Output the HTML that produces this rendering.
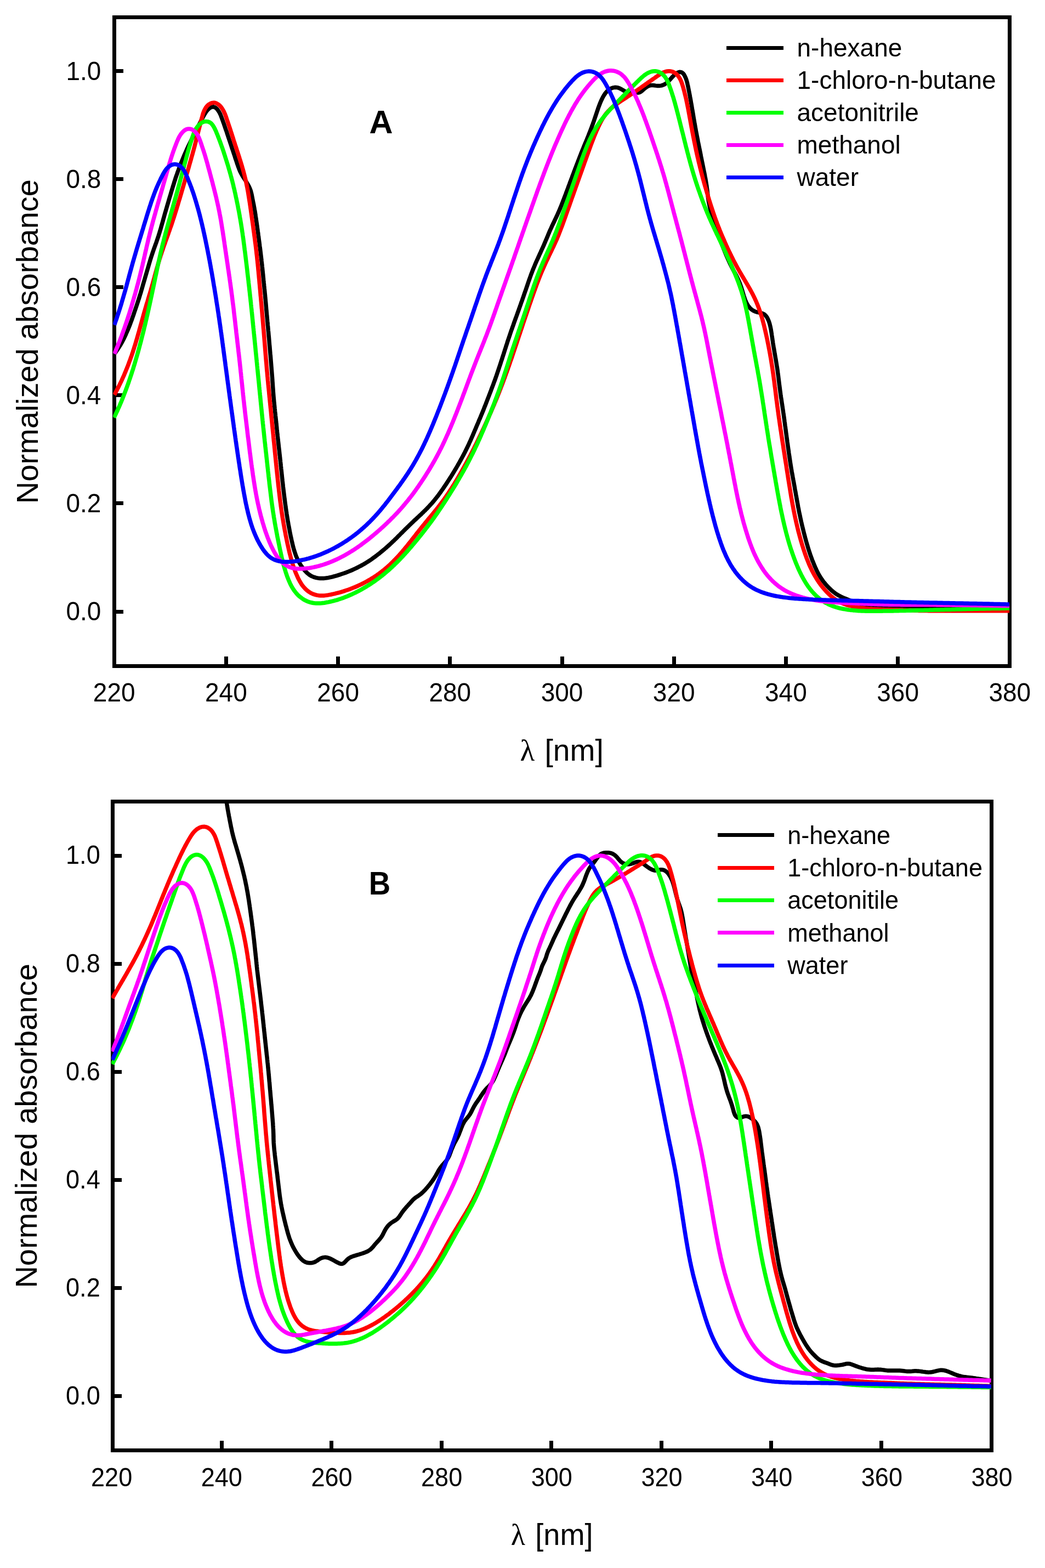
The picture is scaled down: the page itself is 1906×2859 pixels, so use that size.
<!DOCTYPE html>
<html lang="en"><head><meta charset="utf-8"><title>Normalized absorbance spectra</title>
<style>
html,body{margin:0;padding:0;background:#fff;}
body{width:1906px;height:2859px;overflow:hidden;}
svg{display:block;font-family:"Liberation Sans",Arial,Helvetica,sans-serif;fill:#000;}
</style></head><body>
<svg width="1906" height="2859" viewBox="0 0 1906 2859" role="img" aria-label="Normalized absorbance spectra in five solvents, panels A and B">
<rect width="1906" height="2859" fill="#fff"/>
<g>
<g stroke="#000" stroke-width="7.0" fill="none" shape-rendering="crispEdges">
<rect x="208.2" y="31.4" width="1633.6" height="1182.6"/>
<line x1="208.2" y1="1115.0" x2="225.2" y2="1115.0"/>
<line x1="208.2" y1="917.9" x2="225.2" y2="917.9"/>
<line x1="208.2" y1="720.8" x2="225.2" y2="720.8"/>
<line x1="208.2" y1="523.7" x2="225.2" y2="523.7"/>
<line x1="208.2" y1="326.6" x2="225.2" y2="326.6"/>
<line x1="208.2" y1="129.5" x2="225.2" y2="129.5"/>
<line x1="412.4" y1="1214.0" x2="412.4" y2="1197.0"/>
<line x1="616.6" y1="1214.0" x2="616.6" y2="1197.0"/>
<line x1="820.8" y1="1214.0" x2="820.8" y2="1197.0"/>
<line x1="1025.0" y1="1214.0" x2="1025.0" y2="1197.0"/>
<line x1="1229.2" y1="1214.0" x2="1229.2" y2="1197.0"/>
<line x1="1433.4" y1="1214.0" x2="1433.4" y2="1197.0"/>
<line x1="1637.6" y1="1214.0" x2="1637.6" y2="1197.0"/>
</g>
<text transform="translate(184.4 1131.0) scale(1.000 1.045)" text-anchor="end" font-size="46.0">0.0</text>
<text transform="translate(184.4 933.9) scale(1.000 1.045)" text-anchor="end" font-size="46.0">0.2</text>
<text transform="translate(184.4 736.8) scale(1.000 1.045)" text-anchor="end" font-size="46.0">0.4</text>
<text transform="translate(184.4 539.7) scale(1.000 1.045)" text-anchor="end" font-size="46.0">0.6</text>
<text transform="translate(184.4 342.6) scale(1.000 1.045)" text-anchor="end" font-size="46.0">0.8</text>
<text transform="translate(184.4 145.5) scale(1.000 1.045)" text-anchor="end" font-size="46.0">1.0</text>
<text transform="translate(208.2 1279.3) scale(1.000 1.045)" text-anchor="middle" font-size="46.0">220</text>
<text transform="translate(412.4 1279.3) scale(1.000 1.045)" text-anchor="middle" font-size="46.0">240</text>
<text transform="translate(616.6 1279.3) scale(1.000 1.045)" text-anchor="middle" font-size="46.0">260</text>
<text transform="translate(820.8 1279.3) scale(1.000 1.045)" text-anchor="middle" font-size="46.0">280</text>
<text transform="translate(1025.0 1279.3) scale(1.000 1.045)" text-anchor="middle" font-size="46.0">300</text>
<text transform="translate(1229.2 1279.3) scale(1.000 1.045)" text-anchor="middle" font-size="46.0">320</text>
<text transform="translate(1433.4 1279.3) scale(1.000 1.045)" text-anchor="middle" font-size="46.0">340</text>
<text transform="translate(1637.6 1279.3) scale(1.000 1.045)" text-anchor="middle" font-size="46.0">360</text>
<text transform="translate(1841.8 1279.3) scale(1.000 1.045)" text-anchor="middle" font-size="46.0">380</text>
<clipPath id="clipA"><rect x="206.2" y="31.4" width="1635.6" height="1182.6"/></clipPath>
<g clip-path="url(#clipA)" fill="none" stroke-width="7.5" stroke-linejoin="round" stroke-linecap="butt">
<path d="M208.6 645.2 L210.1 643.2 L211.6 641.2 L213.0 639.2 L214.4 637.1 L215.8 635.0 L217.2 632.9 L218.5 630.8 L219.8 628.7 L221.0 626.5 L222.3 624.3 L223.5 622.1 L224.6 619.9 L225.8 617.7 L226.9 615.4 L227.9 613.2 L229.0 610.9 L230.0 608.6 L231.0 606.3 L232.0 604.1 L233.0 601.7 L234.0 599.4 L234.9 597.1 L235.9 594.8 L236.8 592.5 L237.7 590.1 L238.5 587.8 L239.4 585.5 L240.3 583.1 L241.1 580.7 L241.9 578.4 L242.8 576.0 L243.6 573.7 L244.4 571.3 L245.2 568.9 L246.0 566.6 L246.8 564.2 L247.6 561.8 L248.4 559.5 L249.2 557.1 L250.0 554.7 L250.8 552.3 L251.6 550.0 L252.3 547.6 L253.1 545.2 L253.9 542.8 L254.6 540.4 L255.3 538.0 L256.1 535.6 L256.8 533.3 L257.5 530.9 L258.2 528.5 L258.9 526.1 L259.6 523.7 L260.3 521.3 L261.0 518.8 L261.7 516.4 L262.4 514.0 L263.1 511.6 L263.8 509.2 L264.5 506.8 L265.2 504.4 L265.9 502.0 L266.6 499.6 L267.3 497.2 L268.0 494.8 L268.7 492.4 L269.4 490.0 L270.1 487.6 L270.8 485.2 L271.5 482.8 L272.2 480.4 L272.9 478.0 L273.6 475.6 L274.3 473.2 L275.1 470.8 L275.8 468.5 L276.6 466.1 L277.4 463.7 L278.2 461.3 L279.0 459.0 L279.8 456.6 L280.6 454.2 L281.5 451.9 L282.3 449.5 L283.2 447.2 L284.0 444.8 L284.9 442.5 L285.7 440.1 L286.5 437.8 L287.3 435.4 L288.1 433.0 L288.9 430.6 L289.6 428.3 L290.4 425.9 L291.1 423.5 L291.8 421.1 L292.6 418.7 L293.3 416.3 L294.0 413.9 L294.6 411.5 L295.3 409.1 L296.0 406.7 L296.7 404.3 L297.4 401.9 L298.0 399.4 L298.7 397.0 L299.4 394.6 L300.0 392.2 L300.7 389.8 L301.4 387.4 L302.1 385.0 L302.8 382.6 L303.5 380.2 L304.2 377.8 L304.9 375.4 L305.6 373.0 L306.3 370.6 L307.0 368.2 L307.7 365.8 L308.4 363.4 L309.1 361.0 L309.8 358.6 L310.6 356.2 L311.3 353.8 L312.0 351.4 L312.7 349.0 L313.4 346.6 L314.2 344.2 L314.9 341.8 L315.6 339.4 L316.4 337.1 L317.1 334.7 L317.8 332.3 L318.6 329.9 L319.4 327.5 L320.1 325.1 L320.9 322.8 L321.7 320.4 L322.6 318.0 L323.4 315.7 L324.2 313.3 L325.1 311.0 L326.0 308.6 L326.8 306.3 L327.7 303.9 L328.6 301.6 L329.5 299.3 L330.4 296.9 L331.4 294.6 L332.3 292.3 L333.2 290.0 L334.2 287.7 L335.1 285.4 L336.1 283.1 L337.1 280.8 L338.1 278.5 L339.1 276.2 L340.1 273.9 L341.1 271.6 L342.2 269.3 L343.2 267.1 L344.3 264.8 L345.4 262.6 L346.5 260.3 L347.6 258.1 L348.7 255.8 L349.8 253.6 L350.9 251.3 L352.0 249.1 L353.2 246.9 L354.3 244.6 L355.4 242.4 L356.5 240.2 L357.7 237.9 L358.8 235.7 L359.9 233.5 L361.0 231.2 L362.2 229.0 L363.3 226.8 L364.5 224.6 L365.6 222.3 L366.8 220.1 L367.9 217.9 L369.1 215.7 L370.3 213.5 L371.5 211.3 L372.7 209.1 L374.0 207.0 L375.3 204.8 L376.8 202.8 L378.3 200.9 L380.1 199.1 L382.0 197.5 L384.1 196.1 L386.4 195.1 L388.8 194.7 L391.2 195.3 L393.4 196.6 L395.3 198.3 L396.9 200.1 L398.4 202.2 L399.7 204.3 L400.9 206.5 L402.0 208.7 L402.9 211.0 L403.8 213.4 L404.7 215.7 L405.5 218.1 L406.4 220.4 L407.2 222.8 L408.1 225.1 L408.9 227.5 L409.7 229.9 L410.5 232.2 L411.3 234.6 L412.1 237.0 L413.0 239.3 L413.8 241.7 L414.5 244.1 L415.3 246.4 L416.1 248.8 L416.9 251.2 L417.7 253.6 L418.5 255.9 L419.3 258.3 L420.1 260.7 L420.9 263.1 L421.7 265.4 L422.4 267.8 L423.2 270.2 L424.0 272.5 L424.8 274.9 L425.6 277.3 L426.4 279.7 L427.2 282.0 L428.0 284.4 L428.7 286.8 L429.5 289.2 L430.3 291.5 L431.1 293.9 L431.9 296.3 L432.7 298.7 L433.5 301.0 L434.3 303.4 L435.2 305.7 L436.1 308.1 L437.0 310.4 L438.0 312.7 L439.1 314.9 L440.3 317.1 L441.5 319.3 L442.8 321.5 L444.1 323.6 L445.5 325.7 L446.9 327.8 L448.2 329.9 L449.5 332.0 L450.8 334.1 L452.1 336.3 L453.3 338.5 L454.4 340.7 L455.5 343.0 L456.4 345.3 L457.3 347.7 L457.9 350.1 L458.5 352.5 L459.1 354.9 L459.6 357.4 L460.0 359.8 L460.5 362.3 L461.0 364.8 L461.5 367.2 L462.0 369.7 L462.5 372.1 L463.0 374.6 L463.4 377.0 L463.9 379.5 L464.3 381.9 L464.8 384.4 L465.2 386.9 L465.6 389.3 L466.0 391.8 L466.3 394.3 L466.7 396.8 L467.1 399.2 L467.4 401.7 L467.8 404.2 L468.1 406.7 L468.5 409.1 L468.9 411.6 L469.2 414.1 L469.5 416.6 L469.9 419.0 L470.2 421.5 L470.6 424.0 L470.9 426.5 L471.2 429.0 L471.6 431.4 L471.9 433.9 L472.2 436.4 L472.5 438.9 L472.9 441.4 L473.2 443.8 L473.5 446.3 L473.8 448.8 L474.2 451.3 L474.5 453.8 L474.8 456.2 L475.1 458.7 L475.4 461.2 L475.7 463.7 L476.0 466.2 L476.3 468.7 L476.6 471.1 L476.9 473.6 L477.1 476.1 L477.4 478.6 L477.7 481.1 L478.0 483.6 L478.2 486.1 L478.5 488.5 L478.7 491.0 L479.0 493.5 L479.2 496.0 L479.5 498.5 L479.8 501.0 L480.0 503.5 L480.2 506.0 L480.5 508.4 L480.7 510.9 L481.0 513.4 L481.2 515.9 L481.5 518.4 L481.7 520.9 L482.0 523.4 L482.2 525.9 L482.5 528.4 L482.7 530.8 L483.0 533.3 L483.2 535.8 L483.5 538.3 L483.7 540.8 L483.9 543.3 L484.2 545.8 L484.4 548.3 L484.6 550.8 L484.9 553.3 L485.1 555.7 L485.3 558.2 L485.5 560.7 L485.7 563.2 L485.9 565.7 L486.2 568.2 L486.4 570.7 L486.6 573.2 L486.8 575.7 L487.1 578.2 L487.3 580.7 L487.5 583.1 L487.7 585.6 L488.0 588.1 L488.2 590.6 L488.4 593.1 L488.7 595.6 L488.9 598.1 L489.1 600.6 L489.3 603.1 L489.6 605.6 L489.8 608.1 L490.0 610.5 L490.2 613.0 L490.5 615.5 L490.7 618.0 L490.9 620.5 L491.1 623.0 L491.3 625.5 L491.5 628.0 L491.7 630.5 L492.0 633.0 L492.2 635.5 L492.4 638.0 L492.6 640.4 L492.8 642.9 L493.0 645.4 L493.3 647.9 L493.5 650.4 L493.7 652.9 L493.9 655.4 L494.1 657.9 L494.3 660.4 L494.5 662.9 L494.7 665.4 L494.9 667.9 L495.1 670.3 L495.3 672.8 L495.5 675.3 L495.7 677.8 L495.9 680.3 L496.1 682.8 L496.3 685.3 L496.5 687.8 L496.7 690.3 L496.8 692.8 L497.0 695.3 L497.2 697.8 L497.4 700.3 L497.5 702.8 L497.7 705.3 L497.9 707.8 L498.1 710.3 L498.2 712.8 L498.4 715.2 L498.6 717.7 L498.8 720.2 L499.0 722.7 L499.2 725.2 L499.4 727.7 L499.7 730.2 L499.9 732.7 L500.1 735.2 L500.4 737.7 L500.6 740.2 L500.9 742.6 L501.1 745.1 L501.4 747.6 L501.6 750.1 L501.9 752.6 L502.2 755.1 L502.4 757.6 L502.7 760.1 L503.0 762.5 L503.2 765.0 L503.5 767.5 L503.8 770.0 L504.0 772.5 L504.3 775.0 L504.5 777.5 L504.8 780.0 L505.0 782.4 L505.3 784.9 L505.5 787.4 L505.8 789.9 L506.1 792.4 L506.3 794.9 L506.6 797.4 L506.9 799.9 L507.1 802.3 L507.4 804.8 L507.7 807.3 L508.0 809.8 L508.2 812.3 L508.5 814.8 L508.8 817.3 L509.1 819.7 L509.4 822.2 L509.6 824.7 L509.9 827.2 L510.2 829.7 L510.5 832.2 L510.7 834.7 L511.0 837.1 L511.3 839.6 L511.5 842.1 L511.8 844.6 L512.1 847.1 L512.3 849.6 L512.6 852.1 L512.8 854.6 L513.1 857.0 L513.4 859.5 L513.6 862.0 L513.9 864.5 L514.2 867.0 L514.4 869.5 L514.7 872.0 L515.0 874.5 L515.2 876.9 L515.5 879.4 L515.8 881.9 L516.1 884.4 L516.3 886.9 L516.6 889.4 L516.9 891.8 L517.2 894.3 L517.5 896.8 L517.8 899.3 L518.1 901.8 L518.4 904.3 L518.7 906.7 L519.0 909.2 L519.4 911.7 L519.7 914.2 L520.0 916.7 L520.3 919.1 L520.7 921.6 L521.0 924.1 L521.4 926.6 L521.7 929.1 L522.1 931.5 L522.5 934.0 L522.8 936.5 L523.2 938.9 L523.6 941.4 L524.0 943.9 L524.4 946.4 L524.8 948.8 L525.2 951.3 L525.7 953.7 L526.1 956.2 L526.6 958.7 L527.0 961.1 L527.5 963.6 L528.0 966.0 L528.4 968.5 L528.9 971.0 L529.4 973.4 L529.9 975.9 L530.4 978.3 L530.9 980.7 L531.5 983.2 L532.0 985.6 L532.6 988.1 L533.1 990.5 L533.7 992.9 L534.3 995.4 L534.9 997.8 L535.6 1000.2 L536.3 1002.6 L537.0 1005.0 L537.8 1007.4 L538.6 1009.8 L539.4 1012.1 L540.3 1014.4 L541.3 1016.7 L542.3 1019.0 L543.4 1021.3 L544.5 1023.5 L545.7 1025.7 L547.0 1027.9 L548.3 1030.0 L549.7 1032.1 L551.1 1034.1 L552.6 1036.1 L554.1 1038.1 L555.7 1040.0 L557.4 1041.9 L559.1 1043.7 L561.0 1045.4 L562.9 1047.0 L564.9 1048.5 L567.0 1049.8 L569.2 1050.9 L571.6 1051.9 L573.9 1052.7 L576.3 1053.4 L578.8 1053.9 L581.3 1054.2 L583.8 1054.4 L586.3 1054.5 L588.8 1054.5 L591.3 1054.4 L593.7 1054.1 L596.2 1053.8 L598.7 1053.4 L601.1 1052.9 L603.6 1052.3 L606.0 1051.8 L608.4 1051.1 L610.8 1050.5 L613.3 1049.8 L615.7 1049.1 L618.0 1048.4 L620.4 1047.6 L622.8 1046.8 L625.2 1046.0 L627.5 1045.2 L629.9 1044.4 L632.2 1043.5 L634.6 1042.6 L636.9 1041.6 L639.2 1040.7 L641.5 1039.7 L643.8 1038.7 L646.1 1037.6 L648.3 1036.6 L650.6 1035.5 L652.8 1034.4 L655.0 1033.2 L657.3 1032.1 L659.5 1030.9 L661.6 1029.7 L663.8 1028.5 L666.0 1027.2 L668.1 1025.9 L670.3 1024.6 L672.4 1023.2 L674.5 1021.9 L676.5 1020.5 L678.6 1019.1 L680.6 1017.6 L682.6 1016.1 L684.7 1014.6 L686.7 1013.1 L688.6 1011.6 L690.6 1010.1 L692.6 1008.5 L694.5 1006.9 L696.4 1005.3 L698.4 1003.7 L700.3 1002.1 L702.2 1000.5 L704.1 998.9 L705.9 997.2 L707.8 995.6 L709.7 993.9 L711.5 992.2 L713.4 990.5 L715.2 988.8 L717.0 987.1 L718.8 985.4 L720.6 983.6 L722.4 981.9 L724.2 980.1 L725.9 978.3 L727.7 976.6 L729.5 974.8 L731.2 973.0 L733.0 971.3 L734.8 969.5 L736.5 967.7 L738.3 966.0 L740.1 964.2 L741.9 962.5 L743.7 960.7 L745.5 959.0 L747.3 957.2 L749.1 955.5 L750.9 953.8 L752.7 952.1 L754.5 950.3 L756.3 948.6 L758.2 946.9 L760.0 945.2 L761.8 943.5 L763.7 941.8 L765.5 940.1 L767.3 938.4 L769.1 936.7 L770.9 934.9 L772.7 933.2 L774.5 931.4 L776.3 929.7 L778.1 927.9 L779.8 926.1 L781.5 924.3 L783.2 922.5 L784.9 920.6 L786.6 918.8 L788.3 916.9 L789.9 915.0 L791.5 913.1 L793.1 911.2 L794.7 909.2 L796.2 907.3 L797.7 905.3 L799.3 903.3 L800.7 901.3 L802.2 899.3 L803.7 897.2 L805.1 895.2 L806.6 893.1 L808.0 891.1 L809.4 889.0 L810.8 887.0 L812.2 884.9 L813.6 882.8 L815.0 880.7 L816.3 878.6 L817.7 876.5 L819.1 874.4 L820.4 872.3 L821.8 870.2 L823.1 868.1 L824.4 866.0 L825.7 863.8 L827.0 861.7 L828.3 859.6 L829.6 857.4 L830.9 855.3 L832.2 853.1 L833.4 851.0 L834.7 848.8 L835.9 846.6 L837.2 844.5 L838.4 842.3 L839.6 840.1 L840.8 837.9 L842.0 835.7 L843.2 833.5 L844.4 831.3 L845.6 829.1 L846.7 826.9 L847.9 824.7 L849.0 822.4 L850.1 820.2 L851.2 817.9 L852.3 815.7 L853.4 813.4 L854.5 811.2 L855.5 808.9 L856.5 806.6 L857.6 804.3 L858.6 802.1 L859.6 799.8 L860.6 797.5 L861.6 795.2 L862.6 792.9 L863.6 790.6 L864.6 788.3 L865.5 786.0 L866.5 783.7 L867.5 781.4 L868.5 779.1 L869.4 776.8 L870.4 774.5 L871.4 772.2 L872.4 769.9 L873.3 767.6 L874.3 765.3 L875.3 763.0 L876.3 760.7 L877.2 758.4 L878.2 756.1 L879.2 753.7 L880.1 751.4 L881.1 749.1 L882.0 746.8 L882.9 744.5 L883.8 742.1 L884.8 739.8 L885.7 737.5 L886.6 735.2 L887.5 732.8 L888.4 730.5 L889.3 728.2 L890.2 725.8 L891.1 723.5 L892.0 721.2 L892.9 718.8 L893.8 716.5 L894.7 714.1 L895.6 711.8 L896.4 709.5 L897.3 707.1 L898.2 704.8 L899.1 702.5 L900.0 700.1 L900.8 697.8 L901.7 695.4 L902.6 693.1 L903.4 690.7 L904.2 688.4 L905.1 686.0 L905.9 683.6 L906.7 681.3 L907.5 678.9 L908.3 676.5 L909.1 674.2 L909.9 671.8 L910.7 669.4 L911.5 667.1 L912.3 664.7 L913.1 662.3 L913.8 659.9 L914.6 657.5 L915.4 655.2 L916.2 652.8 L916.9 650.4 L917.7 648.0 L918.5 645.6 L919.2 643.3 L920.0 640.9 L920.7 638.5 L921.5 636.1 L922.3 633.7 L923.0 631.4 L923.8 629.0 L924.6 626.6 L925.3 624.2 L926.1 621.8 L926.9 619.5 L927.7 617.1 L928.5 614.7 L929.3 612.4 L930.1 610.0 L930.9 607.6 L931.7 605.3 L932.5 602.9 L933.4 600.5 L934.2 598.2 L935.0 595.8 L935.9 593.5 L936.7 591.1 L937.5 588.7 L938.4 586.4 L939.2 584.0 L940.1 581.7 L940.9 579.3 L941.8 577.0 L942.6 574.6 L943.5 572.3 L944.3 569.9 L945.2 567.6 L946.0 565.2 L946.8 562.9 L947.7 560.5 L948.5 558.1 L949.4 555.8 L950.2 553.4 L951.0 551.1 L951.9 548.7 L952.7 546.4 L953.5 544.0 L954.4 541.6 L955.2 539.3 L956.0 536.9 L956.8 534.5 L957.6 532.2 L958.5 529.8 L959.3 527.5 L960.1 525.1 L960.9 522.7 L961.7 520.4 L962.5 518.0 L963.3 515.6 L964.1 513.3 L965.0 510.9 L965.8 508.5 L966.6 506.2 L967.5 503.8 L968.3 501.5 L969.2 499.1 L970.1 496.8 L971.0 494.5 L971.9 492.1 L972.9 489.8 L973.8 487.5 L974.8 485.2 L975.7 482.9 L976.7 480.6 L977.7 478.3 L978.7 476.0 L979.8 473.7 L980.8 471.5 L981.8 469.2 L982.9 466.9 L983.9 464.6 L984.9 462.4 L986.0 460.1 L987.0 457.8 L988.0 455.5 L989.1 453.2 L990.1 451.0 L991.1 448.7 L992.1 446.4 L993.1 444.1 L994.1 441.8 L995.0 439.5 L996.0 437.2 L997.0 434.9 L998.0 432.6 L998.9 430.3 L999.9 427.9 L1000.9 425.6 L1001.8 423.3 L1002.8 421.0 L1003.8 418.8 L1004.9 416.5 L1005.9 414.2 L1006.9 411.9 L1008.0 409.7 L1009.1 407.4 L1010.2 405.2 L1011.3 402.9 L1012.3 400.6 L1013.4 398.4 L1014.5 396.1 L1015.5 393.9 L1016.6 391.6 L1017.6 389.3 L1018.6 387.0 L1019.6 384.7 L1020.6 382.4 L1021.6 380.1 L1022.5 377.8 L1023.5 375.5 L1024.4 373.2 L1025.3 370.8 L1026.2 368.5 L1027.1 366.2 L1028.0 363.9 L1028.9 361.5 L1029.8 359.2 L1030.7 356.8 L1031.6 354.5 L1032.5 352.2 L1033.3 349.8 L1034.2 347.5 L1035.1 345.1 L1036.0 342.8 L1036.8 340.4 L1037.7 338.1 L1038.6 335.8 L1039.4 333.4 L1040.3 331.1 L1041.2 328.7 L1042.1 326.4 L1043.0 324.0 L1043.8 321.7 L1044.7 319.4 L1045.6 317.0 L1046.5 314.7 L1047.3 312.3 L1048.2 310.0 L1049.1 307.6 L1050.0 305.3 L1050.9 303.0 L1051.8 300.6 L1052.7 298.3 L1053.6 296.0 L1054.5 293.6 L1055.4 291.3 L1056.3 289.0 L1057.2 286.6 L1058.1 284.3 L1059.0 282.0 L1059.9 279.7 L1060.9 277.3 L1061.8 275.0 L1062.7 272.7 L1063.7 270.4 L1064.6 268.1 L1065.6 265.8 L1066.5 263.4 L1067.5 261.1 L1068.5 258.8 L1069.4 256.5 L1070.4 254.2 L1071.3 251.9 L1072.3 249.6 L1073.2 247.3 L1074.1 244.9 L1075.0 242.6 L1076.0 240.3 L1076.9 237.9 L1077.7 235.6 L1078.6 233.3 L1079.5 230.9 L1080.3 228.6 L1081.2 226.2 L1082.0 223.9 L1082.9 221.5 L1083.7 219.1 L1084.5 216.8 L1085.3 214.4 L1086.1 212.0 L1086.9 209.6 L1087.7 207.3 L1088.5 204.9 L1089.3 202.5 L1090.1 200.2 L1090.9 197.8 L1091.7 195.5 L1092.6 193.1 L1093.5 190.8 L1094.4 188.4 L1095.4 186.1 L1096.4 183.8 L1097.4 181.6 L1098.5 179.3 L1099.6 177.1 L1100.9 174.9 L1102.2 172.8 L1103.6 170.7 L1105.1 168.7 L1106.8 166.9 L1108.6 165.1 L1110.5 163.6 L1112.6 162.2 L1114.9 161.1 L1117.2 160.2 L1119.6 159.6 L1122.1 159.3 L1124.6 159.4 L1127.0 159.9 L1129.4 160.7 L1131.7 161.8 L1133.9 163.0 L1136.0 164.2 L1138.2 165.5 L1140.4 166.7 L1142.6 167.8 L1145.0 168.7 L1147.4 169.2 L1149.9 169.2 L1152.4 169.0 L1154.9 168.8 L1157.4 168.8 L1159.9 169.0 L1162.4 169.1 L1164.9 168.9 L1167.2 168.1 L1169.4 166.9 L1171.3 165.3 L1173.2 163.7 L1175.1 162.0 L1177.0 160.4 L1179.0 158.9 L1181.2 157.6 L1183.4 156.6 L1185.8 155.8 L1188.3 155.5 L1190.8 155.5 L1193.3 155.7 L1195.7 156.1 L1198.2 156.4 L1200.7 156.5 L1203.2 156.4 L1205.7 156.1 L1208.1 155.5 L1210.5 154.6 L1212.7 153.4 L1214.8 152.0 L1216.7 150.5 L1218.6 148.8 L1220.3 147.0 L1222.0 145.2 L1223.7 143.3 L1225.3 141.4 L1227.0 139.6 L1228.8 137.8 L1230.6 136.1 L1232.5 134.5 L1234.6 133.1 L1236.8 132.0 L1239.2 131.3 L1241.7 131.4 L1244.0 132.3 L1245.9 133.9 L1247.5 135.9 L1248.7 138.0 L1249.8 140.3 L1250.8 142.6 L1251.7 144.9 L1252.4 147.3 L1253.1 149.7 L1253.7 152.2 L1254.2 154.6 L1254.8 157.0 L1255.3 159.5 L1255.8 161.9 L1256.3 164.4 L1256.7 166.8 L1257.2 169.3 L1257.7 171.8 L1258.2 174.2 L1258.6 176.7 L1259.1 179.1 L1259.5 181.6 L1260.0 184.1 L1260.4 186.5 L1260.8 189.0 L1261.3 191.4 L1261.7 193.9 L1262.1 196.4 L1262.5 198.8 L1262.9 201.3 L1263.4 203.8 L1263.8 206.2 L1264.2 208.7 L1264.6 211.2 L1265.0 213.6 L1265.4 216.1 L1265.8 218.6 L1266.3 221.0 L1266.7 223.5 L1267.1 226.0 L1267.6 228.4 L1268.0 230.9 L1268.4 233.3 L1268.9 235.8 L1269.3 238.3 L1269.8 240.7 L1270.3 243.2 L1270.7 245.6 L1271.2 248.1 L1271.7 250.6 L1272.2 253.0 L1272.7 255.5 L1273.1 257.9 L1273.6 260.4 L1274.1 262.8 L1274.6 265.3 L1275.1 267.7 L1275.6 270.2 L1276.1 272.6 L1276.6 275.1 L1277.1 277.5 L1277.6 280.0 L1278.1 282.4 L1278.5 284.9 L1279.0 287.3 L1279.5 289.8 L1280.0 292.2 L1280.5 294.7 L1281.0 297.1 L1281.5 299.6 L1282.0 302.0 L1282.5 304.5 L1283.0 307.0 L1283.5 309.4 L1284.0 311.9 L1284.5 314.3 L1285.0 316.8 L1285.5 319.2 L1285.9 321.7 L1286.4 324.1 L1286.8 326.6 L1287.3 329.1 L1287.7 331.5 L1288.1 334.0 L1288.5 336.5 L1288.9 338.9 L1289.2 341.4 L1289.5 343.9 L1289.9 346.4 L1290.2 348.8 L1290.4 351.3 L1290.7 353.8 L1291.0 356.3 L1291.3 358.8 L1291.6 361.3 L1292.0 363.7 L1292.3 366.2 L1292.7 368.7 L1293.2 371.1 L1293.7 373.6 L1294.2 376.0 L1294.7 378.5 L1295.3 380.9 L1295.9 383.3 L1296.6 385.8 L1297.2 388.2 L1297.9 390.6 L1298.6 393.0 L1299.4 395.4 L1300.1 397.8 L1300.9 400.1 L1301.7 402.5 L1302.5 404.9 L1303.2 407.3 L1304.0 409.6 L1304.9 412.0 L1305.7 414.4 L1306.5 416.7 L1307.3 419.1 L1308.1 421.5 L1308.9 423.8 L1309.7 426.2 L1310.5 428.6 L1311.3 430.9 L1312.2 433.3 L1313.0 435.6 L1313.8 438.0 L1314.7 440.3 L1315.6 442.7 L1316.5 445.0 L1317.4 447.4 L1318.3 449.7 L1319.2 452.0 L1320.1 454.3 L1321.1 456.6 L1322.0 459.0 L1323.0 461.3 L1323.9 463.6 L1324.9 465.9 L1325.9 468.2 L1326.9 470.5 L1327.9 472.8 L1328.9 475.1 L1329.9 477.3 L1331.0 479.6 L1332.1 481.9 L1333.2 484.1 L1334.3 486.3 L1335.5 488.6 L1336.6 490.8 L1337.8 493.0 L1339.0 495.2 L1340.2 497.4 L1341.4 499.6 L1342.6 501.8 L1343.7 504.0 L1344.8 506.2 L1345.9 508.5 L1346.9 510.8 L1347.9 513.1 L1348.9 515.4 L1349.8 517.7 L1350.6 520.1 L1351.5 522.4 L1352.3 524.8 L1353.0 527.2 L1353.8 529.6 L1354.5 532.0 L1355.2 534.3 L1355.9 536.7 L1356.6 539.1 L1357.4 541.5 L1358.2 543.9 L1359.0 546.3 L1359.9 548.6 L1360.9 550.9 L1362.0 553.1 L1363.3 555.3 L1364.6 557.4 L1366.1 559.4 L1367.7 561.4 L1369.4 563.1 L1371.3 564.7 L1373.4 566.1 L1375.6 567.3 L1377.9 568.2 L1380.3 569.0 L1382.8 569.5 L1385.2 570.0 L1387.7 570.6 L1390.1 571.3 L1392.4 572.2 L1394.5 573.5 L1396.4 575.2 L1397.9 577.1 L1399.3 579.3 L1400.4 581.5 L1401.5 583.8 L1402.4 586.1 L1403.2 588.5 L1403.9 590.9 L1404.5 593.3 L1405.1 595.7 L1405.6 598.2 L1406.1 600.6 L1406.5 603.1 L1406.9 605.5 L1407.3 608.0 L1407.6 610.5 L1408.0 613.0 L1408.4 615.4 L1408.7 617.9 L1409.1 620.4 L1409.5 622.9 L1409.8 625.3 L1410.2 627.8 L1410.6 630.3 L1411.0 632.7 L1411.5 635.2 L1411.9 637.7 L1412.3 640.1 L1412.7 642.6 L1413.1 645.1 L1413.6 647.5 L1414.0 650.0 L1414.4 652.5 L1414.9 654.9 L1415.3 657.4 L1415.7 659.9 L1416.1 662.3 L1416.5 664.8 L1416.9 667.3 L1417.3 669.7 L1417.7 672.2 L1418.0 674.7 L1418.4 677.2 L1418.7 679.6 L1419.0 682.1 L1419.4 684.6 L1419.7 687.1 L1420.0 689.6 L1420.3 692.0 L1420.6 694.5 L1420.9 697.0 L1421.2 699.5 L1421.5 702.0 L1421.8 704.4 L1422.2 706.9 L1422.5 709.4 L1422.8 711.9 L1423.1 714.4 L1423.5 716.8 L1423.8 719.3 L1424.2 721.8 L1424.5 724.3 L1424.9 726.7 L1425.3 729.2 L1425.6 731.7 L1426.0 734.2 L1426.4 736.6 L1426.8 739.1 L1427.1 741.6 L1427.5 744.1 L1427.9 746.5 L1428.3 749.0 L1428.6 751.5 L1429.0 754.0 L1429.3 756.4 L1429.7 758.9 L1430.0 761.4 L1430.4 763.9 L1430.7 766.3 L1431.0 768.8 L1431.4 771.3 L1431.7 773.8 L1432.0 776.3 L1432.4 778.7 L1432.7 781.2 L1433.0 783.7 L1433.4 786.2 L1433.7 788.6 L1434.0 791.1 L1434.4 793.6 L1434.7 796.1 L1435.0 798.6 L1435.4 801.0 L1435.7 803.5 L1436.0 806.0 L1436.4 808.5 L1436.7 810.9 L1437.1 813.4 L1437.4 815.9 L1437.8 818.4 L1438.1 820.9 L1438.5 823.3 L1438.8 825.8 L1439.2 828.3 L1439.6 830.8 L1439.9 833.2 L1440.3 835.7 L1440.7 838.2 L1441.0 840.7 L1441.4 843.1 L1441.8 845.6 L1442.2 848.1 L1442.6 850.5 L1443.0 853.0 L1443.4 855.5 L1443.8 857.9 L1444.2 860.4 L1444.7 862.9 L1445.1 865.3 L1445.6 867.8 L1446.0 870.2 L1446.5 872.7 L1446.9 875.2 L1447.4 877.6 L1447.8 880.1 L1448.3 882.5 L1448.7 885.0 L1449.2 887.5 L1449.6 889.9 L1450.0 892.4 L1450.5 894.9 L1450.9 897.3 L1451.4 899.8 L1451.8 902.2 L1452.3 904.7 L1452.7 907.2 L1453.1 909.6 L1453.6 912.1 L1454.0 914.5 L1454.5 917.0 L1454.9 919.5 L1455.4 921.9 L1455.8 924.4 L1456.3 926.8 L1456.8 929.3 L1457.2 931.8 L1457.7 934.2 L1458.2 936.7 L1458.8 939.1 L1459.3 941.6 L1459.8 944.0 L1460.3 946.4 L1460.9 948.9 L1461.4 951.3 L1462.0 953.8 L1462.5 956.2 L1463.1 958.6 L1463.7 961.1 L1464.3 963.5 L1464.9 965.9 L1465.5 968.4 L1466.1 970.8 L1466.7 973.2 L1467.3 975.6 L1468.0 978.0 L1468.6 980.5 L1469.3 982.9 L1469.9 985.3 L1470.6 987.7 L1471.3 990.1 L1472.0 992.5 L1472.7 994.9 L1473.4 997.3 L1474.1 999.7 L1474.9 1002.1 L1475.6 1004.5 L1476.4 1006.8 L1477.2 1009.2 L1478.0 1011.6 L1478.8 1013.9 L1479.7 1016.3 L1480.6 1018.6 L1481.4 1021.0 L1482.3 1023.3 L1483.3 1025.6 L1484.2 1027.9 L1485.2 1030.3 L1486.1 1032.6 L1487.1 1034.8 L1488.2 1037.1 L1489.2 1039.4 L1490.3 1041.6 L1491.5 1043.9 L1492.6 1046.1 L1493.9 1048.3 L1495.1 1050.4 L1496.4 1052.6 L1497.8 1054.7 L1499.2 1056.7 L1500.6 1058.8 L1502.1 1060.8 L1503.7 1062.7 L1505.3 1064.7 L1506.9 1066.5 L1508.6 1068.4 L1510.3 1070.2 L1512.1 1072.0 L1513.9 1073.7 L1515.7 1075.5 L1517.5 1077.1 L1519.4 1078.8 L1521.4 1080.3 L1523.4 1081.8 L1525.5 1083.2 L1527.6 1084.5 L1529.8 1085.8 L1532.0 1086.9 L1534.2 1088.0 L1536.5 1089.1 L1538.8 1090.1 L1541.1 1091.1 L1543.4 1092.0 L1545.7 1093.0 L1548.0 1094.0 L1550.3 1095.0 L1552.6 1096.0 L1554.9 1097.0 L1557.2 1098.0 L1559.5 1098.9 L1561.9 1099.7 L1564.2 1100.5 L1566.6 1101.3 L1569.0 1102.0 L1571.4 1102.6 L1573.9 1103.1 L1576.3 1103.6 L1578.8 1104.0 L1581.3 1104.4 L1583.8 1104.7 L1586.3 1104.9 L1588.8 1105.1 L1591.2 1105.3 L1593.7 1105.4 L1596.2 1105.4 L1598.7 1105.5 L1601.2 1105.5 L1603.7 1105.5 L1606.2 1105.4 L1608.8 1105.4 L1611.3 1105.4 L1613.8 1105.3 L1616.3 1105.3 L1618.8 1105.2 L1621.3 1105.2 L1623.8 1105.2 L1626.3 1105.1 L1628.8 1105.1 L1631.3 1105.1 L1633.8 1105.1 L1636.3 1105.1 L1638.8 1105.1 L1641.3 1105.1 L1643.8 1105.1 L1646.3 1105.1 L1648.8 1105.2 L1651.3 1105.2 L1653.8 1105.2 L1656.3 1105.2 L1658.8 1105.3 L1661.3 1105.3 L1663.8 1105.4 L1666.3 1105.4 L1668.8 1105.5 L1671.3 1105.5 L1673.8 1105.5 L1676.3 1105.6 L1678.8 1105.6 L1681.3 1105.7 L1683.8 1105.7 L1686.3 1105.8 L1688.8 1105.8 L1691.3 1105.8 L1693.8 1105.9 L1696.3 1105.9 L1698.8 1105.9 L1701.3 1105.9 L1703.8 1106.0 L1706.3 1106.0 L1708.8 1106.0 L1711.3 1106.0 L1713.8 1106.0 L1716.3 1106.1 L1718.8 1106.1 L1721.3 1106.1 L1723.8 1106.1 L1726.3 1106.1 L1728.8 1106.1 L1731.3 1106.1 L1733.8 1106.1 L1736.3 1106.1 L1738.8 1106.1 L1741.3 1106.1 L1743.8 1106.2 L1746.3 1106.2 L1748.8 1106.2 L1751.3 1106.2 L1753.8 1106.2 L1756.3 1106.2 L1758.8 1106.2 L1761.3 1106.2 L1763.8 1106.2 L1766.3 1106.2 L1768.8 1106.2 L1771.3 1106.3 L1773.8 1106.3 L1776.3 1106.3 L1778.8 1106.3 L1781.3 1106.3 L1783.8 1106.3 L1786.3 1106.3 L1788.8 1106.4 L1791.3 1106.4 L1793.8 1106.4 L1796.3 1106.4 L1798.8 1106.4 L1801.3 1106.5 L1803.8 1106.5 L1806.3 1106.5 L1808.8 1106.5 L1811.3 1106.5 L1813.8 1106.6 L1816.3 1106.6 L1818.8 1106.6 L1821.3 1106.6 L1823.8 1106.7 L1826.3 1106.7 L1828.8 1106.7 L1831.3 1106.7 L1833.8 1106.8 L1836.3 1106.8 L1838.8 1106.8 L1841.3 1106.8" stroke="#000000"/>
<path d="M208.6 719.9 L209.8 717.7 L211.0 715.4 L212.1 713.2 L213.3 711.0 L214.4 708.8 L215.6 706.6 L216.7 704.3 L217.8 702.1 L218.9 699.8 L220.0 697.6 L221.1 695.3 L222.2 693.1 L223.2 690.8 L224.2 688.5 L225.3 686.2 L226.3 684.0 L227.2 681.7 L228.2 679.3 L229.2 677.0 L230.1 674.7 L231.0 672.4 L232.0 670.1 L232.9 667.7 L233.8 665.4 L234.7 663.1 L235.5 660.7 L236.4 658.4 L237.3 656.0 L238.1 653.7 L238.9 651.3 L239.8 649.0 L240.6 646.6 L241.4 644.2 L242.2 641.9 L242.9 639.5 L243.7 637.1 L244.5 634.7 L245.2 632.3 L246.0 629.9 L246.7 627.6 L247.4 625.2 L248.1 622.8 L248.8 620.4 L249.6 618.0 L250.3 615.6 L250.9 613.2 L251.6 610.8 L252.3 608.4 L253.0 606.0 L253.7 603.5 L254.3 601.1 L255.0 598.7 L255.7 596.3 L256.3 593.9 L257.0 591.5 L257.7 589.1 L258.3 586.7 L259.0 584.3 L259.6 581.9 L260.3 579.4 L261.0 577.0 L261.7 574.6 L262.3 572.2 L263.0 569.8 L263.7 567.4 L264.4 565.0 L265.1 562.6 L265.8 560.2 L266.5 557.8 L267.2 555.4 L267.9 553.0 L268.7 550.6 L269.4 548.2 L270.1 545.8 L270.8 543.4 L271.5 541.0 L272.2 538.6 L273.0 536.2 L273.7 533.8 L274.4 531.4 L275.1 529.0 L275.7 526.6 L276.4 524.2 L277.1 521.8 L277.8 519.4 L278.5 517.0 L279.1 514.6 L279.8 512.2 L280.4 509.8 L281.1 507.4 L281.8 505.0 L282.4 502.5 L283.1 500.1 L283.7 497.7 L284.4 495.3 L285.1 492.9 L285.7 490.5 L286.4 488.1 L287.1 485.7 L287.8 483.3 L288.5 480.9 L289.2 478.5 L290.0 476.1 L290.7 473.7 L291.4 471.3 L292.2 468.9 L292.9 466.5 L293.7 464.2 L294.5 461.8 L295.3 459.4 L296.1 457.0 L296.9 454.7 L297.7 452.3 L298.5 449.9 L299.3 447.6 L300.2 445.2 L301.0 442.9 L301.8 440.5 L302.7 438.2 L303.5 435.8 L304.4 433.5 L305.2 431.1 L306.1 428.7 L306.9 426.4 L307.7 424.0 L308.6 421.7 L309.4 419.3 L310.2 417.0 L311.0 414.6 L311.9 412.2 L312.7 409.9 L313.5 407.5 L314.3 405.1 L315.0 402.8 L315.8 400.4 L316.6 398.0 L317.4 395.6 L318.1 393.2 L318.9 390.9 L319.6 388.5 L320.4 386.1 L321.1 383.7 L321.9 381.3 L322.6 378.9 L323.3 376.5 L324.1 374.1 L324.8 371.7 L325.5 369.3 L326.2 366.9 L326.9 364.6 L327.7 362.2 L328.4 359.8 L329.1 357.4 L329.8 355.0 L330.5 352.6 L331.2 350.2 L331.9 347.8 L332.6 345.4 L333.3 343.0 L334.0 340.6 L334.7 338.2 L335.4 335.8 L336.1 333.4 L336.8 331.0 L337.5 328.5 L338.2 326.1 L338.8 323.7 L339.5 321.3 L340.2 318.9 L340.9 316.5 L341.6 314.1 L342.3 311.7 L343.0 309.3 L343.7 306.9 L344.4 304.5 L345.0 302.1 L345.7 299.7 L346.4 297.3 L347.1 294.9 L347.8 292.5 L348.5 290.1 L349.1 287.7 L349.8 285.3 L350.5 282.9 L351.2 280.5 L351.8 278.0 L352.5 275.6 L353.2 273.2 L353.8 270.8 L354.5 268.4 L355.1 266.0 L355.7 263.6 L356.4 261.1 L357.0 258.7 L357.6 256.3 L358.2 253.9 L358.8 251.4 L359.5 249.0 L360.1 246.6 L360.7 244.2 L361.3 241.7 L361.9 239.3 L362.5 236.9 L363.1 234.5 L363.7 232.0 L364.3 229.6 L365.0 227.2 L365.6 224.8 L366.2 222.4 L366.9 219.9 L367.5 217.5 L368.1 215.1 L368.8 212.7 L369.4 210.3 L370.1 207.9 L370.9 205.5 L371.8 203.2 L372.8 200.9 L374.0 198.7 L375.3 196.5 L376.7 194.5 L378.4 192.6 L380.3 190.9 L382.3 189.5 L384.5 188.4 L386.9 187.6 L389.4 187.2 L391.8 187.3 L394.2 188.0 L396.5 189.2 L398.5 190.6 L400.4 192.2 L402.2 194.0 L403.8 195.9 L405.2 198.0 L406.5 200.1 L407.7 202.3 L408.8 204.5 L409.8 206.8 L410.8 209.1 L411.7 211.5 L412.5 213.8 L413.3 216.2 L414.1 218.6 L414.9 220.9 L415.7 223.3 L416.5 225.7 L417.3 228.0 L418.1 230.4 L418.9 232.8 L419.7 235.2 L420.5 237.5 L421.2 239.9 L422.0 242.3 L422.8 244.7 L423.5 247.1 L424.3 249.4 L425.0 251.8 L425.8 254.2 L426.5 256.6 L427.3 259.0 L428.1 261.4 L428.8 263.7 L429.6 266.1 L430.4 268.5 L431.2 270.9 L431.9 273.2 L432.7 275.6 L433.5 278.0 L434.3 280.4 L435.0 282.8 L435.8 285.1 L436.6 287.5 L437.3 289.9 L438.1 292.3 L438.8 294.7 L439.6 297.1 L440.3 299.5 L441.0 301.9 L441.7 304.2 L442.4 306.7 L443.1 309.1 L443.8 311.5 L444.4 313.9 L445.0 316.3 L445.7 318.7 L446.3 321.1 L446.9 323.6 L447.5 326.0 L448.0 328.4 L448.6 330.9 L449.1 333.3 L449.6 335.8 L450.1 338.2 L450.6 340.7 L451.1 343.1 L451.5 345.6 L452.0 348.1 L452.4 350.5 L452.8 353.0 L453.2 355.4 L453.6 357.9 L454.0 360.4 L454.4 362.9 L454.8 365.3 L455.2 367.8 L455.6 370.3 L455.9 372.7 L456.3 375.2 L456.7 377.7 L457.0 380.2 L457.4 382.6 L457.7 385.1 L458.1 387.6 L458.4 390.1 L458.8 392.5 L459.1 395.0 L459.5 397.5 L459.8 400.0 L460.2 402.4 L460.5 404.9 L460.9 407.4 L461.2 409.9 L461.6 412.4 L461.9 414.8 L462.2 417.3 L462.6 419.8 L462.9 422.3 L463.3 424.7 L463.6 427.2 L463.9 429.7 L464.3 432.2 L464.6 434.7 L464.9 437.1 L465.2 439.6 L465.5 442.1 L465.9 444.6 L466.2 447.1 L466.5 449.5 L466.8 452.0 L467.1 454.5 L467.4 457.0 L467.7 459.5 L467.9 462.0 L468.2 464.4 L468.5 466.9 L468.8 469.4 L469.0 471.9 L469.3 474.4 L469.6 476.9 L469.8 479.4 L470.1 481.8 L470.3 484.3 L470.6 486.8 L470.8 489.3 L471.0 491.8 L471.3 494.3 L471.5 496.8 L471.7 499.3 L472.0 501.8 L472.2 504.2 L472.4 506.7 L472.7 509.2 L472.9 511.7 L473.1 514.2 L473.3 516.7 L473.6 519.2 L473.8 521.7 L474.0 524.2 L474.2 526.7 L474.5 529.2 L474.7 531.6 L474.9 534.1 L475.1 536.6 L475.3 539.1 L475.6 541.6 L475.8 544.1 L476.0 546.6 L476.2 549.1 L476.5 551.6 L476.7 554.1 L476.9 556.5 L477.1 559.0 L477.3 561.5 L477.6 564.0 L477.8 566.5 L478.0 569.0 L478.2 571.5 L478.4 574.0 L478.6 576.5 L478.9 579.0 L479.1 581.5 L479.3 584.0 L479.5 586.4 L479.7 588.9 L479.9 591.4 L480.1 593.9 L480.3 596.4 L480.5 598.9 L480.8 601.4 L481.0 603.9 L481.2 606.4 L481.4 608.9 L481.6 611.4 L481.8 613.9 L482.0 616.3 L482.2 618.8 L482.4 621.3 L482.6 623.8 L482.8 626.3 L483.0 628.8 L483.2 631.3 L483.4 633.8 L483.6 636.3 L483.8 638.8 L484.0 641.3 L484.2 643.8 L484.4 646.3 L484.6 648.7 L484.8 651.2 L485.0 653.7 L485.2 656.2 L485.4 658.7 L485.7 661.2 L485.9 663.7 L486.1 666.2 L486.3 668.7 L486.5 671.2 L486.7 673.7 L486.9 676.2 L487.2 678.6 L487.4 681.1 L487.6 683.6 L487.8 686.1 L488.1 688.6 L488.3 691.1 L488.5 693.6 L488.8 696.1 L489.0 698.6 L489.2 701.1 L489.5 703.5 L489.7 706.0 L490.0 708.5 L490.2 711.0 L490.5 713.5 L490.7 716.0 L490.9 718.5 L491.2 721.0 L491.4 723.5 L491.7 725.9 L491.9 728.4 L492.2 730.9 L492.4 733.4 L492.7 735.9 L492.9 738.4 L493.2 740.9 L493.4 743.4 L493.7 745.8 L493.9 748.3 L494.2 750.8 L494.4 753.3 L494.6 755.8 L494.9 758.3 L495.1 760.8 L495.4 763.3 L495.6 765.8 L495.9 768.2 L496.1 770.7 L496.4 773.2 L496.6 775.7 L496.9 778.2 L497.1 780.7 L497.4 783.2 L497.6 785.7 L497.9 788.1 L498.1 790.6 L498.4 793.1 L498.6 795.6 L498.8 798.1 L499.1 800.6 L499.3 803.1 L499.6 805.6 L499.9 808.1 L500.1 810.5 L500.4 813.0 L500.6 815.5 L500.9 818.0 L501.1 820.5 L501.3 823.0 L501.6 825.5 L501.8 828.0 L502.1 830.4 L502.3 832.9 L502.6 835.4 L502.8 837.9 L503.1 840.4 L503.3 842.9 L503.6 845.4 L503.8 847.9 L504.1 850.4 L504.3 852.8 L504.6 855.3 L504.8 857.8 L505.1 860.3 L505.3 862.8 L505.6 865.3 L505.9 867.8 L506.1 870.3 L506.4 872.7 L506.6 875.2 L506.9 877.7 L507.2 880.2 L507.4 882.7 L507.7 885.2 L508.0 887.7 L508.3 890.1 L508.6 892.6 L508.8 895.1 L509.1 897.6 L509.4 900.1 L509.7 902.6 L510.0 905.0 L510.3 907.5 L510.6 910.0 L510.9 912.5 L511.2 915.0 L511.6 917.4 L511.9 919.9 L512.2 922.4 L512.6 924.9 L512.9 927.4 L513.3 929.8 L513.6 932.3 L514.0 934.8 L514.4 937.3 L514.8 939.7 L515.1 942.2 L515.5 944.7 L515.9 947.1 L516.4 949.6 L516.8 952.1 L517.2 954.5 L517.6 957.0 L518.1 959.5 L518.5 961.9 L519.0 964.4 L519.4 966.8 L519.9 969.3 L520.4 971.7 L520.8 974.2 L521.3 976.7 L521.8 979.1 L522.3 981.6 L522.8 984.0 L523.3 986.5 L523.8 988.9 L524.3 991.3 L524.9 993.8 L525.4 996.2 L526.0 998.7 L526.5 1001.1 L527.1 1003.5 L527.6 1006.0 L528.2 1008.4 L528.8 1010.8 L529.5 1013.3 L530.1 1015.7 L530.7 1018.1 L531.4 1020.5 L532.1 1022.9 L532.8 1025.3 L533.5 1027.7 L534.3 1030.1 L535.1 1032.5 L535.9 1034.8 L536.7 1037.2 L537.6 1039.5 L538.4 1041.9 L539.3 1044.2 L540.3 1046.5 L541.3 1048.8 L542.3 1051.1 L543.3 1053.4 L544.4 1055.6 L545.6 1057.8 L546.8 1060.0 L548.1 1062.2 L549.4 1064.3 L550.8 1066.4 L552.3 1068.4 L553.9 1070.3 L555.5 1072.2 L557.3 1074.0 L559.1 1075.7 L561.0 1077.3 L563.0 1078.8 L565.1 1080.1 L567.3 1081.4 L569.5 1082.5 L571.9 1083.4 L574.2 1084.2 L576.6 1084.9 L579.1 1085.4 L581.6 1085.8 L584.0 1086.0 L586.5 1086.1 L589.0 1086.1 L591.5 1085.9 L594.0 1085.6 L596.5 1085.3 L599.0 1084.9 L601.4 1084.4 L603.9 1084.0 L606.3 1083.4 L608.8 1082.9 L611.2 1082.3 L613.6 1081.7 L616.1 1081.1 L618.5 1080.5 L620.9 1079.8 L623.3 1079.1 L625.7 1078.4 L628.1 1077.6 L630.4 1076.8 L632.8 1076.0 L635.2 1075.2 L637.5 1074.4 L639.9 1073.5 L642.2 1072.6 L644.5 1071.6 L646.8 1070.7 L649.1 1069.7 L651.4 1068.7 L653.7 1067.7 L656.0 1066.6 L658.2 1065.6 L660.5 1064.5 L662.7 1063.4 L664.9 1062.2 L667.1 1061.0 L669.3 1059.9 L671.5 1058.6 L673.7 1057.4 L675.8 1056.1 L678.0 1054.8 L680.1 1053.5 L682.2 1052.1 L684.3 1050.8 L686.4 1049.4 L688.4 1047.9 L690.5 1046.5 L692.5 1045.0 L694.5 1043.5 L696.5 1042.0 L698.4 1040.4 L700.4 1038.9 L702.3 1037.3 L704.2 1035.7 L706.1 1034.0 L708.0 1032.4 L709.8 1030.7 L711.7 1029.0 L713.5 1027.3 L715.3 1025.5 L717.0 1023.8 L718.8 1022.0 L720.6 1020.2 L722.3 1018.4 L724.0 1016.6 L725.7 1014.8 L727.4 1012.9 L729.1 1011.0 L730.7 1009.2 L732.4 1007.3 L734.0 1005.4 L735.6 1003.5 L737.2 1001.6 L738.8 999.6 L740.4 997.7 L742.0 995.8 L743.6 993.8 L745.1 991.9 L746.7 989.9 L748.2 988.0 L749.8 986.0 L751.3 984.0 L752.9 982.1 L754.4 980.1 L756.0 978.1 L757.5 976.2 L759.0 974.2 L760.6 972.2 L762.1 970.3 L763.7 968.3 L765.2 966.3 L766.8 964.4 L768.3 962.4 L769.9 960.5 L771.5 958.5 L773.1 956.6 L774.6 954.7 L776.2 952.7 L777.8 950.8 L779.4 948.9 L781.0 946.9 L782.6 945.0 L784.2 943.1 L785.8 941.2 L787.4 939.3 L789.0 937.3 L790.6 935.4 L792.2 933.5 L793.7 931.5 L795.3 929.6 L796.9 927.6 L798.4 925.7 L800.0 923.7 L801.5 921.7 L803.0 919.7 L804.5 917.7 L806.0 915.7 L807.5 913.7 L809.0 911.7 L810.5 909.7 L811.9 907.6 L813.3 905.6 L814.8 903.5 L816.2 901.5 L817.6 899.4 L819.0 897.3 L820.3 895.2 L821.7 893.1 L823.1 891.0 L824.4 888.9 L825.7 886.8 L827.1 884.7 L828.4 882.6 L829.7 880.4 L831.0 878.3 L832.3 876.1 L833.5 874.0 L834.8 871.8 L836.1 869.7 L837.3 867.5 L838.6 865.4 L839.8 863.2 L841.1 861.0 L842.3 858.9 L843.5 856.7 L844.8 854.5 L846.0 852.3 L847.2 850.1 L848.4 847.9 L849.6 845.7 L850.8 843.5 L852.0 841.3 L853.2 839.1 L854.4 836.9 L855.5 834.7 L856.7 832.5 L857.9 830.3 L859.0 828.1 L860.2 825.9 L861.3 823.6 L862.5 821.4 L863.6 819.2 L864.7 817.0 L865.8 814.7 L866.9 812.5 L868.1 810.2 L869.2 808.0 L870.3 805.7 L871.4 803.5 L872.4 801.2 L873.5 799.0 L874.6 796.7 L875.7 794.5 L876.8 792.2 L877.8 790.0 L878.9 787.7 L879.9 785.4 L881.0 783.2 L882.0 780.9 L883.1 778.6 L884.1 776.4 L885.2 774.1 L886.2 771.8 L887.2 769.5 L888.3 767.2 L889.3 765.0 L890.3 762.7 L891.3 760.4 L892.3 758.1 L893.3 755.8 L894.4 753.5 L895.4 751.2 L896.4 748.9 L897.3 746.7 L898.3 744.4 L899.3 742.1 L900.3 739.8 L901.3 737.5 L902.2 735.1 L903.2 732.8 L904.2 730.5 L905.1 728.2 L906.1 725.9 L907.0 723.6 L907.9 721.3 L908.9 718.9 L909.8 716.6 L910.7 714.3 L911.6 712.0 L912.5 709.6 L913.4 707.3 L914.3 705.0 L915.2 702.6 L916.1 700.3 L917.0 698.0 L917.9 695.6 L918.7 693.3 L919.6 690.9 L920.5 688.6 L921.3 686.2 L922.2 683.9 L923.0 681.5 L923.9 679.2 L924.7 676.8 L925.6 674.5 L926.4 672.1 L927.2 669.8 L928.1 667.4 L928.9 665.0 L929.7 662.7 L930.5 660.3 L931.3 657.9 L932.2 655.6 L933.0 653.2 L933.8 650.9 L934.6 648.5 L935.4 646.1 L936.2 643.8 L937.0 641.4 L937.8 639.0 L938.6 636.6 L939.4 634.3 L940.2 631.9 L941.0 629.5 L941.8 627.2 L942.6 624.8 L943.4 622.4 L944.1 620.0 L944.9 617.7 L945.7 615.3 L946.5 612.9 L947.3 610.6 L948.1 608.2 L948.9 605.8 L949.7 603.4 L950.5 601.1 L951.3 598.7 L952.1 596.3 L952.9 593.9 L953.6 591.6 L954.4 589.2 L955.2 586.8 L956.0 584.5 L956.8 582.1 L957.6 579.7 L958.4 577.4 L959.3 575.0 L960.1 572.6 L960.9 570.3 L961.7 567.9 L962.5 565.5 L963.3 563.2 L964.1 560.8 L964.9 558.4 L965.7 556.1 L966.5 553.7 L967.4 551.3 L968.2 549.0 L969.0 546.6 L969.8 544.3 L970.6 541.9 L971.5 539.5 L972.3 537.2 L973.1 534.8 L974.0 532.5 L974.8 530.1 L975.7 527.8 L976.5 525.4 L977.4 523.1 L978.2 520.7 L979.1 518.4 L980.0 516.0 L980.9 513.7 L981.8 511.4 L982.7 509.0 L983.6 506.7 L984.5 504.4 L985.4 502.0 L986.4 499.7 L987.3 497.4 L988.3 495.1 L989.3 492.8 L990.3 490.5 L991.3 488.2 L992.3 485.9 L993.3 483.7 L994.3 481.4 L995.4 479.1 L996.4 476.8 L997.5 474.6 L998.6 472.3 L999.6 470.1 L1000.7 467.8 L1001.8 465.5 L1002.9 463.3 L1004.0 461.0 L1005.1 458.8 L1006.2 456.5 L1007.2 454.3 L1008.3 452.0 L1009.4 449.8 L1010.4 447.5 L1011.5 445.2 L1012.5 443.0 L1013.5 440.7 L1014.6 438.4 L1015.6 436.1 L1016.5 433.8 L1017.5 431.5 L1018.5 429.2 L1019.4 426.9 L1020.3 424.5 L1021.2 422.2 L1022.1 419.9 L1023.0 417.5 L1023.9 415.2 L1024.8 412.9 L1025.7 410.5 L1026.5 408.2 L1027.4 405.8 L1028.2 403.5 L1029.1 401.1 L1029.9 398.8 L1030.8 396.4 L1031.6 394.0 L1032.4 391.7 L1033.3 389.3 L1034.1 387.0 L1034.9 384.6 L1035.8 382.3 L1036.6 379.9 L1037.4 377.5 L1038.3 375.2 L1039.1 372.8 L1039.9 370.5 L1040.7 368.1 L1041.6 365.8 L1042.4 363.4 L1043.2 361.0 L1044.1 358.7 L1044.9 356.3 L1045.8 354.0 L1046.6 351.6 L1047.4 349.3 L1048.3 346.9 L1049.1 344.5 L1049.9 342.2 L1050.8 339.8 L1051.6 337.5 L1052.5 335.1 L1053.3 332.8 L1054.1 330.4 L1055.0 328.1 L1055.8 325.7 L1056.7 323.3 L1057.5 321.0 L1058.3 318.6 L1059.2 316.3 L1060.0 313.9 L1060.9 311.6 L1061.7 309.2 L1062.5 306.9 L1063.4 304.5 L1064.2 302.1 L1065.1 299.8 L1065.9 297.4 L1066.7 295.1 L1067.6 292.7 L1068.4 290.4 L1069.3 288.0 L1070.1 285.7 L1071.0 283.3 L1071.8 281.0 L1072.7 278.6 L1073.5 276.3 L1074.4 273.9 L1075.2 271.6 L1076.1 269.2 L1076.9 266.9 L1077.8 264.5 L1078.7 262.2 L1079.6 259.8 L1080.5 257.5 L1081.3 255.2 L1082.3 252.8 L1083.2 250.5 L1084.1 248.2 L1085.0 245.9 L1086.0 243.6 L1087.0 241.2 L1087.9 239.0 L1089.0 236.7 L1090.0 234.4 L1091.0 232.1 L1092.1 229.8 L1093.2 227.6 L1094.3 225.4 L1095.4 223.1 L1096.6 220.9 L1097.8 218.7 L1099.1 216.6 L1100.4 214.5 L1101.8 212.4 L1103.2 210.3 L1104.7 208.3 L1106.2 206.3 L1107.9 204.4 L1109.5 202.6 L1111.3 200.8 L1113.1 199.0 L1114.9 197.3 L1116.8 195.7 L1118.7 194.1 L1120.7 192.6 L1122.7 191.1 L1124.7 189.6 L1126.8 188.2 L1128.9 186.8 L1130.9 185.4 L1133.0 184.0 L1135.1 182.6 L1137.2 181.2 L1139.3 179.8 L1141.3 178.5 L1143.4 177.1 L1145.5 175.7 L1147.6 174.3 L1149.7 173.0 L1151.8 171.6 L1153.8 170.2 L1155.9 168.8 L1158.0 167.4 L1160.0 166.0 L1162.1 164.5 L1164.2 163.1 L1166.2 161.7 L1168.3 160.2 L1170.3 158.8 L1172.3 157.3 L1174.4 155.9 L1176.4 154.4 L1178.4 153.0 L1180.5 151.6 L1182.5 150.1 L1184.6 148.7 L1186.6 147.3 L1188.7 145.9 L1190.8 144.4 L1192.8 143.0 L1194.9 141.6 L1196.9 140.1 L1198.9 138.7 L1201.0 137.3 L1203.1 135.9 L1205.2 134.5 L1207.4 133.3 L1209.6 132.2 L1211.9 131.3 L1214.3 130.5 L1216.8 130.0 L1219.3 129.7 L1221.7 129.8 L1224.2 130.1 L1226.6 130.8 L1228.9 131.8 L1231.1 133.1 L1233.1 134.6 L1234.9 136.3 L1236.6 138.2 L1238.1 140.2 L1239.4 142.3 L1240.6 144.4 L1241.7 146.7 L1242.7 149.0 L1243.5 151.3 L1244.3 153.7 L1245.1 156.1 L1245.8 158.5 L1246.5 160.9 L1247.1 163.3 L1247.8 165.7 L1248.4 168.2 L1249.0 170.6 L1249.6 173.0 L1250.2 175.4 L1250.8 177.9 L1251.4 180.3 L1251.9 182.7 L1252.4 185.2 L1252.9 187.6 L1253.4 190.1 L1253.9 192.5 L1254.4 195.0 L1254.9 197.5 L1255.4 199.9 L1255.8 202.4 L1256.3 204.8 L1256.7 207.3 L1257.2 209.7 L1257.6 212.2 L1258.1 214.7 L1258.5 217.1 L1259.0 219.6 L1259.4 222.0 L1259.9 224.5 L1260.3 227.0 L1260.8 229.4 L1261.2 231.9 L1261.7 234.3 L1262.2 236.8 L1262.6 239.3 L1263.1 241.7 L1263.6 244.2 L1264.0 246.6 L1264.5 249.1 L1265.0 251.5 L1265.5 254.0 L1266.0 256.4 L1266.5 258.9 L1267.0 261.3 L1267.5 263.8 L1268.0 266.2 L1268.5 268.7 L1269.0 271.1 L1269.5 273.6 L1270.1 276.0 L1270.6 278.5 L1271.1 280.9 L1271.7 283.3 L1272.2 285.8 L1272.8 288.2 L1273.4 290.6 L1273.9 293.1 L1274.5 295.5 L1275.1 298.0 L1275.7 300.4 L1276.3 302.8 L1276.8 305.2 L1277.5 307.7 L1278.1 310.1 L1278.7 312.5 L1279.3 314.9 L1279.9 317.4 L1280.6 319.8 L1281.2 322.2 L1281.8 324.6 L1282.5 327.0 L1283.2 329.4 L1283.8 331.8 L1284.5 334.3 L1285.2 336.7 L1285.9 339.1 L1286.6 341.5 L1287.3 343.9 L1288.0 346.3 L1288.7 348.7 L1289.4 351.1 L1290.1 353.5 L1290.8 355.9 L1291.5 358.2 L1292.3 360.6 L1293.0 363.0 L1293.7 365.4 L1294.5 367.8 L1295.2 370.2 L1296.0 372.6 L1296.7 375.0 L1297.5 377.3 L1298.3 379.7 L1299.1 382.1 L1299.9 384.5 L1300.6 386.8 L1301.5 389.2 L1302.3 391.6 L1303.1 393.9 L1303.9 396.3 L1304.8 398.6 L1305.6 401.0 L1306.5 403.3 L1307.3 405.7 L1308.2 408.0 L1309.1 410.4 L1310.0 412.7 L1310.9 415.0 L1311.9 417.3 L1312.8 419.7 L1313.7 422.0 L1314.7 424.3 L1315.6 426.6 L1316.6 428.9 L1317.6 431.2 L1318.6 433.5 L1319.6 435.8 L1320.6 438.1 L1321.6 440.4 L1322.6 442.7 L1323.6 445.0 L1324.6 447.2 L1325.7 449.5 L1326.7 451.8 L1327.8 454.1 L1328.8 456.3 L1329.9 458.6 L1331.0 460.8 L1332.1 463.1 L1333.2 465.3 L1334.3 467.6 L1335.4 469.8 L1336.5 472.0 L1337.6 474.3 L1338.8 476.5 L1340.0 478.7 L1341.1 480.9 L1342.3 483.1 L1343.5 485.3 L1344.7 487.5 L1345.9 489.7 L1347.2 491.9 L1348.4 494.0 L1349.6 496.2 L1350.9 498.4 L1352.2 500.5 L1353.4 502.7 L1354.7 504.8 L1356.0 507.0 L1357.3 509.1 L1358.6 511.3 L1359.8 513.4 L1361.1 515.6 L1362.4 517.7 L1363.6 519.9 L1364.9 522.0 L1366.1 524.2 L1367.4 526.4 L1368.6 528.6 L1369.8 530.8 L1371.0 533.0 L1372.2 535.2 L1373.3 537.4 L1374.4 539.6 L1375.5 541.9 L1376.6 544.1 L1377.6 546.4 L1378.7 548.7 L1379.7 551.0 L1380.6 553.3 L1381.6 555.6 L1382.5 557.9 L1383.4 560.3 L1384.3 562.6 L1385.1 565.0 L1385.9 567.3 L1386.7 569.7 L1387.5 572.1 L1388.2 574.5 L1389.0 576.9 L1389.7 579.3 L1390.4 581.7 L1391.0 584.1 L1391.7 586.5 L1392.3 588.9 L1392.9 591.3 L1393.6 593.7 L1394.1 596.2 L1394.7 598.6 L1395.3 601.0 L1395.9 603.5 L1396.4 605.9 L1397.0 608.4 L1397.5 610.8 L1398.0 613.2 L1398.6 615.7 L1399.1 618.1 L1399.6 620.6 L1400.1 623.0 L1400.6 625.5 L1401.1 627.9 L1401.6 630.4 L1402.1 632.8 L1402.5 635.3 L1403.0 637.7 L1403.5 640.2 L1403.9 642.7 L1404.4 645.1 L1404.8 647.6 L1405.2 650.0 L1405.7 652.5 L1406.1 655.0 L1406.5 657.4 L1406.9 659.9 L1407.3 662.4 L1407.7 664.8 L1408.1 667.3 L1408.5 669.8 L1408.9 672.3 L1409.2 674.7 L1409.6 677.2 L1409.9 679.7 L1410.3 682.2 L1410.6 684.6 L1411.0 687.1 L1411.3 689.6 L1411.6 692.1 L1412.0 694.5 L1412.3 697.0 L1412.6 699.5 L1412.9 702.0 L1413.2 704.5 L1413.6 706.9 L1413.9 709.4 L1414.2 711.9 L1414.5 714.4 L1414.8 716.9 L1415.1 719.4 L1415.4 721.8 L1415.7 724.3 L1416.0 726.8 L1416.3 729.3 L1416.7 731.8 L1417.0 734.2 L1417.3 736.7 L1417.6 739.2 L1417.9 741.7 L1418.3 744.2 L1418.6 746.6 L1418.9 749.1 L1419.3 751.6 L1419.6 754.1 L1419.9 756.5 L1420.3 759.0 L1420.6 761.5 L1421.0 764.0 L1421.4 766.5 L1421.7 768.9 L1422.1 771.4 L1422.4 773.9 L1422.8 776.3 L1423.2 778.8 L1423.5 781.3 L1423.9 783.8 L1424.3 786.2 L1424.7 788.7 L1425.0 791.2 L1425.4 793.7 L1425.8 796.1 L1426.2 798.6 L1426.5 801.1 L1426.9 803.5 L1427.3 806.0 L1427.7 808.5 L1428.1 811.0 L1428.5 813.4 L1428.8 815.9 L1429.2 818.4 L1429.6 820.8 L1430.0 823.3 L1430.4 825.8 L1430.8 828.3 L1431.2 830.7 L1431.5 833.2 L1431.9 835.7 L1432.3 838.1 L1432.7 840.6 L1433.1 843.1 L1433.5 845.5 L1433.9 848.0 L1434.3 850.5 L1434.6 853.0 L1435.0 855.4 L1435.4 857.9 L1435.8 860.4 L1436.2 862.8 L1436.6 865.3 L1437.0 867.8 L1437.3 870.3 L1437.7 872.7 L1438.1 875.2 L1438.5 877.7 L1438.9 880.1 L1439.3 882.6 L1439.7 885.1 L1440.1 887.5 L1440.5 890.0 L1440.9 892.5 L1441.3 894.9 L1441.7 897.4 L1442.1 899.9 L1442.5 902.3 L1442.9 904.8 L1443.3 907.3 L1443.8 909.7 L1444.2 912.2 L1444.6 914.7 L1445.1 917.1 L1445.5 919.6 L1446.0 922.0 L1446.5 924.5 L1446.9 927.0 L1447.4 929.4 L1447.9 931.9 L1448.4 934.3 L1448.9 936.8 L1449.4 939.2 L1449.9 941.7 L1450.4 944.1 L1451.0 946.6 L1451.5 949.0 L1452.0 951.4 L1452.6 953.9 L1453.2 956.3 L1453.7 958.7 L1454.3 961.2 L1454.9 963.6 L1455.5 966.0 L1456.1 968.5 L1456.7 970.9 L1457.4 973.3 L1458.0 975.7 L1458.7 978.1 L1459.3 980.5 L1460.0 982.9 L1460.7 985.4 L1461.4 987.8 L1462.1 990.2 L1462.8 992.6 L1463.5 994.9 L1464.3 997.3 L1465.0 999.7 L1465.8 1002.1 L1466.6 1004.5 L1467.4 1006.8 L1468.2 1009.2 L1469.0 1011.6 L1469.9 1013.9 L1470.7 1016.3 L1471.6 1018.6 L1472.5 1020.9 L1473.4 1023.3 L1474.4 1025.6 L1475.3 1027.9 L1476.3 1030.2 L1477.3 1032.5 L1478.4 1034.7 L1479.4 1037.0 L1480.5 1039.3 L1481.6 1041.5 L1482.8 1043.7 L1483.9 1045.9 L1485.2 1048.1 L1486.4 1050.3 L1487.7 1052.4 L1489.0 1054.6 L1490.3 1056.7 L1491.7 1058.8 L1493.0 1060.9 L1494.5 1062.9 L1495.9 1065.0 L1497.4 1067.0 L1499.0 1068.9 L1500.5 1070.9 L1502.1 1072.8 L1503.7 1074.7 L1505.4 1076.6 L1507.1 1078.4 L1508.8 1080.3 L1510.6 1082.0 L1512.4 1083.8 L1514.2 1085.5 L1516.1 1087.1 L1518.0 1088.7 L1519.9 1090.3 L1522.0 1091.8 L1524.0 1093.2 L1526.1 1094.6 L1528.2 1095.9 L1530.4 1097.1 L1532.6 1098.2 L1534.9 1099.3 L1537.2 1100.3 L1539.5 1101.2 L1541.9 1102.1 L1544.2 1102.9 L1546.6 1103.6 L1549.0 1104.2 L1551.5 1104.9 L1553.9 1105.4 L1556.3 1106.0 L1558.8 1106.5 L1561.3 1106.9 L1563.7 1107.3 L1566.2 1107.7 L1568.7 1108.1 L1571.1 1108.4 L1573.6 1108.7 L1576.1 1109.0 L1578.6 1109.3 L1581.1 1109.5 L1583.6 1109.7 L1586.1 1109.9 L1588.6 1110.1 L1591.1 1110.3 L1593.6 1110.4 L1596.1 1110.6 L1598.5 1110.7 L1601.0 1110.8 L1603.5 1111.0 L1606.0 1111.1 L1608.5 1111.2 L1611.0 1111.3 L1613.5 1111.4 L1616.0 1111.4 L1618.5 1111.5 L1621.0 1111.6 L1623.5 1111.7 L1626.0 1111.8 L1628.5 1111.9 L1631.0 1111.9 L1633.5 1112.0 L1636.0 1112.1 L1638.5 1112.2 L1641.0 1112.3 L1643.5 1112.4 L1646.0 1112.5 L1648.5 1112.5 L1651.0 1112.6 L1653.5 1112.7 L1656.0 1112.8 L1658.5 1112.9 L1661.0 1112.9 L1663.5 1113.0 L1666.0 1113.1 L1668.5 1113.2 L1671.0 1113.2 L1673.5 1113.3 L1676.0 1113.4 L1678.5 1113.4 L1681.0 1113.5 L1683.5 1113.5 L1686.0 1113.6 L1688.5 1113.6 L1691.0 1113.6 L1693.5 1113.7 L1696.0 1113.7 L1698.5 1113.7 L1701.0 1113.7 L1703.5 1113.8 L1706.0 1113.8 L1708.5 1113.8 L1711.0 1113.8 L1713.5 1113.8 L1716.0 1113.8 L1718.5 1113.8 L1721.0 1113.8 L1723.5 1113.8 L1726.0 1113.8 L1728.5 1113.8 L1731.0 1113.8 L1733.5 1113.8 L1736.0 1113.8 L1738.5 1113.8 L1741.0 1113.8 L1743.5 1113.8 L1746.0 1113.8 L1748.5 1113.8 L1751.0 1113.8 L1753.5 1113.8 L1756.0 1113.8 L1758.5 1113.8 L1761.0 1113.8 L1763.5 1113.8 L1766.0 1113.8 L1768.5 1113.8 L1771.0 1113.8 L1773.5 1113.8 L1776.0 1113.8 L1778.5 1113.8 L1781.0 1113.8 L1783.5 1113.8 L1786.0 1113.8 L1788.5 1113.8 L1791.0 1113.8 L1793.5 1113.8 L1796.0 1113.8 L1798.5 1113.8 L1801.0 1113.8 L1803.5 1113.8 L1806.0 1113.8 L1808.5 1113.8 L1811.0 1113.8 L1813.5 1113.8 L1816.0 1113.8 L1818.5 1113.8 L1821.0 1113.8 L1823.6 1113.8 L1826.1 1113.8 L1828.6 1113.8 L1831.1 1113.8 L1833.6 1113.8 L1836.1 1113.8 L1838.6 1113.8 L1841.1 1113.8" stroke="#ff0000"/>
<path d="M208.1 761.5 L209.1 759.3 L210.2 757.0 L211.3 754.7 L212.3 752.5 L213.4 750.2 L214.4 747.9 L215.4 745.6 L216.4 743.4 L217.5 741.1 L218.5 738.8 L219.4 736.5 L220.4 734.2 L221.4 731.9 L222.3 729.6 L223.3 727.2 L224.2 724.9 L225.1 722.6 L226.0 720.3 L226.9 717.9 L227.8 715.6 L228.7 713.2 L229.6 710.9 L230.4 708.6 L231.3 706.2 L232.2 703.9 L233.0 701.5 L233.9 699.2 L234.7 696.8 L235.5 694.4 L236.3 692.1 L237.1 689.7 L237.9 687.3 L238.7 685.0 L239.5 682.6 L240.3 680.2 L241.0 677.8 L241.8 675.5 L242.6 673.1 L243.3 670.7 L244.0 668.3 L244.8 665.9 L245.5 663.5 L246.2 661.1 L246.9 658.7 L247.6 656.3 L248.3 653.9 L249.0 651.5 L249.7 649.1 L250.4 646.7 L251.1 644.3 L251.8 641.9 L252.4 639.5 L253.1 637.1 L253.7 634.7 L254.4 632.2 L255.0 629.8 L255.7 627.4 L256.3 625.0 L257.0 622.6 L257.6 620.2 L258.2 617.7 L258.8 615.3 L259.4 612.9 L260.0 610.5 L260.7 608.0 L261.3 605.6 L261.9 603.2 L262.5 600.7 L263.0 598.3 L263.6 595.9 L264.2 593.5 L264.8 591.0 L265.4 588.6 L265.9 586.2 L266.5 583.7 L267.1 581.3 L267.6 578.9 L268.2 576.4 L268.8 574.0 L269.3 571.5 L269.9 569.1 L270.4 566.7 L271.0 564.2 L271.5 561.8 L272.0 559.3 L272.6 556.9 L273.1 554.4 L273.6 552.0 L274.2 549.6 L274.7 547.1 L275.2 544.7 L275.7 542.2 L276.3 539.8 L276.8 537.3 L277.3 534.9 L277.8 532.4 L278.3 530.0 L278.8 527.5 L279.4 525.1 L279.9 522.6 L280.4 520.2 L280.9 517.8 L281.4 515.3 L281.9 512.9 L282.4 510.4 L282.9 508.0 L283.4 505.5 L283.9 503.1 L284.5 500.6 L285.0 498.2 L285.5 495.7 L286.0 493.3 L286.5 490.8 L287.0 488.4 L287.5 485.9 L288.1 483.5 L288.6 481.0 L289.1 478.6 L289.7 476.2 L290.2 473.7 L290.7 471.3 L291.3 468.8 L291.8 466.4 L292.4 464.0 L293.0 461.5 L293.5 459.1 L294.1 456.6 L294.7 454.2 L295.3 451.8 L295.8 449.4 L296.4 446.9 L297.0 444.5 L297.7 442.1 L298.3 439.7 L298.9 437.2 L299.5 434.8 L300.1 432.4 L300.8 430.0 L301.4 427.6 L302.1 425.1 L302.7 422.7 L303.4 420.3 L304.0 417.9 L304.7 415.5 L305.4 413.1 L306.0 410.7 L306.7 408.3 L307.4 405.8 L308.0 403.4 L308.7 401.0 L309.4 398.6 L310.1 396.2 L310.7 393.8 L311.4 391.4 L312.1 389.0 L312.8 386.6 L313.4 384.2 L314.1 381.8 L314.8 379.4 L315.5 377.0 L316.1 374.5 L316.8 372.1 L317.5 369.7 L318.2 367.3 L318.8 364.9 L319.5 362.5 L320.2 360.1 L320.9 357.7 L321.5 355.3 L322.2 352.9 L322.9 350.5 L323.5 348.0 L324.2 345.6 L324.8 343.2 L325.5 340.8 L326.2 338.4 L326.8 336.0 L327.5 333.6 L328.1 331.2 L328.8 328.7 L329.4 326.3 L330.1 323.9 L330.7 321.5 L331.4 319.1 L332.0 316.7 L332.7 314.3 L333.3 311.8 L334.0 309.4 L334.6 307.0 L335.3 304.6 L335.9 302.2 L336.5 299.8 L337.2 297.3 L337.8 294.9 L338.5 292.5 L339.1 290.1 L339.7 287.7 L340.4 285.3 L341.0 282.8 L341.7 280.4 L342.4 278.0 L343.0 275.6 L343.7 273.2 L344.4 270.8 L345.1 268.4 L345.8 266.0 L346.6 263.6 L347.3 261.2 L348.1 258.8 L348.8 256.5 L349.6 254.1 L350.4 251.7 L351.2 249.3 L352.0 247.0 L352.8 244.6 L353.7 242.3 L354.7 240.0 L355.8 237.7 L357.0 235.6 L358.4 233.4 L359.8 231.4 L361.4 229.5 L363.1 227.6 L364.9 225.9 L366.9 224.4 L369.0 223.1 L371.3 222.1 L373.8 221.6 L376.3 221.4 L378.7 221.7 L381.1 222.4 L383.3 223.6 L385.3 225.1 L387.0 227.0 L388.5 229.0 L389.8 231.1 L391.0 233.3 L392.1 235.5 L393.2 237.8 L394.2 240.1 L395.1 242.4 L396.1 244.7 L397.0 247.0 L397.9 249.4 L398.8 251.7 L399.7 254.0 L400.6 256.4 L401.5 258.7 L402.3 261.1 L403.2 263.4 L404.0 265.8 L404.9 268.1 L405.7 270.5 L406.5 272.9 L407.3 275.2 L408.1 277.6 L408.8 280.0 L409.6 282.4 L410.4 284.7 L411.1 287.1 L411.9 289.5 L412.6 291.9 L413.4 294.3 L414.1 296.7 L414.9 299.1 L415.6 301.4 L416.3 303.8 L417.0 306.2 L417.7 308.6 L418.4 311.0 L419.1 313.4 L419.8 315.9 L420.5 318.3 L421.1 320.7 L421.8 323.1 L422.4 325.5 L423.0 327.9 L423.7 330.3 L424.3 332.8 L424.9 335.2 L425.5 337.6 L426.0 340.1 L426.6 342.5 L427.2 344.9 L427.8 347.4 L428.3 349.8 L428.9 352.2 L429.4 354.7 L429.9 357.1 L430.4 359.6 L431.0 362.0 L431.5 364.5 L432.0 366.9 L432.5 369.4 L433.0 371.8 L433.5 374.3 L434.0 376.7 L434.4 379.2 L434.9 381.6 L435.4 384.1 L435.9 386.5 L436.3 389.0 L436.8 391.5 L437.2 393.9 L437.6 396.4 L438.1 398.9 L438.5 401.3 L438.9 403.8 L439.3 406.2 L439.7 408.7 L440.1 411.2 L440.5 413.7 L440.9 416.1 L441.3 418.6 L441.6 421.1 L442.0 423.5 L442.4 426.0 L442.7 428.5 L443.1 431.0 L443.4 433.4 L443.8 435.9 L444.1 438.4 L444.4 440.9 L444.7 443.4 L445.1 445.8 L445.4 448.3 L445.7 450.8 L446.0 453.3 L446.3 455.8 L446.7 458.2 L447.0 460.7 L447.3 463.2 L447.6 465.7 L447.9 468.2 L448.2 470.7 L448.5 473.1 L448.8 475.6 L449.1 478.1 L449.4 480.6 L449.7 483.1 L450.0 485.5 L450.3 488.0 L450.6 490.5 L450.9 493.0 L451.1 495.5 L451.4 498.0 L451.7 500.5 L452.0 502.9 L452.3 505.4 L452.6 507.9 L452.9 510.4 L453.2 512.9 L453.4 515.4 L453.7 517.8 L454.0 520.3 L454.3 522.8 L454.6 525.3 L454.8 527.8 L455.1 530.3 L455.4 532.8 L455.7 535.2 L455.9 537.7 L456.2 540.2 L456.5 542.7 L456.8 545.2 L457.0 547.7 L457.3 550.2 L457.6 552.6 L457.8 555.1 L458.1 557.6 L458.3 560.1 L458.6 562.6 L458.9 565.1 L459.1 567.6 L459.4 570.0 L459.6 572.5 L459.9 575.0 L460.1 577.5 L460.4 580.0 L460.6 582.5 L460.9 585.0 L461.1 587.5 L461.4 590.0 L461.6 592.4 L461.9 594.9 L462.1 597.4 L462.4 599.9 L462.6 602.4 L462.9 604.9 L463.1 607.4 L463.4 609.9 L463.6 612.3 L463.9 614.8 L464.1 617.3 L464.4 619.8 L464.6 622.3 L464.9 624.8 L465.1 627.3 L465.4 629.8 L465.6 632.3 L465.9 634.7 L466.1 637.2 L466.3 639.7 L466.6 642.2 L466.8 644.7 L467.1 647.2 L467.3 649.7 L467.6 652.2 L467.8 654.7 L468.1 657.1 L468.3 659.6 L468.6 662.1 L468.8 664.6 L469.0 667.1 L469.3 669.6 L469.5 672.1 L469.8 674.6 L470.0 677.0 L470.3 679.5 L470.5 682.0 L470.8 684.5 L471.0 687.0 L471.3 689.5 L471.5 692.0 L471.8 694.5 L472.0 697.0 L472.3 699.4 L472.5 701.9 L472.7 704.4 L473.0 706.9 L473.2 709.4 L473.5 711.9 L473.7 714.4 L474.0 716.9 L474.2 719.4 L474.5 721.8 L474.7 724.3 L475.0 726.8 L475.2 729.3 L475.4 731.8 L475.7 734.3 L475.9 736.8 L476.2 739.3 L476.4 741.8 L476.7 744.2 L476.9 746.7 L477.2 749.2 L477.4 751.7 L477.7 754.2 L477.9 756.7 L478.2 759.2 L478.4 761.7 L478.7 764.1 L478.9 766.6 L479.2 769.1 L479.4 771.6 L479.7 774.1 L480.0 776.6 L480.2 779.1 L480.5 781.6 L480.7 784.0 L481.0 786.5 L481.3 789.0 L481.5 791.5 L481.8 794.0 L482.0 796.5 L482.3 799.0 L482.6 801.5 L482.8 803.9 L483.1 806.4 L483.4 808.9 L483.7 811.4 L483.9 813.9 L484.2 816.4 L484.5 818.9 L484.7 821.3 L485.0 823.8 L485.3 826.3 L485.6 828.8 L485.8 831.3 L486.1 833.8 L486.4 836.3 L486.7 838.7 L486.9 841.2 L487.2 843.7 L487.5 846.2 L487.7 848.7 L488.0 851.2 L488.3 853.7 L488.6 856.1 L488.8 858.6 L489.1 861.1 L489.4 863.6 L489.7 866.1 L489.9 868.6 L490.2 871.1 L490.5 873.5 L490.8 876.0 L491.1 878.5 L491.3 881.0 L491.6 883.5 L491.9 886.0 L492.2 888.4 L492.5 890.9 L492.8 893.4 L493.1 895.9 L493.4 898.4 L493.7 900.9 L494.0 903.3 L494.3 905.8 L494.6 908.3 L494.9 910.8 L495.2 913.3 L495.5 915.7 L495.9 918.2 L496.2 920.7 L496.6 923.2 L496.9 925.7 L497.3 928.1 L497.6 930.6 L498.0 933.1 L498.4 935.6 L498.8 938.0 L499.2 940.5 L499.5 943.0 L500.0 945.4 L500.4 947.9 L500.8 950.4 L501.2 952.8 L501.6 955.3 L502.1 957.8 L502.5 960.2 L503.0 962.7 L503.4 965.1 L503.9 967.6 L504.3 970.0 L504.8 972.5 L505.3 975.0 L505.7 977.4 L506.2 979.9 L506.7 982.3 L507.2 984.8 L507.7 987.2 L508.2 989.7 L508.7 992.1 L509.2 994.6 L509.7 997.0 L510.2 999.5 L510.7 1001.9 L511.2 1004.4 L511.8 1006.8 L512.3 1009.3 L512.8 1011.7 L513.4 1014.1 L513.9 1016.6 L514.5 1019.0 L515.1 1021.4 L515.7 1023.9 L516.3 1026.3 L516.9 1028.7 L517.6 1031.1 L518.2 1033.5 L518.9 1035.9 L519.6 1038.3 L520.4 1040.7 L521.1 1043.1 L521.9 1045.5 L522.7 1047.9 L523.5 1050.2 L524.4 1052.6 L525.3 1054.9 L526.2 1057.2 L527.2 1059.5 L528.2 1061.8 L529.2 1064.1 L530.3 1066.3 L531.5 1068.6 L532.7 1070.7 L534.0 1072.9 L535.4 1075.0 L536.8 1077.0 L538.3 1079.0 L539.9 1081.0 L541.5 1082.9 L543.2 1084.7 L545.0 1086.4 L546.9 1088.1 L548.9 1089.6 L550.9 1091.1 L553.0 1092.5 L555.1 1093.8 L557.3 1094.9 L559.6 1096.0 L561.9 1096.9 L564.3 1097.8 L566.7 1098.5 L569.1 1099.0 L571.5 1099.5 L574.0 1099.8 L576.5 1100.0 L579.0 1100.1 L581.5 1100.1 L584.0 1100.0 L586.5 1099.8 L589.0 1099.5 L591.5 1099.2 L593.9 1098.8 L596.4 1098.3 L598.9 1097.9 L601.3 1097.3 L603.8 1096.8 L606.2 1096.2 L608.6 1095.6 L611.0 1094.9 L613.4 1094.3 L615.8 1093.6 L618.2 1092.8 L620.6 1092.0 L623.0 1091.2 L625.3 1090.4 L627.7 1089.5 L630.0 1088.6 L632.3 1087.7 L634.6 1086.8 L636.9 1085.8 L639.2 1084.8 L641.5 1083.8 L643.8 1082.7 L646.0 1081.7 L648.3 1080.6 L650.5 1079.4 L652.8 1078.3 L655.0 1077.1 L657.2 1076.0 L659.4 1074.7 L661.5 1073.5 L663.7 1072.3 L665.9 1071.0 L668.0 1069.7 L670.1 1068.4 L672.3 1067.1 L674.4 1065.7 L676.5 1064.4 L678.5 1063.0 L680.6 1061.6 L682.7 1060.2 L684.7 1058.7 L686.7 1057.3 L688.8 1055.8 L690.8 1054.3 L692.8 1052.8 L694.7 1051.2 L696.7 1049.7 L698.7 1048.1 L700.6 1046.6 L702.5 1045.0 L704.4 1043.3 L706.3 1041.7 L708.2 1040.1 L710.1 1038.4 L711.9 1036.7 L713.8 1035.1 L715.6 1033.4 L717.4 1031.6 L719.3 1029.9 L721.0 1028.2 L722.8 1026.4 L724.6 1024.7 L726.4 1022.9 L728.1 1021.1 L729.9 1019.3 L731.6 1017.5 L733.3 1015.7 L735.0 1013.9 L736.7 1012.0 L738.4 1010.2 L740.1 1008.3 L741.8 1006.5 L743.4 1004.6 L745.1 1002.7 L746.7 1000.8 L748.3 998.9 L750.0 997.0 L751.6 995.1 L753.2 993.2 L754.8 991.3 L756.4 989.4 L758.0 987.5 L759.6 985.5 L761.2 983.6 L762.8 981.7 L764.3 979.7 L765.9 977.8 L767.5 975.8 L769.0 973.9 L770.6 971.9 L772.1 969.9 L773.7 968.0 L775.2 966.0 L776.7 964.0 L778.3 962.0 L779.8 960.1 L781.3 958.1 L782.8 956.1 L784.3 954.1 L785.8 952.1 L787.3 950.0 L788.7 948.0 L790.2 946.0 L791.7 944.0 L793.1 941.9 L794.5 939.9 L796.0 937.8 L797.4 935.8 L798.8 933.7 L800.2 931.6 L801.6 929.6 L803.0 927.5 L804.4 925.4 L805.8 923.3 L807.2 921.2 L808.5 919.2 L809.9 917.1 L811.3 915.0 L812.6 912.9 L814.0 910.8 L815.3 908.7 L816.7 906.5 L818.0 904.4 L819.4 902.3 L820.7 900.2 L822.0 898.1 L823.3 896.0 L824.7 893.8 L826.0 891.7 L827.3 889.6 L828.6 887.5 L829.9 885.3 L831.2 883.2 L832.5 881.0 L833.7 878.9 L835.0 876.7 L836.3 874.6 L837.5 872.4 L838.8 870.2 L840.0 868.1 L841.3 865.9 L842.5 863.7 L843.7 861.6 L845.0 859.4 L846.2 857.2 L847.4 855.0 L848.6 852.8 L849.8 850.6 L851.0 848.4 L852.1 846.2 L853.3 844.0 L854.5 841.8 L855.6 839.6 L856.8 837.3 L857.9 835.1 L859.0 832.9 L860.2 830.6 L861.3 828.4 L862.4 826.2 L863.5 823.9 L864.6 821.7 L865.7 819.4 L866.7 817.1 L867.8 814.9 L868.9 812.6 L869.9 810.4 L871.0 808.1 L872.0 805.8 L873.0 803.5 L874.1 801.3 L875.1 799.0 L876.1 796.7 L877.1 794.4 L878.1 792.1 L879.1 789.8 L880.1 787.5 L881.1 785.2 L882.1 782.9 L883.0 780.6 L884.0 778.3 L885.0 776.0 L886.0 773.7 L886.9 771.4 L887.9 769.1 L888.8 766.8 L889.8 764.5 L890.7 762.1 L891.7 759.8 L892.6 757.5 L893.5 755.2 L894.5 752.9 L895.4 750.5 L896.3 748.2 L897.2 745.9 L898.1 743.6 L899.1 741.2 L900.0 738.9 L900.9 736.6 L901.8 734.2 L902.7 731.9 L903.5 729.6 L904.4 727.2 L905.3 724.9 L906.2 722.5 L907.0 720.2 L907.9 717.9 L908.8 715.5 L909.6 713.2 L910.5 710.8 L911.3 708.4 L912.2 706.1 L913.0 703.7 L913.8 701.4 L914.6 699.0 L915.5 696.6 L916.3 694.3 L917.1 691.9 L917.9 689.5 L918.7 687.2 L919.5 684.8 L920.2 682.4 L921.0 680.1 L921.8 677.7 L922.6 675.3 L923.3 672.9 L924.1 670.5 L924.9 668.2 L925.6 665.8 L926.4 663.4 L927.1 661.0 L927.9 658.6 L928.7 656.2 L929.4 653.9 L930.2 651.5 L930.9 649.1 L931.7 646.7 L932.5 644.3 L933.3 642.0 L934.0 639.6 L934.8 637.2 L935.6 634.8 L936.4 632.5 L937.2 630.1 L938.0 627.7 L938.8 625.3 L939.6 623.0 L940.4 620.6 L941.2 618.2 L942.0 615.9 L942.8 613.5 L943.6 611.1 L944.4 608.8 L945.2 606.4 L946.0 604.0 L946.8 601.7 L947.7 599.3 L948.5 596.9 L949.3 594.6 L950.1 592.2 L950.9 589.8 L951.7 587.5 L952.5 585.1 L953.3 582.7 L954.1 580.4 L954.9 578.0 L955.7 575.6 L956.5 573.3 L957.3 570.9 L958.1 568.5 L958.9 566.1 L959.6 563.8 L960.4 561.4 L961.2 559.0 L962.0 556.6 L962.8 554.3 L963.6 551.9 L964.4 549.5 L965.1 547.2 L965.9 544.8 L966.7 542.4 L967.5 540.0 L968.3 537.7 L969.1 535.3 L969.9 532.9 L970.7 530.5 L971.5 528.2 L972.3 525.8 L973.1 523.4 L973.9 521.1 L974.7 518.7 L975.6 516.4 L976.4 514.0 L977.2 511.6 L978.1 509.3 L979.0 506.9 L979.8 504.6 L980.7 502.3 L981.6 499.9 L982.5 497.6 L983.4 495.3 L984.3 492.9 L985.2 490.6 L986.2 488.3 L987.1 486.0 L988.1 483.7 L989.1 481.4 L990.1 479.1 L991.0 476.8 L992.1 474.5 L993.1 472.2 L994.1 469.9 L995.1 467.6 L996.1 465.4 L997.2 463.1 L998.2 460.8 L999.2 458.5 L1000.2 456.2 L1001.3 454.0 L1002.3 451.7 L1003.3 449.4 L1004.3 447.1 L1005.3 444.8 L1006.3 442.5 L1007.3 440.2 L1008.3 437.9 L1009.2 435.6 L1010.2 433.3 L1011.1 431.0 L1012.0 428.6 L1013.0 426.3 L1013.9 424.0 L1014.8 421.7 L1015.7 419.3 L1016.5 417.0 L1017.4 414.6 L1018.3 412.3 L1019.1 409.9 L1020.0 407.6 L1020.9 405.2 L1021.7 402.9 L1022.6 400.5 L1023.4 398.2 L1024.2 395.8 L1025.1 393.5 L1025.9 391.1 L1026.7 388.8 L1027.6 386.4 L1028.4 384.0 L1029.2 381.7 L1030.1 379.3 L1030.9 377.0 L1031.8 374.6 L1032.6 372.3 L1033.4 369.9 L1034.3 367.5 L1035.1 365.2 L1035.9 362.8 L1036.8 360.5 L1037.6 358.1 L1038.4 355.8 L1039.3 353.4 L1040.1 351.0 L1040.9 348.7 L1041.7 346.3 L1042.6 344.0 L1043.4 341.6 L1044.2 339.2 L1045.1 336.9 L1045.9 334.5 L1046.7 332.2 L1047.5 329.8 L1048.4 327.4 L1049.2 325.1 L1050.0 322.7 L1050.8 320.4 L1051.6 318.0 L1052.5 315.6 L1053.3 313.3 L1054.1 310.9 L1054.9 308.5 L1055.8 306.2 L1056.6 303.8 L1057.4 301.5 L1058.2 299.1 L1059.1 296.7 L1059.9 294.4 L1060.7 292.0 L1061.6 289.7 L1062.4 287.3 L1063.3 285.0 L1064.2 282.6 L1065.0 280.3 L1065.9 278.0 L1066.8 275.6 L1067.7 273.3 L1068.6 271.0 L1069.6 268.6 L1070.5 266.3 L1071.5 264.0 L1072.5 261.7 L1073.5 259.4 L1074.5 257.1 L1075.5 254.9 L1076.6 252.6 L1077.7 250.3 L1078.8 248.1 L1079.9 245.9 L1081.0 243.7 L1082.2 241.4 L1083.4 239.3 L1084.7 237.1 L1085.9 234.9 L1087.2 232.8 L1088.5 230.7 L1089.9 228.6 L1091.3 226.5 L1092.7 224.4 L1094.1 222.4 L1095.6 220.3 L1097.1 218.3 L1098.6 216.4 L1100.2 214.4 L1101.7 212.4 L1103.3 210.5 L1104.9 208.6 L1106.6 206.7 L1108.2 204.8 L1109.9 203.0 L1111.6 201.1 L1113.3 199.3 L1115.0 197.5 L1116.7 195.6 L1118.4 193.8 L1120.2 192.0 L1121.9 190.2 L1123.6 188.4 L1125.4 186.6 L1127.1 184.9 L1128.9 183.1 L1130.6 181.3 L1132.4 179.5 L1134.1 177.7 L1135.8 175.9 L1137.6 174.1 L1139.3 172.3 L1141.1 170.5 L1142.8 168.7 L1144.6 166.9 L1146.3 165.1 L1148.0 163.3 L1149.8 161.5 L1151.5 159.8 L1153.3 158.0 L1155.1 156.2 L1156.9 154.5 L1158.6 152.7 L1160.4 151.0 L1162.2 149.2 L1164.0 147.5 L1165.8 145.7 L1167.6 144.0 L1169.4 142.3 L1171.3 140.6 L1173.2 139.0 L1175.1 137.4 L1177.2 135.9 L1179.2 134.6 L1181.4 133.3 L1183.6 132.2 L1186.0 131.3 L1188.3 130.5 L1190.8 130.0 L1193.3 129.8 L1195.8 129.8 L1198.2 130.1 L1200.7 130.8 L1203.0 131.8 L1205.2 133.0 L1207.2 134.4 L1209.1 136.0 L1210.9 137.8 L1212.5 139.7 L1213.9 141.7 L1215.3 143.9 L1216.5 146.0 L1217.6 148.3 L1218.6 150.6 L1219.6 152.9 L1220.5 155.2 L1221.3 157.6 L1222.2 159.9 L1223.0 162.3 L1223.8 164.6 L1224.6 167.0 L1225.4 169.4 L1226.1 171.8 L1226.9 174.2 L1227.7 176.5 L1228.4 178.9 L1229.1 181.3 L1229.8 183.7 L1230.5 186.1 L1231.2 188.5 L1231.8 191.0 L1232.5 193.4 L1233.1 195.8 L1233.8 198.2 L1234.4 200.6 L1235.0 203.0 L1235.7 205.5 L1236.3 207.9 L1236.9 210.3 L1237.5 212.7 L1238.1 215.1 L1238.8 217.6 L1239.4 220.0 L1240.0 222.4 L1240.6 224.8 L1241.2 227.3 L1241.8 229.7 L1242.4 232.1 L1243.0 234.5 L1243.6 237.0 L1244.2 239.4 L1244.9 241.8 L1245.5 244.2 L1246.1 246.7 L1246.7 249.1 L1247.3 251.5 L1247.9 254.0 L1248.5 256.4 L1249.1 258.8 L1249.7 261.2 L1250.3 263.7 L1250.9 266.1 L1251.5 268.5 L1252.2 270.9 L1252.8 273.3 L1253.4 275.8 L1254.0 278.2 L1254.7 280.6 L1255.3 283.0 L1255.9 285.5 L1256.6 287.9 L1257.2 290.3 L1257.9 292.7 L1258.5 295.1 L1259.2 297.5 L1259.8 299.9 L1260.5 302.3 L1261.2 304.7 L1261.9 307.2 L1262.6 309.6 L1263.3 312.0 L1264.0 314.4 L1264.7 316.8 L1265.4 319.1 L1266.1 321.5 L1266.9 323.9 L1267.6 326.3 L1268.4 328.7 L1269.2 331.1 L1269.9 333.5 L1270.7 335.8 L1271.5 338.2 L1272.3 340.6 L1273.1 342.9 L1273.9 345.3 L1274.7 347.7 L1275.6 350.0 L1276.4 352.4 L1277.2 354.7 L1278.1 357.1 L1278.9 359.5 L1279.8 361.8 L1280.6 364.1 L1281.5 366.5 L1282.4 368.8 L1283.3 371.2 L1284.2 373.5 L1285.1 375.8 L1286.0 378.2 L1286.9 380.5 L1287.8 382.8 L1288.8 385.1 L1289.7 387.4 L1290.7 389.7 L1291.7 392.1 L1292.7 394.4 L1293.6 396.6 L1294.7 398.9 L1295.7 401.2 L1296.7 403.5 L1297.7 405.8 L1298.8 408.1 L1299.8 410.3 L1300.9 412.6 L1301.9 414.9 L1303.0 417.1 L1304.0 419.4 L1305.1 421.7 L1306.2 423.9 L1307.2 426.2 L1308.3 428.4 L1309.4 430.7 L1310.5 433.0 L1311.5 435.2 L1312.6 437.5 L1313.7 439.7 L1314.7 442.0 L1315.8 444.3 L1316.9 446.5 L1317.9 448.8 L1319.0 451.1 L1320.0 453.3 L1321.1 455.6 L1322.1 457.9 L1323.2 460.1 L1324.2 462.4 L1325.3 464.7 L1326.3 467.0 L1327.3 469.2 L1328.4 471.5 L1329.4 473.8 L1330.4 476.1 L1331.5 478.3 L1332.5 480.6 L1333.5 482.9 L1334.5 485.2 L1335.5 487.5 L1336.5 489.8 L1337.5 492.1 L1338.5 494.4 L1339.5 496.7 L1340.4 499.0 L1341.4 501.3 L1342.3 503.6 L1343.3 505.9 L1344.2 508.3 L1345.1 510.6 L1346.0 512.9 L1346.9 515.3 L1347.7 517.6 L1348.6 520.0 L1349.4 522.3 L1350.2 524.7 L1351.0 527.0 L1351.8 529.4 L1352.6 531.8 L1353.3 534.2 L1354.0 536.6 L1354.8 539.0 L1355.5 541.4 L1356.1 543.8 L1356.8 546.2 L1357.4 548.6 L1358.0 551.0 L1358.7 553.5 L1359.2 555.9 L1359.8 558.3 L1360.4 560.8 L1360.9 563.2 L1361.5 565.7 L1362.0 568.1 L1362.5 570.5 L1363.0 573.0 L1363.5 575.4 L1364.0 577.9 L1364.5 580.4 L1364.9 582.8 L1365.4 585.3 L1365.8 587.7 L1366.3 590.2 L1366.7 592.6 L1367.2 595.1 L1367.6 597.6 L1368.1 600.0 L1368.5 602.5 L1368.9 605.0 L1369.4 607.4 L1369.8 609.9 L1370.3 612.3 L1370.7 614.8 L1371.1 617.3 L1371.6 619.7 L1372.0 622.2 L1372.5 624.7 L1372.9 627.1 L1373.3 629.6 L1373.8 632.0 L1374.2 634.5 L1374.7 637.0 L1375.1 639.4 L1375.6 641.9 L1376.0 644.3 L1376.5 646.8 L1376.9 649.3 L1377.4 651.7 L1377.9 654.2 L1378.3 656.6 L1378.8 659.1 L1379.2 661.5 L1379.7 664.0 L1380.1 666.5 L1380.6 668.9 L1381.1 671.4 L1381.5 673.8 L1382.0 676.3 L1382.4 678.8 L1382.8 681.2 L1383.3 683.7 L1383.7 686.1 L1384.2 688.6 L1384.6 691.1 L1385.0 693.5 L1385.5 696.0 L1385.9 698.5 L1386.3 700.9 L1386.7 703.4 L1387.1 705.9 L1387.5 708.3 L1387.9 710.8 L1388.3 713.3 L1388.7 715.7 L1389.1 718.2 L1389.5 720.7 L1389.9 723.1 L1390.3 725.6 L1390.7 728.1 L1391.1 730.6 L1391.4 733.0 L1391.8 735.5 L1392.2 738.0 L1392.6 740.4 L1392.9 742.9 L1393.3 745.4 L1393.7 747.9 L1394.1 750.3 L1394.4 752.8 L1394.8 755.3 L1395.2 757.8 L1395.5 760.2 L1395.9 762.7 L1396.3 765.2 L1396.7 767.6 L1397.0 770.1 L1397.4 772.6 L1397.8 775.1 L1398.2 777.5 L1398.5 780.0 L1398.9 782.5 L1399.3 784.9 L1399.7 787.4 L1400.1 789.9 L1400.5 792.4 L1400.9 794.8 L1401.2 797.3 L1401.6 799.8 L1402.0 802.2 L1402.4 804.7 L1402.8 807.2 L1403.2 809.6 L1403.6 812.1 L1404.1 814.6 L1404.5 817.0 L1404.9 819.5 L1405.3 822.0 L1405.7 824.4 L1406.1 826.9 L1406.5 829.4 L1406.9 831.8 L1407.3 834.3 L1407.8 836.8 L1408.2 839.2 L1408.6 841.7 L1409.0 844.2 L1409.4 846.6 L1409.9 849.1 L1410.3 851.6 L1410.7 854.0 L1411.1 856.5 L1411.5 859.0 L1412.0 861.4 L1412.4 863.9 L1412.8 866.4 L1413.2 868.8 L1413.7 871.3 L1414.1 873.7 L1414.5 876.2 L1414.9 878.7 L1415.4 881.1 L1415.8 883.6 L1416.2 886.1 L1416.7 888.5 L1417.1 891.0 L1417.5 893.5 L1418.0 895.9 L1418.4 898.4 L1418.9 900.8 L1419.3 903.3 L1419.8 905.8 L1420.2 908.2 L1420.7 910.7 L1421.2 913.1 L1421.6 915.6 L1422.1 918.0 L1422.6 920.5 L1423.1 922.9 L1423.5 925.4 L1424.0 927.9 L1424.5 930.3 L1425.0 932.8 L1425.5 935.2 L1426.1 937.7 L1426.6 940.1 L1427.1 942.5 L1427.6 945.0 L1428.2 947.4 L1428.7 949.9 L1429.3 952.3 L1429.8 954.7 L1430.4 957.2 L1431.0 959.6 L1431.6 962.0 L1432.2 964.5 L1432.8 966.9 L1433.4 969.3 L1434.0 971.7 L1434.7 974.2 L1435.3 976.6 L1436.0 979.0 L1436.6 981.4 L1437.3 983.8 L1438.0 986.2 L1438.7 988.6 L1439.4 991.0 L1440.1 993.4 L1440.9 995.8 L1441.6 998.2 L1442.4 1000.6 L1443.2 1002.9 L1444.0 1005.3 L1444.8 1007.7 L1445.6 1010.0 L1446.4 1012.4 L1447.3 1014.7 L1448.1 1017.1 L1449.0 1019.4 L1449.9 1021.8 L1450.8 1024.1 L1451.7 1026.4 L1452.7 1028.7 L1453.6 1031.0 L1454.6 1033.4 L1455.6 1035.6 L1456.6 1037.9 L1457.6 1040.2 L1458.7 1042.5 L1459.8 1044.7 L1460.9 1047.0 L1462.0 1049.2 L1463.2 1051.4 L1464.3 1053.6 L1465.6 1055.8 L1466.8 1058.0 L1468.1 1060.1 L1469.4 1062.3 L1470.7 1064.4 L1472.1 1066.5 L1473.5 1068.6 L1474.9 1070.6 L1476.4 1072.6 L1477.9 1074.6 L1479.5 1076.5 L1481.1 1078.4 L1482.8 1080.3 L1484.5 1082.1 L1486.2 1083.9 L1488.0 1085.7 L1489.8 1087.4 L1491.7 1089.0 L1493.6 1090.7 L1495.6 1092.2 L1497.6 1093.7 L1499.6 1095.2 L1501.7 1096.5 L1503.8 1097.9 L1506.0 1099.1 L1508.2 1100.3 L1510.4 1101.5 L1512.7 1102.6 L1514.9 1103.6 L1517.3 1104.5 L1519.6 1105.4 L1522.0 1106.2 L1524.3 1107.0 L1526.7 1107.7 L1529.1 1108.4 L1531.6 1109.0 L1534.0 1109.5 L1536.5 1110.0 L1538.9 1110.5 L1541.4 1110.9 L1543.8 1111.3 L1546.3 1111.7 L1548.8 1112.1 L1551.3 1112.4 L1553.8 1112.6 L1556.2 1112.9 L1558.7 1113.1 L1561.2 1113.3 L1563.7 1113.5 L1566.2 1113.7 L1568.7 1113.8 L1571.2 1113.9 L1573.7 1114.0 L1576.2 1114.1 L1578.7 1114.2 L1581.2 1114.2 L1583.7 1114.2 L1586.2 1114.3 L1588.7 1114.3 L1591.2 1114.3 L1593.7 1114.3 L1596.2 1114.3 L1598.7 1114.3 L1601.2 1114.3 L1603.7 1114.2 L1606.2 1114.2 L1608.7 1114.2 L1611.2 1114.1 L1613.7 1114.1 L1616.2 1114.1 L1618.7 1114.0 L1621.2 1114.0 L1623.7 1113.9 L1626.2 1113.9 L1628.7 1113.9 L1631.2 1113.8 L1633.7 1113.8 L1636.2 1113.7 L1638.7 1113.7 L1641.2 1113.6 L1643.7 1113.6 L1646.2 1113.5 L1648.7 1113.5 L1651.2 1113.4 L1653.7 1113.3 L1656.2 1113.3 L1658.7 1113.2 L1661.2 1113.2 L1663.7 1113.1 L1666.2 1113.1 L1668.7 1113.0 L1671.2 1113.0 L1673.7 1112.9 L1676.2 1112.8 L1678.7 1112.8 L1681.2 1112.7 L1683.7 1112.7 L1686.2 1112.6 L1688.7 1112.5 L1691.2 1112.5 L1693.7 1112.4 L1696.2 1112.3 L1698.7 1112.3 L1701.2 1112.2 L1703.7 1112.1 L1706.2 1112.1 L1708.7 1112.0 L1711.2 1112.0 L1713.7 1111.9 L1716.2 1111.8 L1718.7 1111.8 L1721.2 1111.7 L1723.7 1111.6 L1726.2 1111.6 L1728.7 1111.5 L1731.2 1111.4 L1733.7 1111.4 L1736.2 1111.3 L1738.7 1111.2 L1741.2 1111.2 L1743.7 1111.1 L1746.2 1111.1 L1748.7 1111.0 L1751.2 1110.9 L1753.7 1110.9 L1756.2 1110.8 L1758.7 1110.7 L1761.2 1110.7 L1763.7 1110.6 L1766.2 1110.6 L1768.7 1110.5 L1771.2 1110.4 L1773.7 1110.4 L1776.2 1110.3 L1778.7 1110.3 L1781.2 1110.2 L1783.7 1110.2 L1786.2 1110.1 L1788.7 1110.0 L1791.2 1110.0 L1793.7 1109.9 L1796.2 1109.9 L1798.7 1109.8 L1801.2 1109.8 L1803.7 1109.7 L1806.2 1109.7 L1808.7 1109.6 L1811.2 1109.6 L1813.7 1109.5 L1816.2 1109.5 L1818.7 1109.4 L1821.2 1109.4 L1823.7 1109.4 L1826.2 1109.3 L1828.7 1109.3 L1831.2 1109.2 L1833.7 1109.2 L1836.2 1109.1 L1838.7 1109.1 L1841.2 1109.1" stroke="#00ff00"/>
<path d="M208.6 645.2 L209.6 642.9 L210.6 640.6 L211.5 638.3 L212.5 636.0 L213.4 633.7 L214.4 631.4 L215.3 629.1 L216.2 626.7 L217.2 624.4 L218.1 622.1 L219.0 619.8 L219.9 617.4 L220.8 615.1 L221.7 612.7 L222.5 610.4 L223.4 608.1 L224.2 605.7 L225.1 603.4 L225.9 601.0 L226.8 598.6 L227.6 596.3 L228.4 593.9 L229.2 591.6 L230.0 589.2 L230.8 586.8 L231.6 584.4 L232.4 582.1 L233.2 579.7 L233.9 577.3 L234.7 574.9 L235.5 572.6 L236.2 570.2 L237.0 567.8 L237.7 565.4 L238.4 563.0 L239.2 560.6 L239.9 558.2 L240.6 555.8 L241.3 553.4 L242.0 551.0 L242.7 548.6 L243.4 546.2 L244.1 543.8 L244.8 541.4 L245.5 539.0 L246.2 536.6 L246.9 534.2 L247.5 531.8 L248.2 529.4 L248.9 527.0 L249.5 524.6 L250.2 522.1 L250.8 519.7 L251.5 517.3 L252.1 514.9 L252.7 512.5 L253.4 510.1 L254.0 507.6 L254.6 505.2 L255.2 502.8 L255.8 500.4 L256.4 497.9 L257.0 495.5 L257.6 493.1 L258.2 490.6 L258.7 488.2 L259.3 485.8 L259.9 483.3 L260.4 480.9 L261.0 478.5 L261.6 476.0 L262.1 473.6 L262.7 471.2 L263.2 468.7 L263.8 466.3 L264.3 463.8 L264.9 461.4 L265.4 459.0 L266.0 456.5 L266.6 454.1 L267.1 451.7 L267.7 449.2 L268.2 446.8 L268.8 444.3 L269.4 441.9 L270.0 439.5 L270.5 437.0 L271.1 434.6 L271.7 432.2 L272.3 429.8 L272.9 427.3 L273.5 424.9 L274.1 422.5 L274.7 420.1 L275.4 417.6 L276.0 415.2 L276.6 412.8 L277.3 410.4 L277.9 408.0 L278.5 405.5 L279.2 403.1 L279.8 400.7 L280.5 398.3 L281.2 395.9 L281.8 393.5 L282.5 391.1 L283.2 388.7 L283.8 386.3 L284.5 383.8 L285.2 381.4 L285.9 379.0 L286.5 376.6 L287.2 374.2 L287.9 371.8 L288.6 369.4 L289.3 367.0 L290.0 364.6 L290.7 362.2 L291.3 359.8 L292.0 357.4 L292.7 355.0 L293.4 352.6 L294.1 350.2 L294.8 347.8 L295.5 345.4 L296.2 343.0 L296.9 340.6 L297.5 338.2 L298.2 335.8 L298.9 333.4 L299.6 330.9 L300.3 328.5 L301.0 326.1 L301.7 323.7 L302.4 321.3 L303.1 318.9 L303.7 316.5 L304.4 314.1 L305.1 311.7 L305.8 309.3 L306.5 306.9 L307.2 304.5 L307.9 302.1 L308.6 299.7 L309.3 297.3 L310.1 294.9 L310.8 292.5 L311.5 290.1 L312.3 287.8 L313.0 285.4 L313.8 283.0 L314.6 280.6 L315.4 278.3 L316.2 275.9 L317.1 273.5 L317.9 271.2 L318.8 268.9 L319.7 266.5 L320.6 264.2 L321.5 261.8 L322.4 259.5 L323.3 257.2 L324.3 254.9 L325.3 252.6 L326.4 250.4 L327.6 248.2 L328.9 246.1 L330.4 244.0 L332.0 242.1 L333.7 240.2 L335.5 238.6 L337.5 237.1 L339.7 235.9 L342.1 235.2 L344.6 234.9 L347.1 235.2 L349.5 235.9 L351.7 237.0 L353.8 238.4 L355.7 240.1 L357.3 241.9 L358.8 243.9 L360.2 246.0 L361.4 248.2 L362.5 250.4 L363.5 252.7 L364.4 255.1 L365.3 257.4 L366.1 259.8 L366.9 262.1 L367.7 264.5 L368.5 266.9 L369.3 269.2 L370.1 271.6 L370.9 274.0 L371.7 276.4 L372.4 278.7 L373.2 281.1 L373.9 283.5 L374.6 285.9 L375.3 288.3 L376.0 290.7 L376.7 293.1 L377.4 295.5 L378.1 297.9 L378.7 300.3 L379.4 302.8 L380.0 305.2 L380.7 307.6 L381.4 310.0 L382.0 312.4 L382.7 314.8 L383.3 317.2 L384.0 319.7 L384.6 322.1 L385.2 324.5 L385.9 326.9 L386.5 329.3 L387.2 331.7 L387.8 334.2 L388.4 336.6 L389.0 339.0 L389.7 341.4 L390.3 343.8 L390.9 346.3 L391.5 348.7 L392.1 351.1 L392.7 353.5 L393.3 356.0 L393.9 358.4 L394.5 360.8 L395.0 363.3 L395.6 365.7 L396.1 368.2 L396.7 370.6 L397.2 373.0 L397.8 375.5 L398.3 377.9 L398.8 380.4 L399.3 382.8 L399.8 385.3 L400.3 387.7 L400.7 390.2 L401.2 392.6 L401.7 395.1 L402.1 397.6 L402.6 400.0 L403.0 402.5 L403.4 404.9 L403.8 407.4 L404.2 409.9 L404.6 412.3 L405.0 414.8 L405.4 417.3 L405.8 419.8 L406.2 422.2 L406.6 424.7 L406.9 427.2 L407.3 429.6 L407.7 432.1 L408.1 434.6 L408.4 437.1 L408.8 439.5 L409.2 442.0 L409.5 444.5 L409.9 447.0 L410.2 449.4 L410.6 451.9 L411.0 454.4 L411.3 456.8 L411.7 459.3 L412.1 461.8 L412.4 464.3 L412.8 466.7 L413.1 469.2 L413.5 471.7 L413.9 474.2 L414.2 476.6 L414.6 479.1 L415.0 481.6 L415.3 484.1 L415.7 486.5 L416.0 489.0 L416.4 491.5 L416.8 494.0 L417.1 496.4 L417.5 498.9 L417.8 501.4 L418.2 503.9 L418.6 506.3 L418.9 508.8 L419.3 511.3 L419.6 513.8 L420.0 516.2 L420.3 518.7 L420.6 521.2 L421.0 523.7 L421.3 526.1 L421.7 528.6 L422.0 531.1 L422.3 533.6 L422.6 536.1 L423.0 538.5 L423.3 541.0 L423.6 543.5 L423.9 546.0 L424.2 548.5 L424.5 550.9 L424.8 553.4 L425.2 555.9 L425.5 558.4 L425.8 560.9 L426.1 563.3 L426.4 565.8 L426.6 568.3 L426.9 570.8 L427.2 573.3 L427.5 575.8 L427.8 578.2 L428.1 580.7 L428.4 583.2 L428.7 585.7 L429.0 588.2 L429.2 590.7 L429.5 593.2 L429.8 595.6 L430.1 598.1 L430.4 600.6 L430.7 603.1 L430.9 605.6 L431.2 608.1 L431.5 610.5 L431.8 613.0 L432.1 615.5 L432.4 618.0 L432.7 620.5 L432.9 623.0 L433.2 625.4 L433.5 627.9 L433.8 630.4 L434.1 632.9 L434.4 635.4 L434.7 637.9 L434.9 640.4 L435.2 642.8 L435.5 645.3 L435.8 647.8 L436.1 650.3 L436.4 652.8 L436.6 655.3 L436.9 657.7 L437.2 660.2 L437.5 662.7 L437.7 665.2 L438.0 667.7 L438.3 670.2 L438.5 672.7 L438.8 675.1 L439.0 677.6 L439.3 680.1 L439.6 682.6 L439.8 685.1 L440.1 687.6 L440.3 690.1 L440.6 692.6 L440.8 695.0 L441.1 697.5 L441.4 700.0 L441.6 702.5 L441.9 705.0 L442.1 707.5 L442.4 710.0 L442.7 712.5 L442.9 714.9 L443.2 717.4 L443.4 719.9 L443.7 722.4 L444.0 724.9 L444.2 727.4 L444.5 729.9 L444.8 732.3 L445.1 734.8 L445.3 737.3 L445.6 739.8 L445.9 742.3 L446.2 744.8 L446.5 747.2 L446.7 749.7 L447.0 752.2 L447.3 754.7 L447.6 757.2 L447.9 759.7 L448.2 762.2 L448.5 764.6 L448.8 767.1 L449.1 769.6 L449.4 772.1 L449.7 774.6 L450.0 777.1 L450.3 779.5 L450.6 782.0 L450.9 784.5 L451.2 787.0 L451.4 789.5 L451.7 791.9 L452.0 794.4 L452.3 796.9 L452.7 799.4 L453.0 801.9 L453.3 804.4 L453.6 806.8 L453.9 809.3 L454.2 811.8 L454.5 814.3 L454.8 816.8 L455.1 819.2 L455.4 821.7 L455.7 824.2 L456.0 826.7 L456.4 829.2 L456.7 831.6 L457.0 834.1 L457.3 836.6 L457.6 839.1 L458.0 841.6 L458.3 844.0 L458.6 846.5 L459.0 849.0 L459.3 851.5 L459.7 854.0 L460.0 856.4 L460.4 858.9 L460.7 861.4 L461.1 863.9 L461.4 866.3 L461.8 868.8 L462.2 871.3 L462.5 873.7 L462.9 876.2 L463.3 878.7 L463.7 881.2 L464.1 883.6 L464.5 886.1 L464.9 888.6 L465.3 891.0 L465.7 893.5 L466.1 896.0 L466.6 898.4 L467.0 900.9 L467.5 903.3 L467.9 905.8 L468.4 908.3 L468.9 910.7 L469.4 913.2 L469.9 915.6 L470.4 918.1 L471.0 920.5 L471.5 922.9 L472.1 925.4 L472.6 927.8 L473.2 930.2 L473.8 932.7 L474.4 935.1 L475.0 937.5 L475.6 939.9 L476.3 942.4 L476.9 944.8 L477.6 947.2 L478.3 949.6 L478.9 952.0 L479.6 954.4 L480.4 956.8 L481.1 959.2 L481.8 961.6 L482.6 964.0 L483.3 966.3 L484.1 968.7 L484.9 971.1 L485.8 973.4 L486.6 975.8 L487.5 978.1 L488.3 980.5 L489.3 982.8 L490.2 985.1 L491.1 987.4 L492.1 989.8 L493.1 992.0 L494.1 994.3 L495.2 996.6 L496.3 998.8 L497.4 1001.1 L498.5 1003.3 L499.7 1005.5 L500.9 1007.7 L502.2 1009.8 L503.5 1012.0 L504.9 1014.1 L506.3 1016.1 L507.8 1018.1 L509.4 1020.0 L511.0 1021.9 L512.8 1023.7 L514.6 1025.5 L516.5 1027.1 L518.4 1028.6 L520.5 1030.0 L522.6 1031.3 L524.9 1032.5 L527.1 1033.6 L529.5 1034.5 L531.8 1035.3 L534.2 1035.9 L536.7 1036.4 L539.2 1036.7 L541.7 1037.0 L544.2 1037.1 L546.7 1037.1 L549.2 1037.1 L551.7 1037.0 L554.2 1036.8 L556.6 1036.6 L559.1 1036.3 L561.6 1036.0 L564.1 1035.7 L566.6 1035.3 L569.0 1034.8 L571.5 1034.4 L573.9 1033.8 L576.4 1033.3 L578.8 1032.7 L581.2 1032.1 L583.6 1031.4 L586.0 1030.7 L588.4 1030.0 L590.8 1029.2 L593.2 1028.4 L595.5 1027.6 L597.9 1026.7 L600.2 1025.9 L602.5 1024.9 L604.8 1024.0 L607.2 1023.0 L609.4 1022.0 L611.7 1021.0 L614.0 1020.0 L616.3 1018.9 L618.5 1017.8 L620.7 1016.7 L623.0 1015.5 L625.2 1014.4 L627.4 1013.2 L629.6 1012.0 L631.7 1010.7 L633.9 1009.5 L636.1 1008.2 L638.2 1006.9 L640.3 1005.6 L642.5 1004.3 L644.6 1003.0 L646.7 1001.6 L648.8 1000.2 L650.8 998.8 L652.9 997.4 L654.9 996.0 L657.0 994.5 L659.0 993.1 L661.0 991.6 L663.0 990.1 L665.0 988.6 L667.0 987.1 L669.0 985.6 L671.0 984.0 L672.9 982.5 L674.9 980.9 L676.8 979.3 L678.8 977.7 L680.7 976.1 L682.6 974.5 L684.5 972.9 L686.4 971.3 L688.3 969.7 L690.2 968.0 L692.1 966.4 L693.9 964.7 L695.8 963.0 L697.6 961.4 L699.5 959.7 L701.3 958.0 L703.2 956.3 L705.0 954.6 L706.8 952.8 L708.6 951.1 L710.4 949.4 L712.2 947.6 L713.9 945.8 L715.7 944.1 L717.5 942.3 L719.2 940.5 L720.9 938.7 L722.7 936.9 L724.4 935.1 L726.1 933.2 L727.8 931.4 L729.4 929.5 L731.1 927.7 L732.7 925.8 L734.4 923.9 L736.0 922.0 L737.6 920.1 L739.2 918.2 L740.8 916.2 L742.4 914.3 L744.0 912.4 L745.5 910.4 L747.1 908.4 L748.6 906.5 L750.2 904.5 L751.7 902.5 L753.2 900.5 L754.7 898.5 L756.1 896.5 L757.6 894.5 L759.1 892.4 L760.5 890.4 L762.0 888.3 L763.4 886.3 L764.8 884.2 L766.2 882.2 L767.6 880.1 L769.0 878.0 L770.4 875.9 L771.8 873.9 L773.1 871.8 L774.5 869.7 L775.9 867.6 L777.2 865.4 L778.5 863.3 L779.8 861.2 L781.2 859.1 L782.5 856.9 L783.8 854.8 L785.0 852.7 L786.3 850.5 L787.6 848.4 L788.8 846.2 L790.1 844.0 L791.3 841.9 L792.6 839.7 L793.8 837.5 L795.0 835.3 L796.2 833.1 L797.4 830.9 L798.5 828.7 L799.7 826.5 L800.9 824.3 L802.0 822.0 L803.1 819.8 L804.3 817.6 L805.4 815.3 L806.5 813.1 L807.6 810.8 L808.6 808.6 L809.7 806.3 L810.8 804.1 L811.8 801.8 L812.9 799.5 L813.9 797.3 L814.9 795.0 L816.0 792.7 L817.0 790.4 L818.0 788.1 L819.0 785.8 L820.0 783.5 L820.9 781.2 L821.9 778.9 L822.9 776.6 L823.8 774.3 L824.8 772.0 L825.8 769.7 L826.7 767.4 L827.6 765.1 L828.6 762.7 L829.5 760.4 L830.4 758.1 L831.4 755.8 L832.3 753.5 L833.2 751.1 L834.1 748.8 L835.0 746.5 L835.9 744.1 L836.8 741.8 L837.7 739.5 L838.6 737.1 L839.5 734.8 L840.4 732.5 L841.3 730.1 L842.2 727.8 L843.1 725.5 L844.0 723.1 L844.8 720.8 L845.7 718.4 L846.6 716.1 L847.5 713.7 L848.3 711.4 L849.2 709.1 L850.1 706.7 L851.0 704.4 L851.8 702.0 L852.7 699.7 L853.6 697.3 L854.4 695.0 L855.3 692.7 L856.2 690.3 L857.1 688.0 L857.9 685.6 L858.8 683.3 L859.7 680.9 L860.6 678.6 L861.5 676.3 L862.4 673.9 L863.3 671.6 L864.2 669.3 L865.1 666.9 L866.0 664.6 L866.9 662.3 L867.8 660.0 L868.7 657.6 L869.6 655.3 L870.6 653.0 L871.5 650.7 L872.4 648.3 L873.4 646.0 L874.3 643.7 L875.2 641.4 L876.2 639.1 L877.1 636.7 L878.0 634.4 L879.0 632.1 L879.9 629.8 L880.8 627.5 L881.8 625.1 L882.7 622.8 L883.6 620.5 L884.5 618.2 L885.4 615.8 L886.4 613.5 L887.3 611.2 L888.2 608.8 L889.0 606.5 L889.9 604.2 L890.8 601.8 L891.7 599.5 L892.6 597.1 L893.4 594.8 L894.3 592.5 L895.1 590.1 L896.0 587.8 L896.8 585.4 L897.7 583.0 L898.5 580.7 L899.4 578.3 L900.2 576.0 L901.0 573.6 L901.9 571.3 L902.7 568.9 L903.5 566.5 L904.3 564.2 L905.2 561.8 L906.0 559.5 L906.8 557.1 L907.6 554.7 L908.5 552.4 L909.3 550.0 L910.1 547.7 L911.0 545.3 L911.8 543.0 L912.6 540.6 L913.5 538.2 L914.3 535.9 L915.1 533.5 L915.9 531.2 L916.8 528.8 L917.6 526.4 L918.5 524.1 L919.3 521.7 L920.1 519.4 L921.0 517.0 L921.8 514.7 L922.6 512.3 L923.5 509.9 L924.3 507.6 L925.1 505.2 L926.0 502.9 L926.8 500.5 L927.6 498.2 L928.5 495.8 L929.3 493.4 L930.1 491.1 L931.0 488.7 L931.8 486.4 L932.6 484.0 L933.5 481.7 L934.3 479.3 L935.1 476.9 L935.9 474.6 L936.8 472.2 L937.6 469.9 L938.4 467.5 L939.2 465.1 L940.0 462.8 L940.9 460.4 L941.7 458.0 L942.5 455.7 L943.3 453.3 L944.2 451.0 L945.0 448.6 L945.8 446.2 L946.6 443.9 L947.4 441.5 L948.3 439.2 L949.1 436.8 L949.9 434.4 L950.7 432.1 L951.6 429.7 L952.4 427.3 L953.2 425.0 L954.0 422.6 L954.9 420.3 L955.7 417.9 L956.5 415.5 L957.3 413.2 L958.2 410.8 L959.0 408.5 L959.8 406.1 L960.6 403.8 L961.5 401.4 L962.3 399.0 L963.1 396.7 L964.0 394.3 L964.8 392.0 L965.6 389.6 L966.5 387.2 L967.3 384.9 L968.1 382.5 L969.0 380.2 L969.8 377.8 L970.6 375.4 L971.5 373.1 L972.3 370.7 L973.1 368.4 L974.0 366.0 L974.8 363.7 L975.6 361.3 L976.5 359.0 L977.3 356.6 L978.2 354.2 L979.0 351.9 L979.8 349.5 L980.7 347.2 L981.5 344.8 L982.4 342.5 L983.3 340.1 L984.1 337.8 L985.0 335.4 L985.8 333.1 L986.7 330.7 L987.6 328.4 L988.4 326.1 L989.3 323.7 L990.2 321.4 L991.1 319.0 L991.9 316.7 L992.8 314.4 L993.7 312.0 L994.6 309.7 L995.5 307.3 L996.4 305.0 L997.3 302.7 L998.2 300.3 L999.1 298.0 L1000.0 295.7 L1000.9 293.4 L1001.8 291.0 L1002.8 288.7 L1003.7 286.4 L1004.6 284.1 L1005.5 281.7 L1006.5 279.4 L1007.4 277.1 L1008.4 274.8 L1009.3 272.5 L1010.3 270.2 L1011.2 267.9 L1012.2 265.6 L1013.2 263.3 L1014.2 261.0 L1015.2 258.7 L1016.2 256.4 L1017.2 254.1 L1018.2 251.8 L1019.2 249.5 L1020.2 247.2 L1021.2 244.9 L1022.2 242.7 L1023.3 240.4 L1024.3 238.1 L1025.4 235.8 L1026.4 233.6 L1027.5 231.3 L1028.6 229.0 L1029.6 226.8 L1030.7 224.5 L1031.8 222.3 L1032.9 220.0 L1034.0 217.8 L1035.2 215.6 L1036.3 213.3 L1037.4 211.1 L1038.6 208.9 L1039.8 206.7 L1040.9 204.5 L1042.1 202.3 L1043.4 200.1 L1044.6 197.9 L1045.8 195.8 L1047.1 193.6 L1048.3 191.4 L1049.6 189.3 L1050.9 187.2 L1052.3 185.0 L1053.6 182.9 L1054.9 180.8 L1056.3 178.7 L1057.7 176.7 L1059.1 174.6 L1060.6 172.6 L1062.0 170.5 L1063.5 168.5 L1065.0 166.5 L1066.5 164.5 L1068.0 162.5 L1069.6 160.6 L1071.2 158.6 L1072.8 156.7 L1074.4 154.8 L1076.0 152.9 L1077.7 151.0 L1079.4 149.2 L1081.0 147.3 L1082.8 145.5 L1084.5 143.7 L1086.3 142.0 L1088.1 140.3 L1090.0 138.6 L1091.9 137.0 L1094.0 135.6 L1096.0 134.2 L1098.2 133.0 L1100.5 131.9 L1102.8 130.9 L1105.1 130.1 L1107.6 129.5 L1110.0 129.0 L1112.5 128.8 L1115.0 128.7 L1117.5 128.9 L1120.0 129.3 L1122.4 129.9 L1124.8 130.7 L1127.1 131.7 L1129.3 132.8 L1131.4 134.1 L1133.4 135.6 L1135.3 137.2 L1137.1 138.9 L1138.9 140.7 L1140.5 142.7 L1142.0 144.6 L1143.4 146.7 L1144.8 148.8 L1146.1 150.9 L1147.4 153.1 L1148.6 155.2 L1149.9 157.4 L1151.1 159.6 L1152.2 161.8 L1153.4 164.0 L1154.6 166.2 L1155.7 168.5 L1156.8 170.7 L1157.9 172.9 L1159.0 175.2 L1160.1 177.5 L1161.1 179.7 L1162.1 182.0 L1163.2 184.3 L1164.2 186.6 L1165.1 188.9 L1166.1 191.2 L1167.1 193.5 L1168.0 195.8 L1169.0 198.1 L1169.9 200.4 L1170.9 202.8 L1171.8 205.1 L1172.7 207.4 L1173.6 209.7 L1174.5 212.1 L1175.4 214.4 L1176.2 216.8 L1177.1 219.1 L1178.0 221.4 L1178.8 223.8 L1179.7 226.1 L1180.5 228.5 L1181.4 230.9 L1182.2 233.2 L1183.1 235.6 L1183.9 237.9 L1184.7 240.3 L1185.5 242.6 L1186.3 245.0 L1187.2 247.4 L1188.0 249.7 L1188.8 252.1 L1189.6 254.5 L1190.4 256.8 L1191.2 259.2 L1192.0 261.6 L1192.8 263.9 L1193.6 266.3 L1194.4 268.7 L1195.2 271.0 L1196.0 273.4 L1196.8 275.8 L1197.6 278.2 L1198.4 280.5 L1199.2 282.9 L1199.9 285.3 L1200.7 287.7 L1201.5 290.0 L1202.3 292.4 L1203.0 294.8 L1203.8 297.2 L1204.5 299.6 L1205.3 301.9 L1206.0 304.3 L1206.8 306.7 L1207.5 309.1 L1208.2 311.5 L1208.9 313.9 L1209.7 316.3 L1210.4 318.7 L1211.1 321.1 L1211.8 323.5 L1212.5 325.9 L1213.1 328.3 L1213.8 330.7 L1214.5 333.1 L1215.2 335.5 L1215.8 337.9 L1216.5 340.4 L1217.2 342.8 L1217.8 345.2 L1218.5 347.6 L1219.1 350.0 L1219.8 352.4 L1220.4 354.8 L1221.0 357.3 L1221.7 359.7 L1222.3 362.1 L1223.0 364.5 L1223.6 366.9 L1224.2 369.3 L1224.9 371.8 L1225.5 374.2 L1226.1 376.6 L1226.8 379.0 L1227.4 381.4 L1228.1 383.8 L1228.7 386.3 L1229.3 388.7 L1230.0 391.1 L1230.6 393.5 L1231.3 395.9 L1231.9 398.3 L1232.6 400.8 L1233.2 403.2 L1233.8 405.6 L1234.5 408.0 L1235.1 410.4 L1235.8 412.8 L1236.4 415.3 L1237.1 417.7 L1237.7 420.1 L1238.4 422.5 L1239.0 424.9 L1239.7 427.3 L1240.3 429.8 L1240.9 432.2 L1241.6 434.6 L1242.2 437.0 L1242.8 439.4 L1243.5 441.8 L1244.1 444.3 L1244.7 446.7 L1245.3 449.1 L1246.0 451.5 L1246.6 454.0 L1247.2 456.4 L1247.8 458.8 L1248.5 461.2 L1249.1 463.6 L1249.7 466.1 L1250.3 468.5 L1250.9 470.9 L1251.6 473.3 L1252.2 475.7 L1252.8 478.2 L1253.4 480.6 L1254.1 483.0 L1254.7 485.4 L1255.3 487.9 L1255.9 490.3 L1256.6 492.7 L1257.2 495.1 L1257.8 497.5 L1258.5 500.0 L1259.1 502.4 L1259.7 504.8 L1260.4 507.2 L1261.0 509.6 L1261.6 512.0 L1262.3 514.5 L1262.9 516.9 L1263.6 519.3 L1264.2 521.7 L1264.9 524.1 L1265.5 526.5 L1266.2 528.9 L1266.8 531.4 L1267.5 533.8 L1268.2 536.2 L1268.8 538.6 L1269.5 541.0 L1270.1 543.4 L1270.8 545.8 L1271.5 548.2 L1272.1 550.7 L1272.8 553.1 L1273.4 555.5 L1274.1 557.9 L1274.7 560.3 L1275.4 562.7 L1276.0 565.1 L1276.7 567.6 L1277.3 570.0 L1277.9 572.4 L1278.6 574.8 L1279.2 577.2 L1279.8 579.7 L1280.4 582.1 L1281.0 584.5 L1281.6 586.9 L1282.1 589.4 L1282.7 591.8 L1283.3 594.3 L1283.8 596.7 L1284.4 599.1 L1284.9 601.6 L1285.4 604.0 L1286.0 606.5 L1286.5 608.9 L1287.0 611.4 L1287.5 613.8 L1288.0 616.3 L1288.5 618.7 L1289.0 621.2 L1289.5 623.6 L1289.9 626.1 L1290.4 628.5 L1290.9 631.0 L1291.4 633.4 L1291.9 635.9 L1292.3 638.3 L1292.8 640.8 L1293.3 643.2 L1293.8 645.7 L1294.2 648.2 L1294.7 650.6 L1295.2 653.1 L1295.7 655.5 L1296.2 658.0 L1296.6 660.4 L1297.1 662.9 L1297.6 665.3 L1298.1 667.8 L1298.6 670.2 L1299.1 672.7 L1299.6 675.1 L1300.0 677.6 L1300.5 680.0 L1301.0 682.5 L1301.5 684.9 L1302.0 687.4 L1302.5 689.9 L1303.0 692.3 L1303.5 694.8 L1304.0 697.2 L1304.5 699.7 L1304.9 702.1 L1305.4 704.6 L1305.9 707.0 L1306.4 709.5 L1306.9 711.9 L1307.4 714.4 L1307.9 716.8 L1308.4 719.3 L1308.9 721.7 L1309.4 724.2 L1309.9 726.6 L1310.3 729.1 L1310.8 731.5 L1311.3 734.0 L1311.8 736.4 L1312.3 738.9 L1312.8 741.3 L1313.3 743.8 L1313.8 746.2 L1314.3 748.7 L1314.8 751.1 L1315.3 753.6 L1315.7 756.1 L1316.2 758.5 L1316.7 761.0 L1317.2 763.4 L1317.7 765.9 L1318.2 768.3 L1318.7 770.8 L1319.2 773.2 L1319.7 775.7 L1320.2 778.1 L1320.6 780.6 L1321.1 783.0 L1321.6 785.5 L1322.1 787.9 L1322.6 790.4 L1323.1 792.8 L1323.6 795.3 L1324.1 797.7 L1324.5 800.2 L1325.0 802.6 L1325.5 805.1 L1326.0 807.5 L1326.5 810.0 L1327.0 812.5 L1327.4 814.9 L1327.9 817.4 L1328.4 819.8 L1328.9 822.3 L1329.3 824.7 L1329.8 827.2 L1330.3 829.6 L1330.8 832.1 L1331.2 834.6 L1331.7 837.0 L1332.2 839.5 L1332.6 841.9 L1333.1 844.4 L1333.6 846.8 L1334.0 849.3 L1334.5 851.7 L1335.0 854.2 L1335.4 856.7 L1335.9 859.1 L1336.4 861.6 L1336.8 864.0 L1337.3 866.5 L1337.8 868.9 L1338.2 871.4 L1338.7 873.9 L1339.2 876.3 L1339.6 878.8 L1340.1 881.2 L1340.6 883.7 L1341.1 886.1 L1341.5 888.6 L1342.0 891.0 L1342.5 893.5 L1343.0 895.9 L1343.5 898.4 L1344.0 900.8 L1344.5 903.3 L1345.0 905.7 L1345.5 908.2 L1346.1 910.6 L1346.6 913.1 L1347.1 915.5 L1347.7 918.0 L1348.2 920.4 L1348.8 922.8 L1349.3 925.3 L1349.9 927.7 L1350.5 930.1 L1351.1 932.6 L1351.6 935.0 L1352.2 937.4 L1352.9 939.9 L1353.5 942.3 L1354.1 944.7 L1354.7 947.1 L1355.4 949.5 L1356.0 951.9 L1356.7 954.4 L1357.4 956.8 L1358.1 959.2 L1358.8 961.6 L1359.5 964.0 L1360.2 966.4 L1360.9 968.8 L1361.7 971.1 L1362.4 973.5 L1363.2 975.9 L1363.9 978.3 L1364.7 980.7 L1365.5 983.0 L1366.3 985.4 L1367.2 987.8 L1368.0 990.1 L1368.9 992.5 L1369.8 994.8 L1370.6 997.1 L1371.6 999.5 L1372.5 1001.8 L1373.4 1004.1 L1374.4 1006.4 L1375.4 1008.7 L1376.4 1011.0 L1377.5 1013.2 L1378.6 1015.5 L1379.7 1017.7 L1380.8 1020.0 L1382.0 1022.2 L1383.1 1024.4 L1384.4 1026.6 L1385.6 1028.7 L1386.9 1030.9 L1388.2 1033.0 L1389.5 1035.1 L1390.9 1037.2 L1392.3 1039.3 L1393.7 1041.3 L1395.2 1043.4 L1396.7 1045.4 L1398.2 1047.3 L1399.8 1049.3 L1401.4 1051.2 L1403.1 1053.1 L1404.8 1054.9 L1406.5 1056.7 L1408.2 1058.5 L1410.0 1060.3 L1411.9 1062.0 L1413.7 1063.6 L1415.6 1065.3 L1417.6 1066.8 L1419.5 1068.4 L1421.5 1069.9 L1423.6 1071.3 L1425.6 1072.7 L1427.7 1074.1 L1429.9 1075.4 L1432.0 1076.7 L1434.2 1077.9 L1436.4 1079.0 L1438.7 1080.1 L1440.9 1081.2 L1443.2 1082.2 L1445.5 1083.2 L1447.8 1084.1 L1450.2 1085.0 L1452.5 1085.9 L1454.9 1086.7 L1457.3 1087.4 L1459.7 1088.2 L1462.1 1088.9 L1464.5 1089.6 L1466.9 1090.2 L1469.3 1090.8 L1471.7 1091.4 L1474.2 1092.0 L1476.6 1092.5 L1479.1 1093.0 L1481.5 1093.5 L1484.0 1093.9 L1486.4 1094.3 L1488.9 1094.7 L1491.4 1095.1 L1493.9 1095.5 L1496.3 1095.8 L1498.8 1096.1 L1501.3 1096.4 L1503.8 1096.7 L1506.3 1096.9 L1508.8 1097.1 L1511.3 1097.4 L1513.7 1097.6 L1516.2 1097.8 L1518.7 1097.9 L1521.2 1098.1 L1523.7 1098.3 L1526.2 1098.4 L1528.7 1098.6 L1531.2 1098.7 L1533.7 1098.9 L1536.2 1099.0 L1538.7 1099.1 L1541.2 1099.2 L1543.7 1099.4 L1546.2 1099.5 L1548.7 1099.6 L1551.2 1099.7 L1553.7 1099.8 L1556.2 1100.0 L1558.7 1100.1 L1561.2 1100.2 L1563.7 1100.3 L1566.2 1100.4 L1568.7 1100.5 L1571.2 1100.7 L1573.7 1100.8 L1576.2 1100.9 L1578.7 1101.0 L1581.2 1101.1 L1583.7 1101.2 L1586.2 1101.3 L1588.7 1101.4 L1591.2 1101.5 L1593.7 1101.6 L1596.2 1101.7 L1598.7 1101.8 L1601.2 1101.9 L1603.7 1102.0 L1606.2 1102.0 L1608.7 1102.1 L1611.2 1102.2 L1613.7 1102.2 L1616.2 1102.3 L1618.7 1102.3 L1621.2 1102.4 L1623.7 1102.4 L1626.2 1102.5 L1628.7 1102.5 L1631.2 1102.5 L1633.7 1102.6 L1636.2 1102.6 L1638.7 1102.6 L1641.2 1102.6 L1643.7 1102.7 L1646.2 1102.7 L1648.7 1102.7 L1651.2 1102.7 L1653.7 1102.7 L1656.2 1102.7 L1658.7 1102.7 L1661.2 1102.7 L1663.7 1102.7 L1666.2 1102.7 L1668.7 1102.7 L1671.2 1102.7 L1673.7 1102.7 L1676.2 1102.7 L1678.7 1102.7 L1681.2 1102.7 L1683.7 1102.7 L1686.2 1102.8 L1688.7 1102.8 L1691.2 1102.8 L1693.7 1102.8 L1696.2 1102.8 L1698.7 1102.8 L1701.2 1102.8 L1703.7 1102.8 L1706.2 1102.8 L1708.7 1102.9 L1711.2 1102.9 L1713.7 1102.9 L1716.2 1102.9 L1718.7 1102.9 L1721.2 1103.0 L1723.7 1103.0 L1726.2 1103.0 L1728.7 1103.1 L1731.2 1103.1 L1733.7 1103.1 L1736.2 1103.1 L1738.7 1103.2 L1741.2 1103.2 L1743.7 1103.3 L1746.2 1103.3 L1748.7 1103.3 L1751.2 1103.4 L1753.7 1103.4 L1756.2 1103.4 L1758.7 1103.5 L1761.2 1103.5 L1763.7 1103.5 L1766.2 1103.6 L1768.7 1103.6 L1771.2 1103.7 L1773.7 1103.7 L1776.2 1103.7 L1778.7 1103.8 L1781.2 1103.8 L1783.7 1103.8 L1786.2 1103.9 L1788.7 1103.9 L1791.2 1104.0 L1793.7 1104.0 L1796.2 1104.0 L1798.7 1104.1 L1801.2 1104.1 L1803.7 1104.1 L1806.2 1104.2 L1808.7 1104.2 L1811.2 1104.2 L1813.7 1104.3 L1816.2 1104.3 L1818.7 1104.3 L1821.2 1104.4 L1823.7 1104.4 L1826.2 1104.4 L1828.7 1104.4 L1831.2 1104.5 L1833.7 1104.5 L1836.2 1104.5 L1838.7 1104.6 L1841.2 1104.6" stroke="#ff00ff"/>
<path d="M208.6 592.6 L209.4 590.3 L210.2 587.9 L211.0 585.5 L211.9 583.2 L212.7 580.8 L213.5 578.4 L214.2 576.0 L215.0 573.7 L215.8 571.3 L216.6 568.9 L217.4 566.5 L218.1 564.2 L218.9 561.8 L219.6 559.4 L220.4 557.0 L221.1 554.6 L221.8 552.2 L222.5 549.8 L223.2 547.4 L223.9 545.0 L224.6 542.6 L225.3 540.2 L226.0 537.8 L226.7 535.4 L227.4 533.0 L228.1 530.6 L228.8 528.2 L229.4 525.8 L230.1 523.4 L230.8 520.9 L231.4 518.5 L232.1 516.1 L232.7 513.7 L233.4 511.3 L234.0 508.9 L234.7 506.5 L235.3 504.0 L236.0 501.6 L236.6 499.2 L237.3 496.8 L237.9 494.4 L238.6 492.0 L239.3 489.6 L239.9 487.2 L240.6 484.7 L241.3 482.3 L241.9 479.9 L242.6 477.5 L243.3 475.1 L244.0 472.7 L244.7 470.3 L245.4 467.9 L246.1 465.5 L246.8 463.1 L247.5 460.7 L248.2 458.3 L248.9 455.9 L249.6 453.5 L250.3 451.1 L251.1 448.7 L251.8 446.3 L252.5 443.9 L253.3 441.5 L254.0 439.1 L254.7 436.7 L255.4 434.4 L256.2 432.0 L256.9 429.6 L257.6 427.2 L258.4 424.8 L259.1 422.4 L259.8 420.0 L260.6 417.6 L261.3 415.2 L262.0 412.8 L262.7 410.4 L263.5 408.0 L264.2 405.6 L264.9 403.3 L265.7 400.9 L266.4 398.5 L267.1 396.1 L267.8 393.7 L268.6 391.3 L269.3 388.9 L270.1 386.5 L270.8 384.1 L271.6 381.7 L272.3 379.4 L273.1 377.0 L273.9 374.6 L274.7 372.2 L275.4 369.9 L276.2 367.5 L277.1 365.1 L277.9 362.8 L278.7 360.4 L279.6 358.0 L280.4 355.7 L281.3 353.3 L282.2 351.0 L283.1 348.7 L284.0 346.4 L285.0 344.0 L285.9 341.7 L286.9 339.4 L287.9 337.2 L289.0 334.9 L290.0 332.6 L291.1 330.3 L292.2 328.1 L293.2 325.8 L294.3 323.6 L295.5 321.3 L296.6 319.1 L297.8 316.9 L299.0 314.7 L300.3 312.6 L301.7 310.5 L303.2 308.5 L304.8 306.6 L306.6 304.9 L308.5 303.3 L310.6 301.9 L312.9 300.8 L315.2 300.0 L317.7 299.6 L320.2 299.6 L322.7 300.0 L325.0 300.8 L327.2 301.9 L329.3 303.4 L331.1 305.1 L332.8 306.9 L334.3 308.9 L335.7 311.0 L336.9 313.2 L338.1 315.4 L339.1 317.7 L340.1 320.0 L341.1 322.3 L342.1 324.6 L343.0 326.9 L343.9 329.2 L344.9 331.5 L345.8 333.9 L346.7 336.2 L347.6 338.5 L348.5 340.9 L349.4 343.2 L350.2 345.6 L351.0 347.9 L351.9 350.3 L352.7 352.7 L353.5 355.0 L354.2 357.4 L355.0 359.8 L355.7 362.2 L356.5 364.6 L357.2 367.0 L357.9 369.4 L358.6 371.8 L359.3 374.2 L360.0 376.6 L360.7 379.0 L361.4 381.4 L362.0 383.8 L362.7 386.2 L363.3 388.6 L364.0 391.0 L364.6 393.5 L365.2 395.9 L365.8 398.3 L366.4 400.7 L367.0 403.2 L367.6 405.6 L368.2 408.0 L368.8 410.5 L369.3 412.9 L369.9 415.3 L370.5 417.8 L371.0 420.2 L371.5 422.7 L372.1 425.1 L372.6 427.5 L373.1 430.0 L373.7 432.4 L374.2 434.9 L374.7 437.3 L375.2 439.8 L375.7 442.2 L376.2 444.7 L376.7 447.1 L377.2 449.6 L377.7 452.0 L378.2 454.5 L378.7 456.9 L379.2 459.4 L379.6 461.9 L380.1 464.3 L380.6 466.8 L381.1 469.2 L381.5 471.7 L382.0 474.1 L382.5 476.6 L382.9 479.1 L383.4 481.5 L383.8 484.0 L384.3 486.4 L384.7 488.9 L385.2 491.4 L385.6 493.8 L386.0 496.3 L386.5 498.7 L386.9 501.2 L387.3 503.7 L387.7 506.1 L388.2 508.6 L388.6 511.1 L389.0 513.5 L389.4 516.0 L389.8 518.5 L390.2 520.9 L390.7 523.4 L391.1 525.9 L391.5 528.3 L391.9 530.8 L392.3 533.3 L392.7 535.8 L393.1 538.2 L393.5 540.7 L393.9 543.2 L394.3 545.6 L394.6 548.1 L395.0 550.6 L395.4 553.0 L395.8 555.5 L396.2 558.0 L396.6 560.5 L397.0 562.9 L397.3 565.4 L397.7 567.9 L398.1 570.3 L398.5 572.8 L398.8 575.3 L399.2 577.8 L399.6 580.2 L399.9 582.7 L400.3 585.2 L400.6 587.7 L401.0 590.1 L401.4 592.6 L401.7 595.1 L402.1 597.6 L402.4 600.0 L402.8 602.5 L403.1 605.0 L403.5 607.5 L403.8 610.0 L404.1 612.4 L404.5 614.9 L404.8 617.4 L405.2 619.9 L405.5 622.4 L405.8 624.8 L406.2 627.3 L406.5 629.8 L406.8 632.3 L407.2 634.7 L407.5 637.2 L407.8 639.7 L408.1 642.2 L408.5 644.7 L408.8 647.1 L409.1 649.6 L409.5 652.1 L409.8 654.6 L410.1 657.1 L410.5 659.5 L410.8 662.0 L411.1 664.5 L411.4 667.0 L411.8 669.5 L412.1 671.9 L412.4 674.4 L412.8 676.9 L413.1 679.4 L413.4 681.9 L413.8 684.3 L414.1 686.8 L414.4 689.3 L414.7 691.8 L415.1 694.3 L415.4 696.7 L415.7 699.2 L416.1 701.7 L416.4 704.2 L416.7 706.6 L417.1 709.1 L417.4 711.6 L417.7 714.1 L418.1 716.6 L418.4 719.0 L418.7 721.5 L419.1 724.0 L419.4 726.5 L419.8 729.0 L420.1 731.4 L420.4 733.9 L420.8 736.4 L421.1 738.9 L421.4 741.4 L421.8 743.8 L422.1 746.3 L422.5 748.8 L422.8 751.3 L423.1 753.7 L423.5 756.2 L423.8 758.7 L424.2 761.2 L424.5 763.7 L424.8 766.1 L425.2 768.6 L425.5 771.1 L425.9 773.6 L426.2 776.0 L426.5 778.5 L426.9 781.0 L427.2 783.5 L427.6 786.0 L427.9 788.4 L428.3 790.9 L428.6 793.4 L429.0 795.9 L429.3 798.3 L429.7 800.8 L430.0 803.3 L430.4 805.8 L430.7 808.2 L431.1 810.7 L431.4 813.2 L431.8 815.7 L432.2 818.1 L432.5 820.6 L432.9 823.1 L433.2 825.6 L433.6 828.0 L434.0 830.5 L434.3 833.0 L434.7 835.5 L435.1 837.9 L435.4 840.4 L435.8 842.9 L436.2 845.4 L436.6 847.8 L436.9 850.3 L437.3 852.8 L437.7 855.3 L438.1 857.7 L438.5 860.2 L438.8 862.7 L439.2 865.1 L439.6 867.6 L440.0 870.1 L440.4 872.6 L440.8 875.0 L441.2 877.5 L441.6 880.0 L442.0 882.4 L442.4 884.9 L442.9 887.4 L443.3 889.8 L443.7 892.3 L444.1 894.8 L444.6 897.2 L445.0 899.7 L445.5 902.1 L445.9 904.6 L446.4 907.1 L446.9 909.5 L447.3 912.0 L447.8 914.4 L448.3 916.9 L448.8 919.3 L449.4 921.8 L449.9 924.2 L450.4 926.7 L451.0 929.1 L451.6 931.5 L452.1 934.0 L452.7 936.4 L453.3 938.8 L454.0 941.2 L454.6 943.7 L455.3 946.1 L456.0 948.5 L456.7 950.9 L457.4 953.3 L458.1 955.7 L458.9 958.0 L459.7 960.4 L460.5 962.8 L461.4 965.1 L462.3 967.5 L463.2 969.8 L464.1 972.1 L465.1 974.4 L466.1 976.7 L467.1 979.0 L468.1 981.3 L469.2 983.5 L470.3 985.8 L471.5 988.0 L472.7 990.2 L473.9 992.4 L475.1 994.5 L476.4 996.7 L477.8 998.8 L479.1 1000.9 L480.6 1002.9 L482.0 1005.0 L483.6 1006.9 L485.2 1008.9 L486.9 1010.7 L488.6 1012.5 L490.5 1014.1 L492.4 1015.7 L494.5 1017.2 L496.6 1018.5 L498.8 1019.7 L501.0 1020.8 L503.4 1021.7 L505.8 1022.4 L508.2 1023.0 L510.6 1023.5 L513.1 1023.9 L515.6 1024.2 L518.1 1024.3 L520.6 1024.4 L523.1 1024.5 L525.6 1024.4 L528.1 1024.3 L530.6 1024.1 L533.1 1023.9 L535.6 1023.7 L538.0 1023.4 L540.5 1023.0 L543.0 1022.6 L545.5 1022.2 L547.9 1021.7 L550.4 1021.2 L552.8 1020.7 L555.3 1020.2 L557.7 1019.6 L560.1 1018.9 L562.5 1018.3 L564.9 1017.6 L567.3 1016.9 L569.7 1016.2 L572.1 1015.4 L574.5 1014.6 L576.8 1013.8 L579.2 1012.9 L581.5 1012.1 L583.9 1011.2 L586.2 1010.2 L588.5 1009.3 L590.8 1008.3 L593.1 1007.3 L595.4 1006.3 L597.7 1005.3 L599.9 1004.2 L602.2 1003.1 L604.4 1002.0 L606.7 1000.9 L608.9 999.7 L611.1 998.5 L613.3 997.3 L615.5 996.1 L617.6 994.9 L619.8 993.6 L621.9 992.4 L624.1 991.1 L626.2 989.7 L628.3 988.4 L630.4 987.0 L632.5 985.7 L634.6 984.3 L636.6 982.8 L638.7 981.4 L640.7 980.0 L642.8 978.5 L644.8 977.0 L646.8 975.5 L648.7 974.0 L650.7 972.4 L652.7 970.9 L654.6 969.3 L656.5 967.7 L658.4 966.1 L660.3 964.4 L662.2 962.8 L664.1 961.1 L665.9 959.5 L667.8 957.8 L669.6 956.0 L671.4 954.3 L673.2 952.6 L675.0 950.8 L676.7 949.0 L678.5 947.2 L680.2 945.4 L681.9 943.6 L683.6 941.8 L685.3 939.9 L687.0 938.1 L688.7 936.2 L690.3 934.3 L691.9 932.4 L693.6 930.5 L695.2 928.6 L696.8 926.7 L698.3 924.7 L699.9 922.8 L701.5 920.9 L703.0 918.9 L704.6 916.9 L706.1 915.0 L707.7 913.0 L709.2 911.0 L710.7 909.0 L712.2 907.0 L713.7 905.0 L715.2 903.0 L716.7 901.0 L718.2 899.0 L719.7 897.0 L721.2 895.0 L722.7 893.0 L724.2 891.0 L725.6 889.0 L727.1 886.9 L728.6 884.9 L730.1 882.9 L731.5 880.8 L733.0 878.8 L734.4 876.8 L735.8 874.7 L737.3 872.7 L738.7 870.6 L740.1 868.5 L741.5 866.5 L742.9 864.4 L744.3 862.3 L745.6 860.2 L747.0 858.1 L748.3 856.0 L749.7 853.9 L751.0 851.7 L752.3 849.6 L753.6 847.5 L754.8 845.3 L756.1 843.1 L757.3 841.0 L758.6 838.8 L759.8 836.6 L761.0 834.4 L762.2 832.2 L763.4 830.0 L764.6 827.8 L765.7 825.6 L766.9 823.4 L768.0 821.2 L769.2 818.9 L770.3 816.7 L771.4 814.5 L772.5 812.2 L773.6 810.0 L774.6 807.7 L775.7 805.4 L776.8 803.2 L777.8 800.9 L778.9 798.6 L779.9 796.3 L780.9 794.1 L781.9 791.8 L782.9 789.5 L783.9 787.2 L784.9 784.9 L785.9 782.6 L786.9 780.3 L787.9 778.0 L788.8 775.7 L789.8 773.4 L790.7 771.1 L791.7 768.7 L792.6 766.4 L793.6 764.1 L794.5 761.8 L795.5 759.5 L796.4 757.2 L797.3 754.8 L798.2 752.5 L799.1 750.2 L800.1 747.8 L801.0 745.5 L801.9 743.2 L802.8 740.9 L803.7 738.5 L804.6 736.2 L805.5 733.8 L806.4 731.5 L807.3 729.2 L808.1 726.8 L809.0 724.5 L809.9 722.2 L810.8 719.8 L811.7 717.5 L812.5 715.1 L813.4 712.8 L814.3 710.4 L815.1 708.1 L816.0 705.7 L816.8 703.4 L817.7 701.0 L818.5 698.7 L819.4 696.3 L820.2 694.0 L821.1 691.6 L821.9 689.3 L822.8 686.9 L823.6 684.5 L824.4 682.2 L825.3 679.8 L826.1 677.5 L826.9 675.1 L827.7 672.7 L828.5 670.4 L829.4 668.0 L830.2 665.6 L831.0 663.3 L831.8 660.9 L832.6 658.5 L833.4 656.2 L834.2 653.8 L835.0 651.4 L835.8 649.1 L836.6 646.7 L837.4 644.3 L838.2 642.0 L839.0 639.6 L839.8 637.2 L840.6 634.8 L841.4 632.5 L842.2 630.1 L843.0 627.7 L843.8 625.4 L844.6 623.0 L845.4 620.6 L846.2 618.3 L847.1 615.9 L847.9 613.5 L848.7 611.2 L849.5 608.8 L850.3 606.4 L851.1 604.1 L851.9 601.7 L852.8 599.4 L853.6 597.0 L854.4 594.6 L855.2 592.3 L856.0 589.9 L856.8 587.5 L857.7 585.2 L858.5 582.8 L859.3 580.4 L860.1 578.1 L860.9 575.7 L861.7 573.3 L862.5 571.0 L863.3 568.6 L864.1 566.2 L864.9 563.9 L865.7 561.5 L866.5 559.1 L867.3 556.8 L868.2 554.4 L869.0 552.0 L869.8 549.7 L870.6 547.3 L871.4 544.9 L872.2 542.6 L873.0 540.2 L873.8 537.8 L874.6 535.5 L875.5 533.1 L876.3 530.7 L877.1 528.4 L878.0 526.0 L878.8 523.7 L879.6 521.3 L880.5 519.0 L881.3 516.6 L882.2 514.3 L883.1 511.9 L883.9 509.6 L884.8 507.2 L885.7 504.9 L886.5 502.5 L887.4 500.2 L888.3 497.9 L889.2 495.5 L890.1 493.2 L891.0 490.9 L891.9 488.5 L892.8 486.2 L893.8 483.9 L894.7 481.5 L895.6 479.2 L896.5 476.9 L897.4 474.6 L898.4 472.2 L899.3 469.9 L900.2 467.6 L901.1 465.3 L902.0 462.9 L903.0 460.6 L903.9 458.3 L904.8 455.9 L905.7 453.6 L906.6 451.3 L907.5 448.9 L908.4 446.6 L909.3 444.3 L910.1 441.9 L911.0 439.6 L911.9 437.2 L912.7 434.9 L913.6 432.5 L914.4 430.2 L915.3 427.8 L916.1 425.5 L917.0 423.1 L917.8 420.7 L918.6 418.4 L919.4 416.0 L920.2 413.7 L921.0 411.3 L921.8 408.9 L922.6 406.5 L923.4 404.2 L924.2 401.8 L925.0 399.4 L925.8 397.1 L926.6 394.7 L927.4 392.3 L928.1 389.9 L928.9 387.5 L929.7 385.2 L930.5 382.8 L931.3 380.4 L932.0 378.0 L932.8 375.7 L933.6 373.3 L934.4 370.9 L935.2 368.5 L936.0 366.2 L936.7 363.8 L937.5 361.4 L938.3 359.0 L939.1 356.7 L939.9 354.3 L940.7 351.9 L941.5 349.6 L942.3 347.2 L943.1 344.8 L943.9 342.4 L944.7 340.1 L945.5 337.7 L946.3 335.3 L947.1 333.0 L947.9 330.6 L948.8 328.3 L949.6 325.9 L950.4 323.5 L951.3 321.2 L952.1 318.8 L952.9 316.5 L953.8 314.1 L954.7 311.8 L955.5 309.4 L956.4 307.1 L957.3 304.7 L958.2 302.4 L959.1 300.1 L960.0 297.7 L960.9 295.4 L961.8 293.1 L962.7 290.7 L963.6 288.4 L964.6 286.1 L965.5 283.8 L966.5 281.5 L967.4 279.2 L968.4 276.8 L969.4 274.5 L970.3 272.2 L971.3 269.9 L972.3 267.6 L973.3 265.3 L974.3 263.1 L975.3 260.8 L976.3 258.5 L977.3 256.2 L978.4 253.9 L979.4 251.6 L980.4 249.3 L981.5 247.1 L982.5 244.8 L983.6 242.5 L984.6 240.3 L985.7 238.0 L986.8 235.8 L987.9 233.5 L988.9 231.2 L990.0 229.0 L991.2 226.8 L992.3 224.5 L993.4 222.3 L994.5 220.1 L995.7 217.8 L996.9 215.6 L998.0 213.4 L999.2 211.2 L1000.4 209.0 L1001.6 206.8 L1002.8 204.6 L1004.1 202.5 L1005.3 200.3 L1006.6 198.1 L1007.8 196.0 L1009.1 193.8 L1010.4 191.7 L1011.7 189.6 L1013.1 187.4 L1014.4 185.3 L1015.8 183.2 L1017.1 181.1 L1018.5 179.1 L1019.9 177.0 L1021.4 175.0 L1022.8 172.9 L1024.3 170.9 L1025.8 168.9 L1027.3 166.9 L1028.8 164.9 L1030.3 162.9 L1031.9 161.0 L1033.5 159.0 L1035.1 157.1 L1036.7 155.2 L1038.3 153.3 L1040.0 151.4 L1041.7 149.6 L1043.3 147.7 L1045.1 145.9 L1046.8 144.1 L1048.6 142.3 L1050.4 140.6 L1052.3 139.0 L1054.3 137.5 L1056.3 136.0 L1058.4 134.7 L1060.6 133.5 L1062.9 132.4 L1065.2 131.6 L1067.6 130.9 L1070.1 130.4 L1072.6 130.1 L1075.1 130.0 L1077.6 130.2 L1080.0 130.6 L1082.4 131.3 L1084.8 132.2 L1087.0 133.3 L1089.2 134.6 L1091.2 136.1 L1093.1 137.7 L1094.9 139.4 L1096.6 141.3 L1098.2 143.2 L1099.7 145.2 L1101.1 147.3 L1102.4 149.4 L1103.7 151.5 L1105.0 153.7 L1106.2 155.9 L1107.4 158.1 L1108.5 160.3 L1109.7 162.5 L1110.8 164.7 L1112.0 167.0 L1113.1 169.2 L1114.2 171.5 L1115.2 173.7 L1116.3 176.0 L1117.3 178.3 L1118.3 180.6 L1119.3 182.8 L1120.3 185.1 L1121.3 187.5 L1122.2 189.8 L1123.2 192.1 L1124.1 194.4 L1125.0 196.7 L1125.9 199.1 L1126.8 201.4 L1127.7 203.7 L1128.6 206.1 L1129.5 208.4 L1130.4 210.8 L1131.2 213.1 L1132.1 215.4 L1133.0 217.8 L1133.8 220.1 L1134.7 222.5 L1135.5 224.9 L1136.3 227.2 L1137.2 229.6 L1138.0 231.9 L1138.8 234.3 L1139.7 236.7 L1140.5 239.0 L1141.3 241.4 L1142.1 243.7 L1142.9 246.1 L1143.7 248.5 L1144.5 250.9 L1145.3 253.2 L1146.1 255.6 L1146.9 258.0 L1147.7 260.3 L1148.4 262.7 L1149.2 265.1 L1150.0 267.5 L1150.8 269.9 L1151.5 272.2 L1152.3 274.6 L1153.0 277.0 L1153.8 279.4 L1154.5 281.8 L1155.2 284.2 L1156.0 286.6 L1156.7 289.0 L1157.4 291.4 L1158.1 293.8 L1158.8 296.2 L1159.5 298.6 L1160.2 301.0 L1160.9 303.4 L1161.5 305.8 L1162.2 308.2 L1162.9 310.6 L1163.5 313.0 L1164.2 315.4 L1164.8 317.9 L1165.5 320.3 L1166.1 322.7 L1166.7 325.1 L1167.4 327.5 L1168.0 330.0 L1168.6 332.4 L1169.2 334.8 L1169.8 337.2 L1170.4 339.7 L1171.0 342.1 L1171.6 344.5 L1172.2 347.0 L1172.8 349.4 L1173.4 351.8 L1174.0 354.2 L1174.6 356.7 L1175.2 359.1 L1175.8 361.5 L1176.4 364.0 L1177.0 366.4 L1177.6 368.8 L1178.2 371.2 L1178.8 373.7 L1179.4 376.1 L1180.0 378.5 L1180.6 380.9 L1181.3 383.4 L1181.9 385.8 L1182.5 388.2 L1183.2 390.6 L1183.8 393.0 L1184.5 395.5 L1185.1 397.9 L1185.8 400.3 L1186.5 402.7 L1187.1 405.1 L1187.8 407.5 L1188.5 409.9 L1189.2 412.3 L1189.9 414.7 L1190.6 417.1 L1191.3 419.5 L1192.0 421.9 L1192.7 424.3 L1193.5 426.7 L1194.2 429.1 L1194.9 431.5 L1195.6 433.9 L1196.3 436.3 L1197.1 438.7 L1197.8 441.1 L1198.5 443.5 L1199.2 445.9 L1199.9 448.3 L1200.7 450.7 L1201.4 453.1 L1202.1 455.5 L1202.8 457.9 L1203.5 460.3 L1204.2 462.7 L1204.9 465.1 L1205.6 467.5 L1206.3 469.9 L1207.0 472.3 L1207.7 474.7 L1208.3 477.1 L1209.0 479.5 L1209.7 481.9 L1210.4 484.3 L1211.0 486.7 L1211.7 489.1 L1212.3 491.5 L1213.0 494.0 L1213.6 496.4 L1214.3 498.8 L1214.9 501.2 L1215.6 503.6 L1216.2 506.1 L1216.8 508.5 L1217.4 510.9 L1218.1 513.3 L1218.7 515.7 L1219.3 518.2 L1219.9 520.6 L1220.4 523.0 L1221.0 525.5 L1221.6 527.9 L1222.1 530.3 L1222.7 532.8 L1223.2 535.2 L1223.8 537.7 L1224.3 540.1 L1224.8 542.6 L1225.3 545.0 L1225.8 547.5 L1226.3 549.9 L1226.8 552.4 L1227.3 554.8 L1227.8 557.3 L1228.2 559.7 L1228.7 562.2 L1229.2 564.7 L1229.6 567.1 L1230.1 569.6 L1230.5 572.0 L1231.0 574.5 L1231.5 576.9 L1231.9 579.4 L1232.4 581.9 L1232.8 584.3 L1233.2 586.8 L1233.7 589.3 L1234.1 591.7 L1234.6 594.2 L1235.0 596.6 L1235.5 599.1 L1235.9 601.6 L1236.3 604.0 L1236.8 606.5 L1237.2 608.9 L1237.7 611.4 L1238.1 613.9 L1238.5 616.3 L1239.0 618.8 L1239.4 621.3 L1239.8 623.7 L1240.3 626.2 L1240.7 628.7 L1241.1 631.1 L1241.6 633.6 L1242.0 636.0 L1242.4 638.5 L1242.9 641.0 L1243.3 643.4 L1243.7 645.9 L1244.2 648.4 L1244.6 650.8 L1245.0 653.3 L1245.5 655.8 L1245.9 658.2 L1246.3 660.7 L1246.8 663.1 L1247.2 665.6 L1247.6 668.1 L1248.0 670.5 L1248.5 673.0 L1248.9 675.5 L1249.3 677.9 L1249.8 680.4 L1250.2 682.9 L1250.6 685.3 L1251.1 687.8 L1251.5 690.2 L1251.9 692.7 L1252.4 695.2 L1252.8 697.6 L1253.2 700.1 L1253.6 702.6 L1254.1 705.0 L1254.5 707.5 L1254.9 710.0 L1255.4 712.4 L1255.8 714.9 L1256.2 717.4 L1256.7 719.8 L1257.1 722.3 L1257.5 724.7 L1258.0 727.2 L1258.4 729.7 L1258.8 732.1 L1259.3 734.6 L1259.7 737.1 L1260.1 739.5 L1260.5 742.0 L1261.0 744.5 L1261.4 746.9 L1261.8 749.4 L1262.3 751.8 L1262.7 754.3 L1263.1 756.8 L1263.6 759.2 L1264.0 761.7 L1264.4 764.2 L1264.8 766.6 L1265.3 769.1 L1265.7 771.6 L1266.1 774.0 L1266.6 776.5 L1267.0 779.0 L1267.4 781.4 L1267.9 783.9 L1268.3 786.3 L1268.7 788.8 L1269.2 791.3 L1269.6 793.7 L1270.1 796.2 L1270.5 798.7 L1270.9 801.1 L1271.4 803.6 L1271.8 806.0 L1272.3 808.5 L1272.7 811.0 L1273.2 813.4 L1273.6 815.9 L1274.1 818.3 L1274.5 820.8 L1275.0 823.3 L1275.4 825.7 L1275.9 828.2 L1276.4 830.6 L1276.8 833.1 L1277.3 835.6 L1277.8 838.0 L1278.3 840.5 L1278.7 842.9 L1279.2 845.4 L1279.7 847.8 L1280.2 850.3 L1280.7 852.7 L1281.2 855.2 L1281.7 857.6 L1282.2 860.1 L1282.7 862.5 L1283.2 865.0 L1283.7 867.4 L1284.2 869.9 L1284.7 872.3 L1285.2 874.8 L1285.7 877.2 L1286.2 879.7 L1286.7 882.1 L1287.2 884.6 L1287.7 887.0 L1288.2 889.5 L1288.8 891.9 L1289.3 894.4 L1289.8 896.8 L1290.3 899.3 L1290.9 901.7 L1291.4 904.2 L1292.0 906.6 L1292.5 909.0 L1293.0 911.5 L1293.6 913.9 L1294.2 916.4 L1294.7 918.8 L1295.3 921.2 L1295.9 923.7 L1296.4 926.1 L1297.0 928.5 L1297.6 931.0 L1298.2 933.4 L1298.8 935.8 L1299.4 938.2 L1300.0 940.7 L1300.7 943.1 L1301.3 945.5 L1301.9 947.9 L1302.6 950.3 L1303.2 952.8 L1303.9 955.2 L1304.5 957.6 L1305.2 960.0 L1305.9 962.4 L1306.6 964.8 L1307.3 967.2 L1308.0 969.6 L1308.8 972.0 L1309.5 974.4 L1310.3 976.8 L1311.0 979.1 L1311.8 981.5 L1312.6 983.9 L1313.4 986.3 L1314.2 988.6 L1315.0 991.0 L1315.9 993.3 L1316.7 995.7 L1317.6 998.0 L1318.5 1000.4 L1319.4 1002.7 L1320.4 1005.0 L1321.4 1007.3 L1322.4 1009.6 L1323.4 1011.9 L1324.4 1014.2 L1325.5 1016.4 L1326.6 1018.7 L1327.7 1020.9 L1328.9 1023.1 L1330.1 1025.3 L1331.3 1027.5 L1332.5 1029.7 L1333.8 1031.8 L1335.2 1033.9 L1336.5 1036.0 L1337.9 1038.1 L1339.4 1040.1 L1340.8 1042.2 L1342.3 1044.2 L1343.9 1046.1 L1345.5 1048.1 L1347.1 1050.0 L1348.7 1051.9 L1350.4 1053.7 L1352.2 1055.5 L1353.9 1057.3 L1355.7 1059.0 L1357.6 1060.7 L1359.5 1062.3 L1361.4 1063.9 L1363.4 1065.5 L1365.4 1067.0 L1367.4 1068.4 L1369.5 1069.8 L1371.6 1071.1 L1373.8 1072.4 L1376.0 1073.6 L1378.2 1074.8 L1380.4 1075.9 L1382.7 1076.9 L1385.0 1077.9 L1387.3 1078.9 L1389.6 1079.8 L1392.0 1080.6 L1394.3 1081.4 L1396.7 1082.2 L1399.1 1082.9 L1401.5 1083.6 L1403.9 1084.2 L1406.4 1084.8 L1408.8 1085.4 L1411.3 1086.0 L1413.7 1086.5 L1416.2 1087.0 L1418.6 1087.4 L1421.1 1087.8 L1423.5 1088.2 L1426.0 1088.6 L1428.5 1089.0 L1431.0 1089.3 L1433.5 1089.6 L1435.9 1089.9 L1438.4 1090.2 L1440.9 1090.5 L1443.4 1090.7 L1445.9 1090.9 L1448.4 1091.2 L1450.9 1091.4 L1453.4 1091.6 L1455.9 1091.7 L1458.4 1091.9 L1460.9 1092.1 L1463.4 1092.2 L1465.9 1092.4 L1468.3 1092.5 L1470.8 1092.7 L1473.3 1092.8 L1475.8 1092.9 L1478.3 1093.0 L1480.8 1093.1 L1483.3 1093.3 L1485.8 1093.4 L1488.3 1093.5 L1490.8 1093.6 L1493.3 1093.7 L1495.8 1093.7 L1498.3 1093.8 L1500.8 1093.9 L1503.3 1094.0 L1505.8 1094.1 L1508.3 1094.2 L1510.8 1094.2 L1513.3 1094.3 L1515.8 1094.4 L1518.3 1094.4 L1520.8 1094.5 L1523.3 1094.6 L1525.8 1094.6 L1528.3 1094.7 L1530.8 1094.8 L1533.3 1094.8 L1535.8 1094.9 L1538.3 1095.0 L1540.8 1095.0 L1543.3 1095.1 L1545.8 1095.1 L1548.3 1095.2 L1550.8 1095.3 L1553.3 1095.3 L1555.8 1095.4 L1558.3 1095.5 L1560.8 1095.5 L1563.3 1095.6 L1565.8 1095.6 L1568.3 1095.7 L1570.8 1095.8 L1573.3 1095.8 L1575.8 1095.9 L1578.3 1096.0 L1580.8 1096.0 L1583.3 1096.1 L1585.9 1096.2 L1588.4 1096.2 L1590.9 1096.3 L1593.4 1096.4 L1595.9 1096.4 L1598.4 1096.5 L1600.9 1096.6 L1603.4 1096.6 L1605.9 1096.7 L1608.4 1096.8 L1610.9 1096.8 L1613.4 1096.9 L1615.9 1097.0 L1618.4 1097.0 L1620.9 1097.1 L1623.4 1097.2 L1625.9 1097.2 L1628.4 1097.3 L1630.9 1097.4 L1633.4 1097.4 L1635.9 1097.5 L1638.4 1097.5 L1640.9 1097.6 L1643.4 1097.7 L1645.9 1097.7 L1648.4 1097.8 L1650.9 1097.9 L1653.4 1097.9 L1655.9 1098.0 L1658.4 1098.0 L1660.9 1098.1 L1663.4 1098.2 L1665.9 1098.2 L1668.4 1098.3 L1670.9 1098.3 L1673.4 1098.4 L1675.9 1098.4 L1678.4 1098.5 L1680.9 1098.6 L1683.4 1098.6 L1685.9 1098.7 L1688.4 1098.7 L1690.9 1098.8 L1693.4 1098.8 L1695.9 1098.9 L1698.4 1098.9 L1700.9 1099.0 L1703.4 1099.0 L1705.9 1099.1 L1708.4 1099.1 L1710.9 1099.2 L1713.4 1099.2 L1715.9 1099.3 L1718.4 1099.3 L1720.9 1099.4 L1723.4 1099.5 L1725.9 1099.5 L1728.4 1099.6 L1730.9 1099.6 L1733.4 1099.7 L1735.9 1099.7 L1738.4 1099.8 L1740.9 1099.8 L1743.4 1099.9 L1745.9 1099.9 L1748.4 1100.0 L1750.9 1100.0 L1753.4 1100.1 L1755.9 1100.1 L1758.4 1100.2 L1760.9 1100.2 L1763.4 1100.3 L1765.9 1100.3 L1768.4 1100.4 L1770.9 1100.4 L1773.4 1100.5 L1775.9 1100.5 L1778.4 1100.6 L1780.9 1100.6 L1783.4 1100.7 L1785.9 1100.7 L1788.4 1100.8 L1790.9 1100.8 L1793.4 1100.9 L1795.9 1101.0 L1798.4 1101.0 L1800.9 1101.1 L1803.4 1101.1 L1805.9 1101.2 L1808.4 1101.2 L1810.9 1101.3 L1813.4 1101.4 L1815.9 1101.4 L1818.4 1101.5 L1820.9 1101.5 L1823.4 1101.6 L1825.9 1101.7 L1828.4 1101.7 L1830.9 1101.8 L1833.4 1101.8 L1835.9 1101.9 L1838.4 1102.0 L1840.9 1102.0" stroke="#0000ff"/>
</g>
<line x1="1324.8" y1="87.5" x2="1429.0" y2="87.5" stroke="#000000" stroke-width="7" shape-rendering="crispEdges"/>
<text transform="translate(1453.5 102.7) scale(1.000 1.000)" text-anchor="start" font-size="46.0">n-hexane</text>
<line x1="1324.8" y1="146.5" x2="1429.0" y2="146.5" stroke="#ff0000" stroke-width="7" shape-rendering="crispEdges"/>
<text transform="translate(1453.5 161.7) scale(1.000 1.000)" text-anchor="start" font-size="46.0">1-chloro-n-butane</text>
<line x1="1324.8" y1="205.5" x2="1429.0" y2="205.5" stroke="#00ff00" stroke-width="7" shape-rendering="crispEdges"/>
<text transform="translate(1453.5 220.7) scale(1.000 1.000)" text-anchor="start" font-size="46.0">acetonitrile</text>
<line x1="1324.8" y1="264.5" x2="1429.0" y2="264.5" stroke="#ff00ff" stroke-width="7" shape-rendering="crispEdges"/>
<text transform="translate(1453.5 279.7) scale(1.000 1.000)" text-anchor="start" font-size="46.0">methanol</text>
<line x1="1324.8" y1="323.7" x2="1429.0" y2="323.7" stroke="#0000ff" stroke-width="7" shape-rendering="crispEdges"/>
<text transform="translate(1453.5 338.9) scale(1.000 1.000)" text-anchor="start" font-size="46.0">water</text>
<text transform="translate(695.1 243.0) scale(1.010 1.000)" text-anchor="middle" font-size="59.0" font-weight="bold">A</text>
<text transform="translate(68.5 622.7) rotate(-90) scale(1.000 1.000)" text-anchor="middle" font-size="56.0">Normalized absorbance</text>
<text transform="translate(948.6 1386.8) scale(1.000 1)" font-size="55.2"><tspan font-family="'Liberation Serif', 'DejaVu Serif', serif">λ</tspan><tspan x="29.5"> [nm]</tspan></text>
</g>
<g>
<g stroke="#000" stroke-width="7.0" fill="none" shape-rendering="crispEdges">
<rect x="205.0" y="1461.4" width="1603.5" height="1183.0"/>
<line x1="205.0" y1="2545.8" x2="222.0" y2="2545.8"/>
<line x1="205.0" y1="2348.6" x2="222.0" y2="2348.6"/>
<line x1="205.0" y1="2151.5" x2="222.0" y2="2151.5"/>
<line x1="205.0" y1="1954.3" x2="222.0" y2="1954.3"/>
<line x1="205.0" y1="1757.2" x2="222.0" y2="1757.2"/>
<line x1="205.0" y1="1560.0" x2="222.0" y2="1560.0"/>
<line x1="404.3" y1="2644.4" x2="404.3" y2="2627.4"/>
<line x1="604.8" y1="2644.4" x2="604.8" y2="2627.4"/>
<line x1="805.2" y1="2644.4" x2="805.2" y2="2627.4"/>
<line x1="1005.7" y1="2644.4" x2="1005.7" y2="2627.4"/>
<line x1="1206.2" y1="2644.4" x2="1206.2" y2="2627.4"/>
<line x1="1406.7" y1="2644.4" x2="1406.7" y2="2627.4"/>
<line x1="1607.2" y1="2644.4" x2="1607.2" y2="2627.4"/>
</g>
<text transform="translate(182.7 2561.1) scale(0.980 1.045)" text-anchor="end" font-size="46.0">0.0</text>
<text transform="translate(182.7 2363.9) scale(0.980 1.045)" text-anchor="end" font-size="46.0">0.2</text>
<text transform="translate(182.7 2166.8) scale(0.980 1.045)" text-anchor="end" font-size="46.0">0.4</text>
<text transform="translate(182.7 1969.6) scale(0.980 1.045)" text-anchor="end" font-size="46.0">0.6</text>
<text transform="translate(182.7 1772.5) scale(0.980 1.045)" text-anchor="end" font-size="46.0">0.8</text>
<text transform="translate(182.7 1575.3) scale(0.980 1.045)" text-anchor="end" font-size="46.0">1.0</text>
<text transform="translate(203.6 2709.7) scale(0.980 1.045)" text-anchor="middle" font-size="46.0">220</text>
<text transform="translate(404.3 2709.7) scale(0.980 1.045)" text-anchor="middle" font-size="46.0">240</text>
<text transform="translate(605.0 2709.7) scale(0.980 1.045)" text-anchor="middle" font-size="46.0">260</text>
<text transform="translate(805.6 2709.7) scale(0.980 1.045)" text-anchor="middle" font-size="46.0">280</text>
<text transform="translate(1006.3 2709.7) scale(0.980 1.045)" text-anchor="middle" font-size="46.0">300</text>
<text transform="translate(1207.0 2709.7) scale(0.980 1.045)" text-anchor="middle" font-size="46.0">320</text>
<text transform="translate(1407.7 2709.7) scale(0.980 1.045)" text-anchor="middle" font-size="46.0">340</text>
<text transform="translate(1608.4 2709.7) scale(0.980 1.045)" text-anchor="middle" font-size="46.0">360</text>
<text transform="translate(1809.0 2709.7) scale(0.980 1.045)" text-anchor="middle" font-size="46.0">380</text>
<clipPath id="clipB"><rect x="203.0" y="1461.4" width="1605.5" height="1183.0"/></clipPath>
<g clip-path="url(#clipB)" fill="none" stroke-width="7.5" stroke-linejoin="round" stroke-linecap="butt">
<path d="M413.3 1463.0 L413.7 1465.5 L414.1 1468.0 L414.5 1470.4 L414.9 1472.9 L415.3 1475.4 L415.7 1477.8 L416.2 1480.3 L416.6 1482.8 L417.1 1485.2 L417.5 1487.7 L418.0 1490.1 L418.5 1492.6 L418.9 1495.1 L419.4 1497.5 L419.9 1500.0 L420.4 1502.4 L420.9 1504.9 L421.3 1507.3 L421.9 1509.8 L422.4 1512.2 L422.9 1514.7 L423.4 1517.1 L424.0 1519.5 L424.6 1522.0 L425.2 1524.4 L425.8 1526.8 L426.5 1529.2 L427.2 1531.7 L427.8 1534.1 L428.5 1536.5 L429.2 1538.9 L430.0 1541.3 L430.7 1543.7 L431.4 1546.1 L432.1 1548.5 L432.8 1550.8 L433.5 1553.2 L434.2 1555.6 L434.9 1558.0 L435.6 1560.4 L436.3 1562.9 L437.0 1565.3 L437.7 1567.7 L438.4 1570.1 L439.0 1572.5 L439.7 1574.9 L440.3 1577.3 L441.0 1579.7 L441.6 1582.2 L442.2 1584.6 L442.8 1587.0 L443.4 1589.4 L444.0 1591.9 L444.6 1594.3 L445.2 1596.7 L445.8 1599.2 L446.3 1601.6 L446.9 1604.0 L447.4 1606.5 L447.9 1608.9 L448.4 1611.4 L448.9 1613.8 L449.4 1616.3 L449.9 1618.7 L450.3 1621.2 L450.8 1623.7 L451.2 1626.1 L451.7 1628.6 L452.1 1631.1 L452.5 1633.5 L452.9 1636.0 L453.3 1638.5 L453.7 1640.9 L454.1 1643.4 L454.4 1645.9 L454.8 1648.3 L455.2 1650.8 L455.5 1653.3 L455.9 1655.8 L456.2 1658.3 L456.6 1660.7 L456.9 1663.2 L457.3 1665.7 L457.6 1668.2 L457.9 1670.6 L458.3 1673.1 L458.6 1675.6 L458.9 1678.1 L459.3 1680.6 L459.6 1683.0 L459.9 1685.5 L460.2 1688.0 L460.6 1690.5 L460.9 1693.0 L461.2 1695.4 L461.5 1697.9 L461.8 1700.4 L462.0 1702.9 L462.3 1705.4 L462.6 1707.9 L462.9 1710.4 L463.2 1712.8 L463.5 1715.3 L463.7 1717.8 L464.0 1720.3 L464.3 1722.8 L464.5 1725.3 L464.8 1727.8 L465.1 1730.2 L465.3 1732.7 L465.6 1735.2 L465.9 1737.7 L466.1 1740.2 L466.4 1742.7 L466.7 1745.2 L466.9 1747.7 L467.2 1750.1 L467.4 1752.6 L467.7 1755.1 L467.9 1757.6 L468.2 1760.1 L468.4 1762.6 L468.7 1765.1 L468.9 1767.6 L469.2 1770.1 L469.5 1772.5 L469.8 1775.0 L470.1 1777.5 L470.4 1780.0 L470.7 1782.5 L471.0 1785.0 L471.3 1787.4 L471.6 1789.9 L471.9 1792.4 L472.2 1794.9 L472.5 1797.4 L472.8 1799.9 L473.1 1802.3 L473.4 1804.8 L473.7 1807.3 L474.0 1809.8 L474.3 1812.3 L474.6 1814.8 L474.9 1817.2 L475.2 1819.7 L475.5 1822.2 L475.8 1824.7 L476.1 1827.2 L476.3 1829.7 L476.6 1832.1 L476.9 1834.6 L477.2 1837.1 L477.5 1839.6 L477.8 1842.1 L478.1 1844.6 L478.3 1847.1 L478.6 1849.5 L478.9 1852.0 L479.2 1854.5 L479.4 1857.0 L479.7 1859.5 L480.0 1862.0 L480.2 1864.5 L480.5 1866.9 L480.8 1869.4 L481.0 1871.9 L481.3 1874.4 L481.6 1876.9 L481.8 1879.4 L482.1 1881.9 L482.4 1884.4 L482.6 1886.8 L482.9 1889.3 L483.1 1891.8 L483.4 1894.3 L483.7 1896.8 L483.9 1899.3 L484.2 1901.8 L484.5 1904.3 L484.7 1906.7 L485.0 1909.2 L485.3 1911.7 L485.5 1914.2 L485.8 1916.7 L486.1 1919.2 L486.3 1921.7 L486.6 1924.1 L486.9 1926.6 L487.2 1929.1 L487.4 1931.6 L487.7 1934.1 L487.9 1936.6 L488.2 1939.1 L488.5 1941.6 L488.7 1944.0 L488.9 1946.5 L489.2 1949.0 L489.4 1951.5 L489.7 1954.0 L489.9 1956.5 L490.1 1959.0 L490.4 1961.5 L490.6 1964.0 L490.8 1966.5 L491.0 1969.0 L491.2 1971.4 L491.5 1973.9 L491.7 1976.4 L491.9 1978.9 L492.1 1981.4 L492.3 1983.9 L492.5 1986.4 L492.8 1988.9 L493.0 1991.4 L493.2 1993.9 L493.4 1996.4 L493.6 1998.9 L493.8 2001.3 L494.1 2003.8 L494.3 2006.3 L494.5 2008.8 L494.7 2011.3 L494.9 2013.8 L495.2 2016.3 L495.4 2018.8 L495.6 2021.3 L495.8 2023.8 L496.0 2026.3 L496.2 2028.8 L496.4 2031.3 L496.6 2033.7 L496.8 2036.2 L497.0 2038.7 L497.2 2041.2 L497.4 2043.7 L497.6 2046.2 L497.8 2048.7 L497.9 2051.2 L498.1 2053.7 L498.2 2056.2 L498.4 2058.7 L498.5 2061.2 L498.6 2063.7 L498.7 2066.2 L498.8 2068.7 L498.8 2071.2 L498.9 2073.7 L498.9 2076.2 L499.0 2078.7 L499.1 2081.2 L499.2 2083.7 L499.4 2086.2 L499.6 2088.7 L499.8 2091.2 L500.0 2093.7 L500.2 2096.2 L500.5 2098.6 L500.8 2101.1 L501.1 2103.6 L501.3 2106.1 L501.6 2108.6 L501.9 2111.1 L502.2 2113.6 L502.5 2116.0 L502.8 2118.5 L503.1 2121.0 L503.4 2123.5 L503.7 2126.0 L504.0 2128.5 L504.3 2130.9 L504.6 2133.4 L504.9 2135.9 L505.2 2138.4 L505.6 2140.9 L505.9 2143.4 L506.1 2145.8 L506.4 2148.3 L506.7 2150.8 L507.0 2153.3 L507.3 2155.8 L507.6 2158.3 L507.9 2160.7 L508.2 2163.2 L508.5 2165.7 L508.8 2168.2 L509.1 2170.7 L509.4 2173.2 L509.7 2175.6 L510.0 2178.1 L510.3 2180.6 L510.7 2183.1 L511.0 2185.6 L511.4 2188.0 L511.8 2190.5 L512.2 2193.0 L512.6 2195.4 L513.1 2197.9 L513.5 2200.4 L514.0 2202.8 L514.5 2205.3 L515.0 2207.7 L515.5 2210.2 L516.1 2212.6 L516.6 2215.0 L517.2 2217.5 L517.8 2219.9 L518.3 2222.3 L518.9 2224.8 L519.5 2227.2 L520.1 2229.6 L520.7 2232.1 L521.3 2234.5 L522.0 2236.9 L522.6 2239.3 L523.2 2241.7 L523.9 2244.2 L524.5 2246.6 L525.2 2249.0 L525.9 2251.4 L526.7 2253.8 L527.4 2256.2 L528.2 2258.5 L529.1 2260.9 L530.0 2263.2 L530.9 2265.5 L531.9 2267.8 L532.9 2270.1 L534.0 2272.4 L535.1 2274.6 L536.3 2276.8 L537.5 2279.0 L538.8 2281.1 L540.1 2283.3 L541.4 2285.4 L542.8 2287.5 L544.3 2289.5 L545.8 2291.5 L547.4 2293.4 L549.1 2295.2 L550.9 2297.0 L552.8 2298.6 L554.9 2300.0 L557.1 2301.2 L559.4 2302.0 L561.9 2302.6 L564.4 2302.8 L566.9 2302.8 L569.3 2302.5 L571.8 2301.9 L574.1 2301.1 L576.3 2299.9 L578.4 2298.6 L580.5 2297.1 L582.6 2295.7 L584.8 2294.5 L587.1 2293.6 L589.5 2292.9 L592.0 2292.6 L594.5 2292.6 L596.9 2293.0 L599.3 2293.7 L601.7 2294.6 L603.9 2295.7 L606.2 2296.8 L608.4 2298.0 L610.6 2299.2 L612.7 2300.4 L614.9 2301.6 L617.2 2302.8 L619.5 2303.8 L621.9 2304.4 L624.4 2304.3 L626.6 2303.3 L628.6 2301.7 L630.3 2299.9 L632.0 2298.0 L633.7 2296.3 L635.7 2294.7 L637.8 2293.3 L640.0 2292.1 L642.3 2291.2 L644.6 2290.3 L647.0 2289.6 L649.4 2288.9 L651.8 2288.2 L654.2 2287.5 L656.6 2286.7 L659.0 2286.0 L661.4 2285.2 L663.7 2284.4 L666.1 2283.5 L668.4 2282.6 L670.7 2281.5 L672.8 2280.3 L674.9 2278.8 L676.8 2277.2 L678.5 2275.4 L680.2 2273.6 L681.8 2271.6 L683.4 2269.7 L685.0 2267.8 L686.7 2266.0 L688.4 2264.1 L690.1 2262.3 L691.7 2260.4 L693.3 2258.5 L694.9 2256.5 L696.3 2254.4 L697.5 2252.3 L698.7 2250.1 L699.8 2247.8 L700.9 2245.6 L702.1 2243.4 L703.3 2241.2 L704.7 2239.1 L706.1 2237.1 L707.7 2235.1 L709.4 2233.3 L711.3 2231.6 L713.2 2230.0 L715.3 2228.6 L717.4 2227.3 L719.5 2226.0 L721.7 2224.7 L723.7 2223.3 L725.6 2221.6 L727.2 2219.7 L728.7 2217.7 L730.1 2215.6 L731.5 2213.5 L732.8 2211.5 L734.3 2209.4 L735.8 2207.4 L737.4 2205.5 L739.0 2203.6 L740.6 2201.7 L742.3 2199.8 L744.0 2198.0 L745.7 2196.1 L747.4 2194.3 L749.0 2192.4 L750.7 2190.5 L752.3 2188.7 L754.1 2186.9 L756.0 2185.2 L757.9 2183.7 L760.0 2182.3 L762.1 2181.0 L764.2 2179.6 L766.2 2178.1 L768.2 2176.5 L770.0 2174.9 L771.9 2173.1 L773.6 2171.4 L775.4 2169.6 L777.0 2167.7 L778.7 2165.8 L780.3 2163.9 L781.9 2162.0 L783.5 2160.0 L785.0 2158.1 L786.5 2156.1 L788.0 2154.1 L789.4 2152.0 L790.8 2150.0 L792.2 2147.9 L793.5 2145.7 L794.8 2143.6 L796.0 2141.4 L797.2 2139.2 L798.4 2137.0 L799.6 2134.8 L800.9 2132.7 L802.3 2130.6 L803.7 2128.5 L805.3 2126.6 L806.8 2124.6 L808.5 2122.7 L810.1 2120.8 L811.8 2119.0 L813.4 2117.1 L815.0 2115.1 L816.4 2113.0 L817.6 2110.9 L818.8 2108.6 L819.8 2106.4 L820.7 2104.0 L821.6 2101.7 L822.4 2099.3 L823.3 2097.0 L824.2 2094.7 L825.2 2092.4 L826.2 2090.1 L827.2 2087.8 L828.3 2085.5 L829.4 2083.3 L830.6 2081.1 L831.8 2078.9 L833.0 2076.7 L834.2 2074.5 L835.3 2072.2 L836.3 2070.0 L837.3 2067.7 L838.2 2065.3 L839.1 2063.0 L840.0 2060.7 L840.8 2058.3 L841.7 2056.0 L842.7 2053.7 L843.6 2051.4 L844.7 2049.1 L845.9 2046.9 L847.1 2044.7 L848.6 2042.7 L850.1 2040.7 L851.7 2038.8 L853.3 2036.8 L854.9 2034.9 L856.3 2032.9 L857.7 2030.8 L858.9 2028.6 L860.1 2026.4 L861.2 2024.1 L862.3 2021.9 L863.4 2019.7 L864.6 2017.5 L865.9 2015.3 L867.2 2013.2 L868.6 2011.1 L870.1 2009.1 L871.5 2007.0 L872.9 2005.0 L874.3 2002.9 L875.7 2000.8 L877.0 1998.7 L878.4 1996.6 L879.8 1994.5 L881.2 1992.5 L882.7 1990.4 L884.2 1988.5 L885.8 1986.5 L887.5 1984.7 L889.3 1982.9 L891.1 1981.2 L892.9 1979.5 L894.6 1977.6 L896.2 1975.7 L897.6 1973.7 L898.9 1971.5 L900.1 1969.4 L901.3 1967.1 L902.3 1964.8 L903.3 1962.6 L904.3 1960.3 L905.3 1958.0 L906.2 1955.6 L907.2 1953.3 L908.2 1951.0 L909.1 1948.7 L910.1 1946.4 L911.1 1944.1 L912.1 1941.8 L913.1 1939.5 L914.1 1937.2 L915.1 1935.0 L916.1 1932.7 L917.1 1930.4 L918.1 1928.1 L919.1 1925.8 L920.1 1923.5 L921.0 1921.1 L921.9 1918.8 L922.8 1916.5 L923.7 1914.2 L924.6 1911.8 L925.5 1909.5 L926.5 1907.2 L927.4 1904.9 L928.4 1902.5 L929.4 1900.2 L930.3 1898.0 L931.3 1895.7 L932.3 1893.3 L933.3 1891.0 L934.2 1888.7 L935.1 1886.4 L936.0 1884.1 L936.9 1881.7 L937.7 1879.4 L938.6 1877.0 L939.4 1874.6 L940.2 1872.3 L941.0 1869.9 L941.7 1867.5 L942.5 1865.1 L943.3 1862.8 L944.2 1860.4 L945.0 1858.1 L945.9 1855.7 L946.9 1853.4 L947.9 1851.1 L948.9 1848.8 L949.9 1846.6 L951.0 1844.3 L952.2 1842.1 L953.4 1839.9 L954.6 1837.7 L955.8 1835.5 L957.1 1833.4 L958.4 1831.3 L959.8 1829.1 L961.1 1827.0 L962.5 1824.9 L963.8 1822.8 L965.1 1820.7 L966.3 1818.5 L967.5 1816.3 L968.7 1814.1 L969.7 1811.8 L970.7 1809.5 L971.7 1807.2 L972.6 1804.9 L973.5 1802.6 L974.4 1800.2 L975.3 1797.9 L976.1 1795.5 L977.0 1793.2 L977.8 1790.8 L978.7 1788.5 L979.5 1786.1 L980.4 1783.8 L981.3 1781.5 L982.3 1779.1 L983.3 1776.8 L984.2 1774.5 L985.1 1772.2 L986.0 1769.8 L986.7 1767.5 L987.5 1765.1 L988.3 1762.7 L989.2 1760.4 L990.3 1758.1 L991.4 1755.9 L992.5 1753.6 L993.6 1751.4 L994.6 1749.1 L995.5 1746.8 L996.3 1744.4 L997.0 1742.0 L997.7 1739.6 L998.6 1737.2 L999.5 1734.9 L1000.4 1732.6 L1001.5 1730.3 L1002.6 1728.1 L1003.6 1725.8 L1004.7 1723.5 L1005.7 1721.3 L1006.7 1719.0 L1007.7 1716.7 L1008.7 1714.4 L1009.7 1712.1 L1010.8 1709.8 L1011.9 1707.6 L1013.0 1705.3 L1014.1 1703.1 L1015.2 1700.9 L1016.4 1698.6 L1017.5 1696.4 L1018.6 1694.2 L1019.7 1691.9 L1020.8 1689.7 L1021.9 1687.4 L1023.0 1685.2 L1024.1 1682.9 L1025.2 1680.7 L1026.3 1678.4 L1027.4 1676.2 L1028.5 1673.9 L1029.6 1671.7 L1030.7 1669.5 L1031.8 1667.2 L1032.9 1665.0 L1034.1 1662.7 L1035.2 1660.5 L1036.3 1658.3 L1037.4 1656.0 L1038.6 1653.8 L1039.7 1651.6 L1040.9 1649.4 L1042.1 1647.2 L1043.3 1645.0 L1044.6 1642.9 L1045.9 1640.7 L1047.2 1638.6 L1048.5 1636.5 L1049.9 1634.4 L1051.3 1632.3 L1052.6 1630.2 L1054.0 1628.1 L1055.4 1626.0 L1056.7 1623.9 L1058.0 1621.7 L1059.2 1619.6 L1060.5 1617.4 L1061.6 1615.2 L1062.7 1612.9 L1063.7 1610.6 L1064.7 1608.3 L1065.6 1606.0 L1066.5 1603.6 L1067.3 1601.3 L1068.1 1598.9 L1069.0 1596.6 L1069.8 1594.2 L1070.8 1591.9 L1071.7 1589.6 L1072.8 1587.3 L1073.9 1585.1 L1075.2 1582.9 L1076.6 1580.9 L1078.1 1578.8 L1079.6 1576.9 L1081.2 1574.9 L1082.8 1573.0 L1084.3 1571.0 L1085.7 1569.0 L1087.2 1566.9 L1088.7 1564.9 L1090.2 1562.9 L1091.8 1561.0 L1093.5 1559.2 L1095.4 1557.6 L1097.6 1556.3 L1099.9 1555.5 L1102.4 1555.0 L1104.9 1554.8 L1107.4 1554.7 L1109.9 1554.8 L1112.4 1555.1 L1114.8 1555.7 L1117.1 1556.6 L1119.3 1557.8 L1121.4 1559.3 L1123.2 1560.9 L1125.0 1562.7 L1126.6 1564.6 L1128.2 1566.5 L1129.8 1568.4 L1131.5 1570.2 L1133.4 1571.9 L1135.5 1573.3 L1137.7 1574.4 L1140.1 1575.3 L1142.5 1575.7 L1145.0 1575.9 L1147.5 1575.8 L1150.0 1575.4 L1152.4 1574.7 L1154.7 1573.9 L1157.0 1573.0 L1159.4 1572.1 L1161.8 1571.5 L1164.3 1571.2 L1166.8 1571.4 L1169.1 1572.3 L1171.3 1573.6 L1173.3 1575.0 L1175.3 1576.5 L1177.3 1578.0 L1179.3 1579.5 L1181.3 1581.0 L1183.4 1582.4 L1185.5 1583.7 L1187.7 1584.9 L1190.0 1586.0 L1192.3 1586.8 L1194.8 1587.2 L1197.3 1587.0 L1199.8 1586.6 L1202.2 1586.1 L1204.7 1585.8 L1207.2 1585.7 L1209.7 1586.1 L1212.0 1587.0 L1214.1 1588.3 L1216.0 1589.9 L1217.8 1591.7 L1219.4 1593.6 L1220.8 1595.7 L1222.1 1597.8 L1223.3 1600.0 L1224.4 1602.2 L1225.4 1604.5 L1226.4 1606.8 L1227.2 1609.2 L1228.0 1611.6 L1228.7 1614.0 L1229.4 1616.4 L1230.0 1618.8 L1230.6 1621.2 L1231.2 1623.7 L1231.8 1626.1 L1232.4 1628.5 L1233.0 1630.9 L1233.6 1633.4 L1234.3 1635.8 L1235.0 1638.2 L1235.7 1640.6 L1236.5 1643.0 L1237.3 1645.3 L1238.1 1647.7 L1239.0 1650.0 L1239.8 1652.4 L1240.6 1654.8 L1241.4 1657.1 L1242.1 1659.5 L1242.7 1662.0 L1243.3 1664.4 L1243.8 1666.8 L1244.3 1669.3 L1244.7 1671.8 L1245.2 1674.2 L1245.6 1676.7 L1246.0 1679.1 L1246.4 1681.6 L1246.8 1684.1 L1247.2 1686.6 L1247.6 1689.0 L1248.0 1691.5 L1248.4 1694.0 L1248.8 1696.4 L1249.2 1698.9 L1249.6 1701.4 L1250.0 1703.8 L1250.4 1706.3 L1250.8 1708.8 L1251.2 1711.2 L1251.7 1713.7 L1252.1 1716.2 L1252.5 1718.6 L1252.9 1721.1 L1253.3 1723.6 L1253.7 1726.0 L1254.1 1728.5 L1254.5 1731.0 L1254.9 1733.4 L1255.4 1735.9 L1255.8 1738.4 L1256.2 1740.8 L1256.6 1743.3 L1257.0 1745.8 L1257.4 1748.3 L1257.8 1750.7 L1258.2 1753.2 L1258.6 1755.7 L1259.0 1758.1 L1259.4 1760.6 L1259.8 1763.1 L1260.2 1765.5 L1260.7 1768.0 L1261.1 1770.5 L1261.6 1772.9 L1262.0 1775.4 L1262.5 1777.8 L1263.0 1780.3 L1263.6 1782.7 L1264.1 1785.2 L1264.6 1787.6 L1265.2 1790.0 L1265.7 1792.5 L1266.3 1794.9 L1266.8 1797.4 L1267.4 1799.8 L1267.9 1802.2 L1268.4 1804.7 L1269.0 1807.1 L1269.5 1809.6 L1270.0 1812.0 L1270.5 1814.5 L1270.9 1816.9 L1271.4 1819.4 L1271.9 1821.9 L1272.4 1824.3 L1272.9 1826.8 L1273.4 1829.2 L1274.0 1831.6 L1274.5 1834.1 L1275.1 1836.5 L1275.6 1839.0 L1276.2 1841.4 L1276.8 1843.8 L1277.5 1846.2 L1278.1 1848.7 L1278.8 1851.1 L1279.4 1853.5 L1280.1 1855.9 L1280.8 1858.3 L1281.5 1860.7 L1282.3 1863.1 L1283.0 1865.5 L1283.8 1867.9 L1284.5 1870.2 L1285.3 1872.6 L1286.1 1875.0 L1286.9 1877.4 L1287.7 1879.7 L1288.5 1882.1 L1289.4 1884.4 L1290.2 1886.8 L1291.1 1889.1 L1292.0 1891.5 L1292.8 1893.8 L1293.7 1896.2 L1294.6 1898.5 L1295.5 1900.8 L1296.5 1903.2 L1297.4 1905.5 L1298.3 1907.8 L1299.2 1910.1 L1300.2 1912.4 L1301.1 1914.7 L1302.1 1917.1 L1303.1 1919.4 L1304.0 1921.7 L1305.0 1924.0 L1306.0 1926.3 L1307.0 1928.6 L1307.9 1930.9 L1308.9 1933.2 L1309.9 1935.5 L1310.9 1937.8 L1311.8 1940.1 L1312.8 1942.4 L1313.7 1944.7 L1314.6 1947.1 L1315.4 1949.4 L1316.2 1951.8 L1317.0 1954.2 L1317.7 1956.6 L1318.3 1959.0 L1318.9 1961.4 L1319.5 1963.9 L1320.1 1966.3 L1320.7 1968.7 L1321.2 1971.2 L1321.8 1973.6 L1322.3 1976.1 L1322.9 1978.5 L1323.5 1980.9 L1324.1 1983.3 L1324.8 1985.8 L1325.5 1988.2 L1326.2 1990.6 L1327.0 1992.9 L1327.8 1995.3 L1328.7 1997.6 L1329.5 2000.0 L1330.4 2002.3 L1331.3 2004.7 L1332.2 2007.0 L1333.0 2009.4 L1333.8 2011.7 L1334.6 2014.1 L1335.3 2016.5 L1336.0 2018.9 L1336.7 2021.3 L1337.4 2023.7 L1338.0 2026.1 L1338.7 2028.5 L1339.6 2030.9 L1340.6 2033.1 L1342.0 2035.2 L1343.9 2036.9 L1346.1 2038.1 L1348.5 2038.4 L1351.0 2037.9 L1353.3 2037.0 L1355.6 2036.1 L1358.0 2035.4 L1360.5 2035.1 L1363.0 2035.4 L1365.4 2036.1 L1367.6 2037.2 L1369.7 2038.5 L1371.7 2040.0 L1373.7 2041.6 L1375.5 2043.3 L1377.3 2045.1 L1378.8 2047.0 L1380.2 2049.1 L1381.3 2051.4 L1382.3 2053.7 L1383.1 2056.0 L1383.7 2058.5 L1384.3 2060.9 L1384.8 2063.3 L1385.2 2065.8 L1385.6 2068.3 L1386.0 2070.8 L1386.4 2073.2 L1386.7 2075.7 L1387.1 2078.2 L1387.4 2080.7 L1387.7 2083.1 L1388.0 2085.6 L1388.3 2088.1 L1388.6 2090.6 L1388.9 2093.1 L1389.2 2095.6 L1389.5 2098.0 L1389.8 2100.5 L1390.2 2103.0 L1390.5 2105.5 L1390.8 2108.0 L1391.1 2110.4 L1391.5 2112.9 L1391.8 2115.4 L1392.2 2117.9 L1392.5 2120.4 L1392.8 2122.8 L1393.2 2125.3 L1393.5 2127.8 L1393.9 2130.3 L1394.2 2132.7 L1394.6 2135.2 L1394.9 2137.7 L1395.2 2140.2 L1395.6 2142.7 L1395.9 2145.1 L1396.2 2147.6 L1396.6 2150.1 L1396.9 2152.6 L1397.2 2155.0 L1397.6 2157.5 L1397.9 2160.0 L1398.2 2162.5 L1398.6 2165.0 L1398.9 2167.4 L1399.3 2169.9 L1399.6 2172.4 L1400.0 2174.9 L1400.3 2177.3 L1400.7 2179.8 L1401.0 2182.3 L1401.4 2184.8 L1401.8 2187.2 L1402.1 2189.7 L1402.5 2192.2 L1402.9 2194.7 L1403.3 2197.1 L1403.6 2199.6 L1404.0 2202.1 L1404.4 2204.6 L1404.8 2207.0 L1405.1 2209.5 L1405.5 2212.0 L1405.9 2214.5 L1406.2 2216.9 L1406.6 2219.4 L1407.0 2221.9 L1407.4 2224.3 L1407.7 2226.8 L1408.1 2229.3 L1408.5 2231.8 L1408.8 2234.2 L1409.2 2236.7 L1409.6 2239.2 L1409.9 2241.7 L1410.3 2244.1 L1410.7 2246.6 L1411.1 2249.1 L1411.5 2251.6 L1411.8 2254.0 L1412.2 2256.5 L1412.6 2259.0 L1413.0 2261.4 L1413.4 2263.9 L1413.8 2266.4 L1414.2 2268.8 L1414.6 2271.3 L1415.0 2273.8 L1415.5 2276.2 L1415.9 2278.7 L1416.3 2281.2 L1416.7 2283.6 L1417.1 2286.1 L1417.5 2288.6 L1418.0 2291.0 L1418.4 2293.5 L1418.8 2296.0 L1419.3 2298.4 L1419.7 2300.9 L1420.2 2303.4 L1420.6 2305.8 L1421.1 2308.3 L1421.6 2310.7 L1422.1 2313.2 L1422.6 2315.6 L1423.2 2318.1 L1423.7 2320.5 L1424.3 2322.9 L1424.9 2325.4 L1425.5 2327.8 L1426.2 2330.2 L1426.8 2332.6 L1427.5 2335.0 L1428.2 2337.4 L1428.9 2339.8 L1429.7 2342.2 L1430.4 2344.6 L1431.1 2347.0 L1431.8 2349.4 L1432.5 2351.8 L1433.1 2354.2 L1433.8 2356.6 L1434.4 2359.1 L1435.1 2361.5 L1435.7 2363.9 L1436.4 2366.3 L1437.1 2368.7 L1437.7 2371.1 L1438.4 2373.5 L1439.1 2375.9 L1439.8 2378.3 L1440.5 2380.7 L1441.2 2383.1 L1441.8 2385.5 L1442.5 2388.0 L1443.2 2390.4 L1444.0 2392.8 L1444.7 2395.1 L1445.4 2397.5 L1446.1 2399.9 L1446.8 2402.3 L1447.6 2404.7 L1448.3 2407.1 L1449.1 2409.5 L1449.9 2411.9 L1450.7 2414.2 L1451.6 2416.5 L1452.5 2418.9 L1453.5 2421.2 L1454.5 2423.5 L1455.6 2425.7 L1456.7 2428.0 L1457.8 2430.2 L1458.9 2432.5 L1460.1 2434.7 L1461.3 2436.9 L1462.5 2439.1 L1463.7 2441.3 L1464.9 2443.4 L1466.2 2445.6 L1467.4 2447.8 L1468.7 2449.9 L1470.0 2452.0 L1471.4 2454.1 L1472.8 2456.2 L1474.2 2458.3 L1475.7 2460.3 L1477.2 2462.2 L1478.8 2464.2 L1480.5 2466.0 L1482.2 2467.9 L1483.9 2469.7 L1485.7 2471.5 L1487.4 2473.2 L1489.3 2475.0 L1491.1 2476.6 L1493.1 2478.2 L1495.1 2479.7 L1497.2 2480.9 L1499.5 2482.0 L1501.8 2483.0 L1504.1 2483.9 L1506.5 2484.7 L1508.8 2485.6 L1511.2 2486.5 L1513.5 2487.4 L1515.8 2488.3 L1518.2 2489.0 L1520.7 2489.5 L1523.2 2489.7 L1525.7 2489.7 L1528.2 2489.5 L1530.7 2489.3 L1533.1 2488.9 L1535.6 2488.5 L1538.1 2488.0 L1540.5 2487.4 L1542.9 2486.8 L1545.4 2486.4 L1547.9 2486.4 L1550.3 2486.8 L1552.7 2487.5 L1555.1 2488.4 L1557.4 2489.3 L1559.7 2490.3 L1562.1 2491.1 L1564.4 2492.0 L1566.8 2492.8 L1569.2 2493.5 L1571.6 2494.3 L1574.0 2495.0 L1576.4 2495.6 L1578.8 2496.2 L1581.3 2496.7 L1583.7 2497.1 L1586.2 2497.3 L1588.7 2497.5 L1591.2 2497.5 L1593.7 2497.4 L1596.2 2497.3 L1598.7 2497.2 L1601.2 2497.1 L1603.7 2497.2 L1606.2 2497.3 L1608.7 2497.6 L1611.2 2497.9 L1613.7 2498.3 L1616.1 2498.6 L1618.6 2498.9 L1621.1 2499.1 L1623.6 2499.1 L1626.1 2499.1 L1628.6 2499.1 L1631.1 2499.0 L1633.6 2498.9 L1636.1 2498.9 L1638.6 2498.9 L1641.1 2499.0 L1643.6 2499.2 L1646.1 2499.5 L1648.6 2499.8 L1651.1 2500.1 L1653.6 2500.4 L1656.0 2500.6 L1658.5 2500.6 L1661.0 2500.4 L1663.5 2500.2 L1666.0 2499.9 L1668.5 2499.8 L1671.0 2499.8 L1673.5 2499.9 L1676.0 2500.1 L1678.5 2500.4 L1681.0 2500.7 L1683.5 2501.1 L1685.9 2501.4 L1688.4 2501.8 L1690.9 2502.0 L1693.4 2502.2 L1695.9 2502.1 L1698.4 2501.9 L1700.8 2501.5 L1703.3 2500.9 L1705.7 2500.3 L1708.1 2499.7 L1710.6 2499.1 L1713.0 2498.6 L1715.5 2498.3 L1718.0 2498.2 L1720.5 2498.4 L1722.9 2498.9 L1725.4 2499.5 L1727.7 2500.3 L1730.1 2501.1 L1732.4 2502.1 L1734.7 2503.1 L1737.0 2504.0 L1739.3 2505.0 L1741.6 2505.9 L1744.0 2506.8 L1746.3 2507.6 L1748.7 2508.4 L1751.1 2509.0 L1753.6 2509.6 L1756.0 2510.1 L1758.5 2510.5 L1761.0 2510.8 L1763.5 2511.1 L1766.0 2511.4 L1768.4 2511.7 L1770.9 2512.0 L1773.4 2512.3 L1775.9 2512.6 L1778.4 2513.0 L1780.8 2513.4 L1783.3 2513.7 L1785.8 2514.1 L1788.3 2514.5 L1790.7 2514.9 L1793.2 2515.3 L1795.7 2515.6 L1798.1 2516.0 L1800.6 2516.4 L1803.1 2516.8 L1805.6 2517.1 L1808.0 2517.5" stroke="#000000"/>
<path d="M204.8 1820.1 L206.0 1818.0 L207.3 1815.8 L208.5 1813.6 L209.8 1811.5 L211.0 1809.3 L212.3 1807.1 L213.5 1805.0 L214.8 1802.8 L216.0 1800.6 L217.3 1798.5 L218.5 1796.3 L219.8 1794.1 L221.1 1792.0 L222.3 1789.8 L223.6 1787.7 L224.9 1785.5 L226.1 1783.3 L227.4 1781.2 L228.6 1779.0 L229.9 1776.9 L231.1 1774.7 L232.4 1772.5 L233.6 1770.3 L234.8 1768.2 L236.1 1766.0 L237.3 1763.8 L238.5 1761.6 L239.8 1759.5 L241.0 1757.3 L242.2 1755.1 L243.4 1752.9 L244.6 1750.7 L245.8 1748.5 L247.0 1746.3 L248.1 1744.1 L249.3 1741.9 L250.5 1739.7 L251.6 1737.4 L252.8 1735.2 L253.9 1733.0 L255.0 1730.8 L256.1 1728.5 L257.3 1726.3 L258.4 1724.0 L259.5 1721.8 L260.5 1719.5 L261.6 1717.3 L262.7 1715.0 L263.8 1712.8 L264.8 1710.5 L265.9 1708.2 L266.9 1706.0 L267.9 1703.7 L269.0 1701.4 L270.0 1699.1 L271.0 1696.8 L272.0 1694.5 L273.0 1692.2 L274.0 1690.0 L275.0 1687.7 L276.0 1685.4 L277.0 1683.1 L277.9 1680.8 L278.9 1678.4 L279.9 1676.1 L280.8 1673.8 L281.8 1671.5 L282.8 1669.2 L283.7 1666.9 L284.7 1664.6 L285.6 1662.3 L286.5 1660.0 L287.5 1657.6 L288.4 1655.3 L289.4 1653.0 L290.3 1650.7 L291.2 1648.4 L292.2 1646.0 L293.1 1643.7 L294.0 1641.4 L294.9 1639.1 L295.9 1636.8 L296.8 1634.4 L297.7 1632.1 L298.7 1629.8 L299.6 1627.5 L300.6 1625.2 L301.5 1622.8 L302.5 1620.5 L303.4 1618.2 L304.4 1615.9 L305.3 1613.6 L306.3 1611.3 L307.3 1609.0 L308.2 1606.7 L309.2 1604.4 L310.2 1602.1 L311.2 1599.8 L312.2 1597.5 L313.2 1595.2 L314.2 1592.9 L315.2 1590.6 L316.2 1588.3 L317.2 1586.0 L318.2 1583.8 L319.3 1581.5 L320.3 1579.2 L321.3 1576.9 L322.3 1574.6 L323.4 1572.4 L324.4 1570.1 L325.5 1567.8 L326.5 1565.5 L327.6 1563.3 L328.6 1561.0 L329.7 1558.7 L330.8 1556.5 L331.9 1554.2 L333.0 1552.0 L334.1 1549.8 L335.2 1547.5 L336.4 1545.3 L337.5 1543.1 L338.7 1540.9 L339.9 1538.7 L341.1 1536.5 L342.3 1534.3 L343.6 1532.1 L344.8 1530.0 L346.1 1527.8 L347.4 1525.7 L348.7 1523.6 L350.2 1521.5 L351.6 1519.5 L353.2 1517.6 L354.9 1515.7 L356.7 1514.0 L358.6 1512.4 L360.7 1510.9 L362.8 1509.7 L365.1 1508.6 L367.5 1507.9 L369.9 1507.4 L372.4 1507.3 L374.9 1507.6 L377.3 1508.3 L379.5 1509.4 L381.6 1510.8 L383.6 1512.4 L385.4 1514.1 L387.0 1516.0 L388.4 1518.1 L389.7 1520.2 L390.9 1522.4 L392.0 1524.7 L392.9 1527.0 L393.8 1529.3 L394.6 1531.7 L395.4 1534.0 L396.2 1536.4 L397.0 1538.8 L397.7 1541.2 L398.5 1543.6 L399.3 1545.9 L400.0 1548.3 L400.8 1550.7 L401.5 1553.1 L402.3 1555.5 L403.0 1557.9 L403.7 1560.3 L404.4 1562.7 L405.2 1565.1 L405.9 1567.5 L406.6 1569.9 L407.3 1572.3 L408.0 1574.7 L408.7 1577.1 L409.4 1579.5 L410.1 1581.9 L410.8 1584.3 L411.5 1586.7 L412.2 1589.1 L412.9 1591.5 L413.6 1593.9 L414.3 1596.3 L415.0 1598.7 L415.8 1601.1 L416.5 1603.4 L417.2 1605.8 L417.9 1608.2 L418.6 1610.6 L419.3 1613.0 L420.1 1615.4 L420.8 1617.8 L421.5 1620.2 L422.2 1622.6 L423.0 1625.0 L423.7 1627.4 L424.4 1629.8 L425.1 1632.2 L425.8 1634.6 L426.6 1637.0 L427.3 1639.4 L428.0 1641.8 L428.7 1644.2 L429.4 1646.6 L430.1 1649.0 L430.9 1651.4 L431.6 1653.8 L432.3 1656.2 L433.0 1658.6 L433.7 1661.0 L434.3 1663.4 L435.0 1665.8 L435.7 1668.2 L436.4 1670.6 L437.0 1673.0 L437.7 1675.4 L438.3 1677.8 L438.9 1680.3 L439.5 1682.7 L440.2 1685.1 L440.8 1687.5 L441.3 1690.0 L441.9 1692.4 L442.5 1694.8 L443.0 1697.3 L443.6 1699.7 L444.1 1702.2 L444.6 1704.6 L445.1 1707.1 L445.6 1709.5 L446.1 1712.0 L446.6 1714.4 L447.1 1716.9 L447.5 1719.3 L448.0 1721.8 L448.4 1724.2 L448.8 1726.7 L449.3 1729.2 L449.7 1731.6 L450.1 1734.1 L450.5 1736.6 L450.9 1739.0 L451.3 1741.5 L451.7 1744.0 L452.0 1746.5 L452.4 1748.9 L452.8 1751.4 L453.1 1753.9 L453.5 1756.4 L453.8 1758.8 L454.2 1761.3 L454.5 1763.8 L454.9 1766.3 L455.2 1768.7 L455.6 1771.2 L455.9 1773.7 L456.3 1776.2 L456.6 1778.7 L456.9 1781.1 L457.3 1783.6 L457.6 1786.1 L457.9 1788.6 L458.3 1791.0 L458.6 1793.5 L458.9 1796.0 L459.2 1798.5 L459.6 1801.0 L459.9 1803.4 L460.2 1805.9 L460.5 1808.4 L460.9 1810.9 L461.2 1813.4 L461.5 1815.8 L461.8 1818.3 L462.1 1820.8 L462.4 1823.3 L462.7 1825.8 L463.1 1828.3 L463.4 1830.7 L463.7 1833.2 L464.0 1835.7 L464.2 1838.2 L464.5 1840.7 L464.8 1843.2 L465.1 1845.6 L465.4 1848.1 L465.7 1850.6 L466.0 1853.1 L466.2 1855.6 L466.5 1858.1 L466.8 1860.5 L467.0 1863.0 L467.3 1865.5 L467.6 1868.0 L467.8 1870.5 L468.1 1873.0 L468.4 1875.5 L468.6 1878.0 L468.9 1880.4 L469.1 1882.9 L469.4 1885.4 L469.6 1887.9 L469.9 1890.4 L470.1 1892.9 L470.3 1895.4 L470.6 1897.9 L470.8 1900.4 L471.1 1902.8 L471.3 1905.3 L471.5 1907.8 L471.8 1910.3 L472.0 1912.8 L472.2 1915.3 L472.5 1917.8 L472.7 1920.3 L472.9 1922.8 L473.2 1925.3 L473.4 1927.7 L473.6 1930.2 L473.9 1932.7 L474.1 1935.2 L474.3 1937.7 L474.6 1940.2 L474.8 1942.7 L475.0 1945.2 L475.3 1947.7 L475.5 1950.2 L475.7 1952.6 L475.9 1955.1 L476.2 1957.6 L476.4 1960.1 L476.6 1962.6 L476.8 1965.1 L477.0 1967.6 L477.3 1970.1 L477.5 1972.6 L477.7 1975.1 L477.9 1977.6 L478.1 1980.1 L478.3 1982.5 L478.5 1985.0 L478.7 1987.5 L479.0 1990.0 L479.2 1992.5 L479.4 1995.0 L479.6 1997.5 L479.8 2000.0 L480.0 2002.5 L480.2 2005.0 L480.4 2007.5 L480.6 2010.0 L480.8 2012.5 L481.0 2014.9 L481.2 2017.4 L481.4 2019.9 L481.6 2022.4 L481.7 2024.9 L481.9 2027.4 L482.1 2029.9 L482.3 2032.4 L482.5 2034.9 L482.7 2037.4 L482.9 2039.9 L483.1 2042.4 L483.3 2044.9 L483.5 2047.4 L483.7 2049.9 L483.9 2052.3 L484.1 2054.8 L484.3 2057.3 L484.5 2059.8 L484.7 2062.3 L484.9 2064.8 L485.1 2067.3 L485.3 2069.8 L485.6 2072.3 L485.8 2074.8 L486.0 2077.3 L486.2 2079.8 L486.4 2082.2 L486.7 2084.7 L486.9 2087.2 L487.1 2089.7 L487.4 2092.2 L487.6 2094.7 L487.9 2097.2 L488.1 2099.7 L488.4 2102.2 L488.6 2104.7 L488.9 2107.1 L489.1 2109.6 L489.4 2112.1 L489.6 2114.6 L489.9 2117.1 L490.2 2119.6 L490.4 2122.1 L490.7 2124.6 L490.9 2127.0 L491.2 2129.5 L491.5 2132.0 L491.8 2134.5 L492.0 2137.0 L492.3 2139.5 L492.6 2142.0 L492.8 2144.4 L493.1 2146.9 L493.4 2149.4 L493.6 2151.9 L493.9 2154.4 L494.2 2156.9 L494.5 2159.4 L494.7 2161.8 L495.0 2164.3 L495.3 2166.8 L495.6 2169.3 L495.8 2171.8 L496.1 2174.3 L496.4 2176.8 L496.7 2179.2 L497.0 2181.7 L497.2 2184.2 L497.5 2186.7 L497.8 2189.2 L498.1 2191.7 L498.4 2194.2 L498.6 2196.6 L498.9 2199.1 L499.2 2201.6 L499.5 2204.1 L499.8 2206.6 L500.1 2209.1 L500.3 2211.5 L500.6 2214.0 L500.9 2216.5 L501.2 2219.0 L501.5 2221.5 L501.8 2224.0 L502.1 2226.5 L502.4 2228.9 L502.6 2231.4 L502.9 2233.9 L503.2 2236.4 L503.5 2238.9 L503.8 2241.4 L504.1 2243.8 L504.4 2246.3 L504.7 2248.8 L505.0 2251.3 L505.3 2253.8 L505.6 2256.3 L505.9 2258.7 L506.2 2261.2 L506.5 2263.7 L506.8 2266.2 L507.1 2268.7 L507.4 2271.2 L507.7 2273.6 L508.0 2276.1 L508.3 2278.6 L508.7 2281.1 L509.0 2283.6 L509.3 2286.0 L509.6 2288.5 L510.0 2291.0 L510.3 2293.5 L510.6 2296.0 L511.0 2298.4 L511.3 2300.9 L511.7 2303.4 L512.1 2305.9 L512.4 2308.3 L512.8 2310.8 L513.2 2313.3 L513.6 2315.7 L514.0 2318.2 L514.4 2320.7 L514.8 2323.1 L515.2 2325.6 L515.7 2328.1 L516.1 2330.5 L516.6 2333.0 L517.0 2335.4 L517.5 2337.9 L518.0 2340.4 L518.5 2342.8 L519.0 2345.3 L519.5 2347.7 L520.1 2350.1 L520.6 2352.6 L521.2 2355.0 L521.8 2357.4 L522.4 2359.9 L523.1 2362.3 L523.7 2364.7 L524.4 2367.1 L525.1 2369.5 L525.8 2371.9 L526.6 2374.3 L527.4 2376.7 L528.2 2379.0 L529.0 2381.4 L529.8 2383.7 L530.7 2386.1 L531.7 2388.4 L532.6 2390.7 L533.6 2393.0 L534.7 2395.3 L535.7 2397.5 L536.9 2399.7 L538.1 2401.9 L539.4 2404.1 L540.7 2406.2 L542.2 2408.2 L543.7 2410.2 L545.3 2412.1 L547.1 2413.9 L548.9 2415.6 L550.8 2417.2 L552.8 2418.7 L554.9 2420.1 L557.1 2421.3 L559.3 2422.4 L561.6 2423.4 L564.0 2424.3 L566.4 2425.0 L568.8 2425.6 L571.2 2426.1 L573.7 2426.6 L576.2 2427.0 L578.6 2427.3 L581.1 2427.6 L583.6 2427.9 L586.1 2428.2 L588.6 2428.4 L591.1 2428.7 L593.5 2428.9 L596.0 2429.2 L598.5 2429.4 L601.0 2429.6 L603.5 2429.8 L606.0 2429.9 L608.5 2430.0 L611.0 2430.2 L613.5 2430.3 L616.0 2430.3 L618.5 2430.4 L621.0 2430.4 L623.5 2430.4 L626.0 2430.4 L628.5 2430.4 L631.0 2430.3 L633.5 2430.1 L636.0 2429.9 L638.5 2429.7 L641.0 2429.3 L643.4 2429.0 L645.9 2428.5 L648.3 2428.0 L650.8 2427.4 L653.2 2426.7 L655.6 2426.0 L657.9 2425.2 L660.3 2424.3 L662.6 2423.4 L664.9 2422.5 L667.2 2421.5 L669.5 2420.4 L671.8 2419.4 L674.0 2418.2 L676.2 2417.1 L678.4 2415.9 L680.6 2414.7 L682.8 2413.5 L685.0 2412.2 L687.1 2410.9 L689.2 2409.6 L691.3 2408.3 L693.4 2406.9 L695.5 2405.5 L697.6 2404.1 L699.7 2402.7 L701.7 2401.3 L703.7 2399.8 L705.8 2398.3 L707.8 2396.9 L709.8 2395.4 L711.8 2393.8 L713.7 2392.3 L715.7 2390.8 L717.7 2389.2 L719.6 2387.6 L721.5 2386.1 L723.5 2384.5 L725.4 2382.9 L727.3 2381.3 L729.2 2379.6 L731.1 2378.0 L733.0 2376.3 L734.8 2374.7 L736.7 2373.0 L738.6 2371.3 L740.4 2369.6 L742.2 2367.9 L744.0 2366.2 L745.8 2364.5 L747.6 2362.7 L749.4 2361.0 L751.2 2359.2 L752.9 2357.4 L754.7 2355.6 L756.4 2353.8 L758.1 2352.0 L759.8 2350.2 L761.5 2348.3 L763.2 2346.5 L764.9 2344.6 L766.5 2342.7 L768.1 2340.8 L769.8 2338.9 L771.4 2337.0 L772.9 2335.1 L774.5 2333.1 L776.1 2331.2 L777.6 2329.2 L779.1 2327.2 L780.6 2325.2 L782.1 2323.2 L783.6 2321.2 L785.0 2319.1 L786.4 2317.1 L787.9 2315.0 L789.3 2312.9 L790.6 2310.8 L792.0 2308.8 L793.4 2306.7 L794.7 2304.5 L796.0 2302.4 L797.3 2300.3 L798.6 2298.1 L799.9 2296.0 L801.2 2293.8 L802.4 2291.7 L803.7 2289.5 L804.9 2287.3 L806.2 2285.2 L807.4 2283.0 L808.6 2280.8 L809.8 2278.6 L811.1 2276.4 L812.3 2274.3 L813.5 2272.1 L814.7 2269.9 L816.0 2267.7 L817.2 2265.5 L818.4 2263.4 L819.7 2261.2 L820.9 2259.0 L822.2 2256.9 L823.4 2254.7 L824.7 2252.6 L826.0 2250.4 L827.3 2248.3 L828.6 2246.1 L829.9 2244.0 L831.2 2241.8 L832.5 2239.7 L833.8 2237.6 L835.1 2235.4 L836.4 2233.3 L837.7 2231.2 L839.0 2229.1 L840.3 2226.9 L841.6 2224.8 L842.9 2222.7 L844.2 2220.5 L845.5 2218.4 L846.8 2216.3 L848.1 2214.1 L849.4 2212.0 L850.7 2209.8 L851.9 2207.7 L853.2 2205.5 L854.5 2203.3 L855.7 2201.2 L856.9 2199.0 L858.1 2196.8 L859.3 2194.6 L860.5 2192.4 L861.7 2190.2 L862.9 2188.0 L864.0 2185.8 L865.2 2183.5 L866.3 2181.3 L867.4 2179.1 L868.5 2176.8 L869.6 2174.6 L870.6 2172.3 L871.7 2170.0 L872.7 2167.7 L873.7 2165.5 L874.8 2163.2 L875.8 2160.9 L876.8 2158.6 L877.8 2156.3 L878.7 2154.0 L879.7 2151.7 L880.7 2149.4 L881.7 2147.1 L882.6 2144.8 L883.6 2142.5 L884.5 2140.2 L885.5 2137.8 L886.4 2135.5 L887.4 2133.2 L888.3 2130.9 L889.2 2128.6 L890.2 2126.3 L891.1 2123.9 L892.1 2121.6 L893.0 2119.3 L893.9 2117.0 L894.9 2114.7 L895.8 2112.3 L896.7 2110.0 L897.6 2107.7 L898.6 2105.4 L899.5 2103.0 L900.4 2100.7 L901.3 2098.4 L902.2 2096.1 L903.2 2093.7 L904.1 2091.4 L905.0 2089.1 L905.9 2086.7 L906.8 2084.4 L907.7 2082.1 L908.6 2079.7 L909.5 2077.4 L910.4 2075.1 L911.3 2072.7 L912.1 2070.4 L913.0 2068.1 L913.9 2065.7 L914.8 2063.4 L915.7 2061.0 L916.5 2058.7 L917.4 2056.3 L918.3 2054.0 L919.1 2051.7 L920.0 2049.3 L920.9 2047.0 L921.7 2044.6 L922.6 2042.3 L923.4 2039.9 L924.3 2037.6 L925.2 2035.2 L926.0 2032.9 L926.9 2030.5 L927.8 2028.2 L928.6 2025.8 L929.5 2023.5 L930.4 2021.2 L931.3 2018.8 L932.1 2016.5 L933.0 2014.1 L933.9 2011.8 L934.8 2009.5 L935.7 2007.1 L936.6 2004.8 L937.5 2002.5 L938.4 2000.1 L939.3 1997.8 L940.2 1995.5 L941.2 1993.1 L942.1 1990.8 L943.0 1988.5 L944.0 1986.2 L944.9 1983.9 L945.8 1981.6 L946.8 1979.2 L947.7 1976.9 L948.7 1974.6 L949.7 1972.3 L950.6 1970.0 L951.6 1967.7 L952.5 1965.4 L953.5 1963.1 L954.5 1960.8 L955.4 1958.4 L956.4 1956.1 L957.3 1953.8 L958.3 1951.5 L959.3 1949.2 L960.2 1946.9 L961.2 1944.6 L962.1 1942.3 L963.1 1940.0 L964.0 1937.6 L965.0 1935.3 L965.9 1933.0 L966.8 1930.7 L967.8 1928.4 L968.7 1926.0 L969.6 1923.7 L970.5 1921.4 L971.5 1919.1 L972.4 1916.7 L973.3 1914.4 L974.2 1912.1 L975.1 1909.8 L976.0 1907.4 L976.9 1905.1 L977.8 1902.8 L978.7 1900.4 L979.6 1898.1 L980.5 1895.8 L981.4 1893.4 L982.3 1891.1 L983.2 1888.8 L984.1 1886.4 L985.0 1884.1 L985.9 1881.8 L986.8 1879.4 L987.7 1877.1 L988.6 1874.7 L989.4 1872.4 L990.3 1870.1 L991.2 1867.7 L992.0 1865.4 L992.9 1863.0 L993.8 1860.7 L994.6 1858.3 L995.5 1856.0 L996.4 1853.6 L997.2 1851.3 L998.1 1848.9 L998.9 1846.6 L999.8 1844.2 L1000.6 1841.9 L1001.5 1839.5 L1002.3 1837.2 L1003.2 1834.8 L1004.0 1832.5 L1004.9 1830.1 L1005.7 1827.8 L1006.6 1825.4 L1007.4 1823.1 L1008.3 1820.7 L1009.1 1818.3 L1010.0 1816.0 L1010.8 1813.6 L1011.6 1811.3 L1012.5 1808.9 L1013.3 1806.6 L1014.2 1804.2 L1015.0 1801.9 L1015.8 1799.5 L1016.7 1797.2 L1017.5 1794.8 L1018.4 1792.4 L1019.2 1790.1 L1020.0 1787.7 L1020.9 1785.4 L1021.7 1783.0 L1022.5 1780.7 L1023.4 1778.3 L1024.2 1775.9 L1025.0 1773.6 L1025.9 1771.2 L1026.7 1768.9 L1027.5 1766.5 L1028.4 1764.2 L1029.2 1761.8 L1030.1 1759.4 L1030.9 1757.1 L1031.7 1754.7 L1032.6 1752.4 L1033.4 1750.0 L1034.3 1747.7 L1035.1 1745.3 L1036.0 1743.0 L1036.8 1740.6 L1037.7 1738.3 L1038.6 1735.9 L1039.4 1733.6 L1040.3 1731.2 L1041.2 1728.9 L1042.0 1726.5 L1042.9 1724.2 L1043.8 1721.9 L1044.7 1719.5 L1045.6 1717.2 L1046.4 1714.8 L1047.3 1712.5 L1048.2 1710.2 L1049.1 1707.8 L1050.0 1705.5 L1050.9 1703.1 L1051.8 1700.8 L1052.7 1698.5 L1053.5 1696.1 L1054.4 1693.8 L1055.3 1691.5 L1056.2 1689.1 L1057.1 1686.8 L1058.0 1684.5 L1058.9 1682.1 L1059.8 1679.8 L1060.7 1677.5 L1061.6 1675.1 L1062.5 1672.8 L1063.4 1670.5 L1064.4 1668.1 L1065.3 1665.8 L1066.3 1663.5 L1067.2 1661.2 L1068.2 1658.9 L1069.2 1656.6 L1070.2 1654.3 L1071.2 1652.0 L1072.3 1649.8 L1073.3 1647.5 L1074.4 1645.2 L1075.4 1643.0 L1076.5 1640.7 L1077.7 1638.5 L1078.9 1636.3 L1080.1 1634.1 L1081.5 1632.0 L1082.9 1630.0 L1084.4 1628.0 L1086.0 1626.1 L1087.8 1624.3 L1089.6 1622.6 L1091.5 1621.0 L1093.5 1619.5 L1095.6 1618.1 L1097.8 1616.8 L1099.9 1615.6 L1102.1 1614.4 L1104.4 1613.3 L1106.6 1612.1 L1108.8 1611.0 L1111.0 1609.8 L1113.2 1608.6 L1115.4 1607.4 L1117.6 1606.2 L1119.8 1604.9 L1121.9 1603.7 L1124.1 1602.5 L1126.3 1601.2 L1128.5 1600.0 L1130.6 1598.7 L1132.8 1597.5 L1134.9 1596.2 L1137.1 1594.9 L1139.2 1593.6 L1141.4 1592.4 L1143.5 1591.1 L1145.6 1589.7 L1147.8 1588.4 L1149.9 1587.1 L1152.0 1585.8 L1154.1 1584.5 L1156.3 1583.1 L1158.4 1581.8 L1160.5 1580.5 L1162.6 1579.2 L1164.8 1577.9 L1166.9 1576.5 L1169.0 1575.2 L1171.1 1573.9 L1173.2 1572.6 L1175.3 1571.2 L1177.4 1569.7 L1179.4 1568.3 L1181.5 1566.9 L1183.5 1565.4 L1185.6 1564.1 L1187.8 1562.8 L1190.0 1561.7 L1192.4 1560.9 L1194.8 1560.2 L1197.3 1559.9 L1199.8 1559.9 L1202.2 1560.3 L1204.6 1561.0 L1206.9 1562.1 L1209.0 1563.4 L1211.0 1565.0 L1212.7 1566.7 L1214.3 1568.7 L1215.8 1570.7 L1217.1 1572.8 L1218.2 1575.1 L1219.3 1577.3 L1220.2 1579.6 L1221.1 1582.0 L1221.9 1584.4 L1222.6 1586.8 L1223.3 1589.2 L1224.0 1591.6 L1224.7 1594.0 L1225.3 1596.4 L1226.0 1598.8 L1226.6 1601.2 L1227.3 1603.6 L1227.9 1606.1 L1228.5 1608.5 L1229.1 1610.9 L1229.7 1613.3 L1230.2 1615.8 L1230.8 1618.2 L1231.3 1620.7 L1231.9 1623.1 L1232.4 1625.5 L1232.9 1628.0 L1233.4 1630.4 L1234.0 1632.9 L1234.5 1635.3 L1235.0 1637.8 L1235.5 1640.2 L1236.0 1642.7 L1236.5 1645.1 L1237.0 1647.6 L1237.5 1650.0 L1238.0 1652.5 L1238.5 1654.9 L1239.0 1657.4 L1239.5 1659.8 L1240.0 1662.3 L1240.5 1664.7 L1241.0 1667.2 L1241.5 1669.6 L1242.0 1672.1 L1242.5 1674.5 L1243.0 1677.0 L1243.5 1679.4 L1244.0 1681.9 L1244.5 1684.3 L1245.0 1686.8 L1245.6 1689.2 L1246.1 1691.7 L1246.6 1694.1 L1247.2 1696.5 L1247.7 1699.0 L1248.3 1701.4 L1248.8 1703.9 L1249.4 1706.3 L1249.9 1708.7 L1250.5 1711.2 L1251.1 1713.6 L1251.7 1716.0 L1252.2 1718.5 L1252.8 1720.9 L1253.4 1723.3 L1254.0 1725.8 L1254.6 1728.2 L1255.2 1730.6 L1255.9 1733.0 L1256.5 1735.5 L1257.1 1737.9 L1257.7 1740.3 L1258.3 1742.7 L1258.9 1745.2 L1259.6 1747.6 L1260.2 1750.0 L1260.8 1752.4 L1261.5 1754.8 L1262.1 1757.3 L1262.7 1759.7 L1263.4 1762.1 L1264.0 1764.5 L1264.7 1766.9 L1265.3 1769.3 L1266.0 1771.7 L1266.7 1774.2 L1267.3 1776.6 L1268.0 1779.0 L1268.7 1781.4 L1269.4 1783.8 L1270.1 1786.2 L1270.8 1788.6 L1271.5 1791.0 L1272.3 1793.4 L1273.0 1795.8 L1273.8 1798.1 L1274.5 1800.5 L1275.3 1802.9 L1276.1 1805.3 L1276.9 1807.6 L1277.8 1810.0 L1278.6 1812.3 L1279.5 1814.7 L1280.3 1817.0 L1281.2 1819.4 L1282.1 1821.7 L1283.0 1824.0 L1284.0 1826.4 L1284.9 1828.7 L1285.8 1831.0 L1286.8 1833.3 L1287.8 1835.6 L1288.7 1837.9 L1289.7 1840.2 L1290.7 1842.5 L1291.7 1844.8 L1292.7 1847.1 L1293.7 1849.4 L1294.7 1851.7 L1295.7 1854.0 L1296.7 1856.3 L1297.7 1858.6 L1298.7 1860.9 L1299.7 1863.2 L1300.7 1865.4 L1301.7 1867.7 L1302.6 1870.0 L1303.6 1872.3 L1304.6 1874.6 L1305.6 1876.9 L1306.6 1879.3 L1307.5 1881.6 L1308.5 1883.9 L1309.5 1886.2 L1310.4 1888.5 L1311.4 1890.8 L1312.4 1893.1 L1313.4 1895.4 L1314.4 1897.7 L1315.4 1900.0 L1316.4 1902.3 L1317.4 1904.5 L1318.4 1906.8 L1319.5 1909.1 L1320.5 1911.4 L1321.6 1913.6 L1322.7 1915.9 L1323.8 1918.1 L1324.9 1920.3 L1326.1 1922.6 L1327.2 1924.8 L1328.4 1927.0 L1329.6 1929.2 L1330.8 1931.4 L1332.0 1933.6 L1333.2 1935.7 L1334.5 1937.9 L1335.7 1940.1 L1337.0 1942.2 L1338.2 1944.4 L1339.5 1946.6 L1340.7 1948.7 L1342.0 1950.9 L1343.2 1953.1 L1344.4 1955.3 L1345.6 1957.5 L1346.8 1959.7 L1348.0 1961.9 L1349.1 1964.1 L1350.3 1966.3 L1351.4 1968.6 L1352.4 1970.8 L1353.5 1973.1 L1354.5 1975.4 L1355.5 1977.7 L1356.5 1980.0 L1357.4 1982.3 L1358.3 1984.6 L1359.2 1987.0 L1360.0 1989.3 L1360.9 1991.7 L1361.7 1994.1 L1362.4 1996.4 L1363.2 1998.8 L1363.9 2001.2 L1364.6 2003.6 L1365.3 2006.0 L1366.0 2008.4 L1366.7 2010.8 L1367.3 2013.3 L1367.9 2015.7 L1368.5 2018.1 L1369.1 2020.5 L1369.7 2023.0 L1370.3 2025.4 L1370.8 2027.8 L1371.4 2030.3 L1371.9 2032.7 L1372.4 2035.2 L1373.0 2037.6 L1373.5 2040.1 L1374.0 2042.5 L1374.4 2045.0 L1374.9 2047.4 L1375.4 2049.9 L1375.9 2052.3 L1376.3 2054.8 L1376.8 2057.3 L1377.2 2059.7 L1377.7 2062.2 L1378.1 2064.6 L1378.5 2067.1 L1378.9 2069.6 L1379.3 2072.0 L1379.7 2074.5 L1380.1 2077.0 L1380.5 2079.4 L1380.9 2081.9 L1381.3 2084.4 L1381.7 2086.9 L1382.1 2089.3 L1382.4 2091.8 L1382.8 2094.3 L1383.2 2096.7 L1383.5 2099.2 L1383.9 2101.7 L1384.2 2104.2 L1384.6 2106.7 L1384.9 2109.1 L1385.2 2111.6 L1385.6 2114.1 L1385.9 2116.6 L1386.2 2119.0 L1386.6 2121.5 L1386.9 2124.0 L1387.2 2126.5 L1387.5 2129.0 L1387.8 2131.4 L1388.2 2133.9 L1388.5 2136.4 L1388.8 2138.9 L1389.1 2141.4 L1389.4 2143.9 L1389.7 2146.3 L1390.0 2148.8 L1390.3 2151.3 L1390.7 2153.8 L1391.0 2156.3 L1391.3 2158.7 L1391.6 2161.2 L1391.9 2163.7 L1392.2 2166.2 L1392.5 2168.7 L1392.8 2171.2 L1393.1 2173.6 L1393.4 2176.1 L1393.7 2178.6 L1394.0 2181.1 L1394.3 2183.6 L1394.6 2186.0 L1395.0 2188.5 L1395.3 2191.0 L1395.6 2193.5 L1395.9 2196.0 L1396.2 2198.5 L1396.5 2200.9 L1396.8 2203.4 L1397.1 2205.9 L1397.5 2208.4 L1397.8 2210.9 L1398.1 2213.3 L1398.4 2215.8 L1398.7 2218.3 L1399.1 2220.8 L1399.4 2223.3 L1399.7 2225.7 L1400.0 2228.2 L1400.4 2230.7 L1400.7 2233.2 L1401.0 2235.7 L1401.4 2238.1 L1401.7 2240.6 L1402.1 2243.1 L1402.4 2245.6 L1402.7 2248.0 L1403.1 2250.5 L1403.4 2253.0 L1403.8 2255.5 L1404.2 2257.9 L1404.5 2260.4 L1404.9 2262.9 L1405.2 2265.4 L1405.6 2267.8 L1406.0 2270.3 L1406.4 2272.8 L1406.8 2275.3 L1407.2 2277.7 L1407.6 2280.2 L1408.0 2282.7 L1408.4 2285.1 L1408.9 2287.6 L1409.3 2290.0 L1409.7 2292.5 L1410.2 2295.0 L1410.7 2297.4 L1411.1 2299.9 L1411.6 2302.3 L1412.1 2304.8 L1412.6 2307.2 L1413.2 2309.7 L1413.7 2312.1 L1414.2 2314.6 L1414.8 2317.0 L1415.3 2319.4 L1415.9 2321.9 L1416.5 2324.3 L1417.1 2326.7 L1417.7 2329.2 L1418.3 2331.6 L1418.9 2334.0 L1419.5 2336.4 L1420.1 2338.9 L1420.7 2341.3 L1421.4 2343.7 L1422.0 2346.1 L1422.6 2348.5 L1423.3 2351.0 L1423.9 2353.4 L1424.6 2355.8 L1425.2 2358.2 L1425.9 2360.6 L1426.5 2363.0 L1427.2 2365.4 L1427.8 2367.9 L1428.5 2370.3 L1429.1 2372.7 L1429.8 2375.1 L1430.5 2377.5 L1431.1 2379.9 L1431.8 2382.3 L1432.4 2384.8 L1433.1 2387.2 L1433.8 2389.6 L1434.4 2392.0 L1435.1 2394.4 L1435.8 2396.8 L1436.5 2399.2 L1437.2 2401.6 L1437.9 2404.0 L1438.6 2406.4 L1439.3 2408.8 L1440.0 2411.2 L1440.8 2413.6 L1441.5 2416.0 L1442.3 2418.3 L1443.1 2420.7 L1443.9 2423.1 L1444.7 2425.5 L1445.5 2427.8 L1446.4 2430.2 L1447.3 2432.5 L1448.2 2434.8 L1449.1 2437.2 L1450.0 2439.5 L1451.0 2441.8 L1452.0 2444.1 L1453.0 2446.4 L1454.0 2448.6 L1455.1 2450.9 L1456.2 2453.2 L1457.3 2455.4 L1458.5 2457.6 L1459.7 2459.8 L1460.9 2462.0 L1462.2 2464.1 L1463.5 2466.3 L1464.8 2468.4 L1466.2 2470.5 L1467.6 2472.6 L1469.0 2474.6 L1470.5 2476.6 L1472.0 2478.6 L1473.6 2480.5 L1475.2 2482.5 L1476.8 2484.3 L1478.5 2486.2 L1480.3 2488.0 L1482.0 2489.8 L1483.8 2491.5 L1485.7 2493.2 L1487.6 2494.8 L1489.5 2496.4 L1491.5 2497.9 L1493.6 2499.3 L1495.6 2500.7 L1497.7 2502.1 L1499.9 2503.3 L1502.1 2504.5 L1504.3 2505.7 L1506.6 2506.7 L1508.9 2507.7 L1511.2 2508.7 L1513.6 2509.5 L1515.9 2510.3 L1518.3 2511.0 L1520.7 2511.7 L1523.1 2512.4 L1525.6 2512.9 L1528.0 2513.5 L1530.5 2514.0 L1532.9 2514.5 L1535.4 2514.9 L1537.8 2515.3 L1540.3 2515.7 L1542.8 2516.1 L1545.3 2516.4 L1547.7 2516.8 L1550.2 2517.1 L1552.7 2517.4 L1555.2 2517.6 L1557.7 2517.9 L1560.2 2518.1 L1562.7 2518.4 L1565.2 2518.6 L1567.6 2518.8 L1570.1 2519.0 L1572.6 2519.1 L1575.1 2519.3 L1577.6 2519.5 L1580.1 2519.6 L1582.6 2519.7 L1585.1 2519.9 L1587.6 2520.0 L1590.1 2520.1 L1592.6 2520.2 L1595.1 2520.4 L1597.6 2520.5 L1600.1 2520.6 L1602.6 2520.7 L1605.1 2520.8 L1607.6 2520.9 L1610.1 2521.0 L1612.6 2521.1 L1615.1 2521.2 L1617.6 2521.3 L1620.1 2521.4 L1622.6 2521.5 L1625.1 2521.6 L1627.6 2521.7 L1630.1 2521.8 L1632.6 2522.0 L1635.1 2522.1 L1637.6 2522.2 L1640.1 2522.3 L1642.6 2522.4 L1645.1 2522.5 L1647.6 2522.6 L1650.1 2522.7 L1652.6 2522.8 L1655.1 2522.9 L1657.6 2523.0 L1660.1 2523.0 L1662.6 2523.1 L1665.1 2523.2 L1667.6 2523.3 L1670.1 2523.4 L1672.6 2523.5 L1675.1 2523.6 L1677.6 2523.6 L1680.1 2523.7 L1682.6 2523.8 L1685.1 2523.8 L1687.6 2523.9 L1690.1 2524.0 L1692.6 2524.1 L1695.1 2524.1 L1697.6 2524.2 L1700.1 2524.2 L1702.6 2524.3 L1705.1 2524.4 L1707.6 2524.4 L1710.1 2524.5 L1712.6 2524.6 L1715.1 2524.6 L1717.6 2524.7 L1720.1 2524.7 L1722.6 2524.8 L1725.1 2524.9 L1727.6 2524.9 L1730.1 2525.0 L1732.6 2525.1 L1735.1 2525.1 L1737.6 2525.2 L1740.1 2525.3 L1742.6 2525.3 L1745.1 2525.4 L1747.6 2525.5 L1750.1 2525.6 L1752.6 2525.6 L1755.1 2525.7 L1757.6 2525.8 L1760.1 2525.8 L1762.6 2525.9 L1765.1 2526.0 L1767.6 2526.1 L1770.1 2526.2 L1772.6 2526.2 L1775.1 2526.3 L1777.6 2526.4 L1780.1 2526.5 L1782.6 2526.5 L1785.1 2526.6 L1787.6 2526.7 L1790.1 2526.8 L1792.6 2526.9 L1795.1 2526.9 L1797.6 2527.0 L1800.1 2527.1 L1802.6 2527.2 L1805.1 2527.3 L1807.6 2527.4" stroke="#ff0000"/>
<path d="M204.8 1940.3 L206.0 1938.1 L207.1 1935.9 L208.3 1933.6 L209.4 1931.4 L210.6 1929.2 L211.7 1927.0 L212.9 1924.8 L214.0 1922.5 L215.1 1920.3 L216.2 1918.1 L217.3 1915.8 L218.4 1913.6 L219.5 1911.3 L220.6 1909.0 L221.6 1906.8 L222.7 1904.5 L223.7 1902.2 L224.8 1900.0 L225.8 1897.7 L226.8 1895.4 L227.8 1893.1 L228.8 1890.8 L229.8 1888.5 L230.7 1886.2 L231.7 1883.9 L232.7 1881.6 L233.6 1879.3 L234.6 1877.0 L235.5 1874.6 L236.4 1872.3 L237.3 1870.0 L238.2 1867.7 L239.1 1865.3 L240.0 1863.0 L240.9 1860.6 L241.8 1858.3 L242.6 1856.0 L243.5 1853.6 L244.3 1851.3 L245.2 1848.9 L246.0 1846.6 L246.9 1844.2 L247.7 1841.8 L248.5 1839.5 L249.3 1837.1 L250.1 1834.7 L250.9 1832.4 L251.7 1830.0 L252.5 1827.6 L253.3 1825.2 L254.0 1822.9 L254.8 1820.5 L255.5 1818.1 L256.3 1815.7 L257.0 1813.3 L257.7 1810.9 L258.5 1808.5 L259.2 1806.1 L259.9 1803.8 L260.6 1801.4 L261.3 1799.0 L262.0 1796.6 L262.8 1794.2 L263.5 1791.8 L264.2 1789.4 L264.9 1787.0 L265.6 1784.6 L266.3 1782.2 L267.0 1779.8 L267.8 1777.4 L268.5 1775.0 L269.2 1772.6 L270.0 1770.2 L270.7 1767.8 L271.4 1765.5 L272.2 1763.1 L273.0 1760.7 L273.7 1758.3 L274.5 1755.9 L275.3 1753.5 L276.0 1751.2 L276.8 1748.8 L277.6 1746.4 L278.4 1744.1 L279.2 1741.7 L280.0 1739.3 L280.8 1736.9 L281.6 1734.6 L282.4 1732.2 L283.2 1729.8 L284.0 1727.5 L284.8 1725.1 L285.6 1722.7 L286.4 1720.4 L287.2 1718.0 L288.0 1715.6 L288.8 1713.2 L289.5 1710.9 L290.3 1708.5 L291.1 1706.1 L291.9 1703.8 L292.7 1701.4 L293.5 1699.0 L294.3 1696.7 L295.1 1694.3 L295.9 1691.9 L296.7 1689.5 L297.5 1687.2 L298.3 1684.8 L299.1 1682.4 L299.9 1680.1 L300.7 1677.7 L301.5 1675.3 L302.4 1673.0 L303.2 1670.6 L304.0 1668.3 L304.8 1665.9 L305.6 1663.5 L306.4 1661.2 L307.3 1658.8 L308.1 1656.4 L308.9 1654.1 L309.7 1651.7 L310.6 1649.4 L311.4 1647.0 L312.2 1644.6 L313.1 1642.3 L313.9 1639.9 L314.7 1637.6 L315.5 1635.2 L316.4 1632.9 L317.2 1630.5 L318.0 1628.1 L318.8 1625.8 L319.7 1623.4 L320.5 1621.0 L321.3 1618.7 L322.1 1616.3 L323.0 1614.0 L323.8 1611.6 L324.6 1609.3 L325.5 1606.9 L326.4 1604.6 L327.2 1602.2 L328.1 1599.9 L329.0 1597.6 L329.9 1595.2 L330.9 1592.9 L331.8 1590.6 L332.7 1588.3 L333.7 1586.0 L334.6 1583.6 L335.6 1581.3 L336.6 1579.1 L337.7 1576.8 L338.8 1574.6 L340.1 1572.4 L341.4 1570.3 L342.8 1568.2 L344.4 1566.3 L346.1 1564.4 L347.9 1562.8 L349.9 1561.3 L352.1 1560.1 L354.4 1559.1 L356.9 1558.6 L359.4 1558.4 L361.8 1558.7 L364.2 1559.5 L366.4 1560.6 L368.5 1562.0 L370.4 1563.6 L372.2 1565.4 L373.8 1567.3 L375.3 1569.3 L376.7 1571.4 L378.0 1573.5 L379.2 1575.7 L380.3 1578.0 L381.3 1580.2 L382.3 1582.5 L383.2 1584.9 L384.1 1587.2 L385.0 1589.5 L385.9 1591.8 L386.8 1594.2 L387.7 1596.5 L388.5 1598.9 L389.4 1601.2 L390.2 1603.6 L391.0 1606.0 L391.8 1608.3 L392.6 1610.7 L393.4 1613.1 L394.1 1615.5 L394.9 1617.8 L395.6 1620.2 L396.4 1622.6 L397.1 1625.0 L397.9 1627.4 L398.6 1629.8 L399.3 1632.2 L400.0 1634.6 L400.7 1637.0 L401.5 1639.4 L402.2 1641.8 L402.9 1644.1 L403.6 1646.5 L404.3 1648.9 L405.0 1651.3 L405.7 1653.7 L406.4 1656.1 L407.1 1658.5 L407.8 1660.9 L408.5 1663.3 L409.2 1665.8 L409.9 1668.2 L410.5 1670.6 L411.2 1673.0 L411.9 1675.4 L412.5 1677.8 L413.2 1680.2 L413.8 1682.6 L414.5 1685.0 L415.1 1687.5 L415.8 1689.9 L416.4 1692.3 L417.0 1694.7 L417.6 1697.1 L418.2 1699.6 L418.8 1702.0 L419.4 1704.4 L420.0 1706.9 L420.6 1709.3 L421.2 1711.7 L421.7 1714.1 L422.3 1716.6 L422.8 1719.0 L423.4 1721.5 L423.9 1723.9 L424.5 1726.3 L425.0 1728.8 L425.5 1731.2 L426.0 1733.7 L426.5 1736.1 L427.0 1738.6 L427.5 1741.0 L428.0 1743.5 L428.4 1745.9 L428.9 1748.4 L429.4 1750.9 L429.8 1753.3 L430.2 1755.8 L430.7 1758.2 L431.1 1760.7 L431.5 1763.2 L432.0 1765.6 L432.4 1768.1 L432.8 1770.6 L433.2 1773.0 L433.6 1775.5 L434.0 1778.0 L434.4 1780.4 L434.8 1782.9 L435.2 1785.4 L435.6 1787.8 L435.9 1790.3 L436.3 1792.8 L436.7 1795.3 L437.1 1797.7 L437.4 1800.2 L437.8 1802.7 L438.2 1805.1 L438.5 1807.6 L438.9 1810.1 L439.3 1812.6 L439.6 1815.0 L440.0 1817.5 L440.3 1820.0 L440.7 1822.5 L441.0 1824.9 L441.4 1827.4 L441.7 1829.9 L442.1 1832.4 L442.4 1834.9 L442.7 1837.3 L443.1 1839.8 L443.4 1842.3 L443.7 1844.8 L444.1 1847.2 L444.4 1849.7 L444.7 1852.2 L445.0 1854.7 L445.3 1857.2 L445.6 1859.6 L446.0 1862.1 L446.3 1864.6 L446.6 1867.1 L446.9 1869.6 L447.2 1872.0 L447.5 1874.5 L447.8 1877.0 L448.1 1879.5 L448.4 1882.0 L448.7 1884.5 L449.0 1886.9 L449.3 1889.4 L449.6 1891.9 L449.9 1894.4 L450.2 1896.9 L450.5 1899.4 L450.8 1901.8 L451.1 1904.3 L451.4 1906.8 L451.6 1909.3 L451.9 1911.8 L452.2 1914.2 L452.5 1916.7 L452.8 1919.2 L453.1 1921.7 L453.4 1924.2 L453.6 1926.7 L453.9 1929.2 L454.2 1931.6 L454.5 1934.1 L454.7 1936.6 L455.0 1939.1 L455.3 1941.6 L455.5 1944.1 L455.8 1946.6 L456.1 1949.0 L456.3 1951.5 L456.6 1954.0 L456.8 1956.5 L457.1 1959.0 L457.3 1961.5 L457.6 1964.0 L457.9 1966.4 L458.1 1968.9 L458.4 1971.4 L458.6 1973.9 L458.9 1976.4 L459.1 1978.9 L459.3 1981.4 L459.6 1983.9 L459.8 1986.3 L460.1 1988.8 L460.3 1991.3 L460.6 1993.8 L460.8 1996.3 L461.1 1998.8 L461.3 2001.3 L461.6 2003.8 L461.8 2006.3 L462.0 2008.7 L462.3 2011.2 L462.5 2013.7 L462.8 2016.2 L463.0 2018.7 L463.2 2021.2 L463.5 2023.7 L463.7 2026.2 L464.0 2028.7 L464.2 2031.1 L464.4 2033.6 L464.7 2036.1 L464.9 2038.6 L465.1 2041.1 L465.4 2043.6 L465.6 2046.1 L465.8 2048.6 L466.1 2051.1 L466.3 2053.5 L466.5 2056.0 L466.8 2058.5 L467.0 2061.0 L467.3 2063.5 L467.5 2066.0 L467.7 2068.5 L468.0 2071.0 L468.2 2073.5 L468.4 2075.9 L468.7 2078.4 L468.9 2080.9 L469.2 2083.4 L469.4 2085.9 L469.7 2088.4 L469.9 2090.9 L470.2 2093.4 L470.4 2095.8 L470.7 2098.3 L470.9 2100.8 L471.2 2103.3 L471.5 2105.8 L471.7 2108.3 L472.0 2110.8 L472.2 2113.2 L472.5 2115.7 L472.8 2118.2 L473.1 2120.7 L473.3 2123.2 L473.6 2125.7 L473.9 2128.2 L474.2 2130.6 L474.5 2133.1 L474.7 2135.6 L475.0 2138.1 L475.3 2140.6 L475.6 2143.1 L475.9 2145.5 L476.2 2148.0 L476.5 2150.5 L476.8 2153.0 L477.1 2155.5 L477.4 2158.0 L477.7 2160.4 L478.0 2162.9 L478.2 2165.4 L478.5 2167.9 L478.8 2170.4 L479.1 2172.9 L479.4 2175.3 L479.7 2177.8 L480.0 2180.3 L480.3 2182.8 L480.6 2185.3 L480.9 2187.8 L481.2 2190.2 L481.5 2192.7 L481.8 2195.2 L482.1 2197.7 L482.4 2200.2 L482.7 2202.6 L483.0 2205.1 L483.3 2207.6 L483.5 2210.1 L483.8 2212.6 L484.1 2215.1 L484.5 2217.5 L484.8 2220.0 L485.1 2222.5 L485.4 2225.0 L485.7 2227.5 L486.0 2229.9 L486.3 2232.4 L486.6 2234.9 L486.9 2237.4 L487.3 2239.9 L487.6 2242.3 L487.9 2244.8 L488.2 2247.3 L488.5 2249.8 L488.9 2252.3 L489.2 2254.7 L489.5 2257.2 L489.9 2259.7 L490.2 2262.2 L490.5 2264.6 L490.9 2267.1 L491.2 2269.6 L491.6 2272.1 L491.9 2274.6 L492.3 2277.0 L492.6 2279.5 L493.0 2282.0 L493.4 2284.5 L493.7 2286.9 L494.1 2289.4 L494.5 2291.9 L494.8 2294.3 L495.2 2296.8 L495.6 2299.3 L496.0 2301.8 L496.4 2304.2 L496.8 2306.7 L497.2 2309.2 L497.6 2311.6 L498.0 2314.1 L498.4 2316.6 L498.9 2319.0 L499.3 2321.5 L499.7 2323.9 L500.2 2326.4 L500.6 2328.9 L501.1 2331.3 L501.5 2333.8 L502.0 2336.2 L502.5 2338.7 L503.0 2341.1 L503.5 2343.6 L504.0 2346.0 L504.5 2348.5 L505.0 2350.9 L505.6 2353.4 L506.1 2355.8 L506.7 2358.2 L507.2 2360.7 L507.8 2363.1 L508.4 2365.5 L509.0 2368.0 L509.7 2370.4 L510.3 2372.8 L511.0 2375.2 L511.7 2377.6 L512.4 2380.0 L513.1 2382.4 L513.8 2384.8 L514.6 2387.2 L515.4 2389.5 L516.2 2391.9 L517.1 2394.2 L518.0 2396.6 L518.9 2398.9 L519.8 2401.2 L520.8 2403.5 L521.8 2405.8 L522.8 2408.1 L523.8 2410.4 L524.9 2412.6 L526.0 2414.9 L527.2 2417.1 L528.4 2419.3 L529.6 2421.5 L530.9 2423.6 L532.3 2425.7 L533.7 2427.7 L535.2 2429.7 L536.8 2431.7 L538.5 2433.5 L540.2 2435.3 L542.1 2437.0 L544.0 2438.5 L546.1 2440.0 L548.2 2441.3 L550.4 2442.5 L552.7 2443.6 L555.0 2444.5 L557.3 2445.3 L559.7 2446.0 L562.2 2446.6 L564.6 2447.0 L567.1 2447.4 L569.6 2447.7 L572.1 2448.0 L574.6 2448.3 L577.0 2448.5 L579.5 2448.7 L582.0 2448.9 L584.5 2449.1 L587.0 2449.2 L589.5 2449.4 L592.0 2449.5 L594.5 2449.7 L597.0 2449.8 L599.5 2449.9 L602.0 2449.9 L604.5 2450.0 L607.0 2450.0 L609.5 2450.0 L612.0 2449.9 L614.5 2449.9 L617.0 2449.8 L619.5 2449.7 L622.0 2449.6 L624.5 2449.4 L627.0 2449.1 L629.5 2448.8 L631.9 2448.5 L634.4 2448.1 L636.9 2447.6 L639.3 2447.1 L641.7 2446.5 L644.1 2445.8 L646.5 2445.1 L648.9 2444.4 L651.3 2443.5 L653.6 2442.7 L656.0 2441.8 L658.3 2440.8 L660.6 2439.9 L662.9 2438.8 L665.1 2437.8 L667.4 2436.7 L669.6 2435.5 L671.8 2434.3 L674.0 2433.1 L676.2 2431.9 L678.3 2430.7 L680.5 2429.4 L682.6 2428.0 L684.7 2426.7 L686.8 2425.3 L688.9 2424.0 L690.9 2422.6 L693.0 2421.1 L695.0 2419.7 L697.1 2418.2 L699.1 2416.8 L701.1 2415.3 L703.1 2413.8 L705.1 2412.2 L707.1 2410.7 L709.0 2409.2 L711.0 2407.6 L712.9 2406.0 L714.9 2404.5 L716.8 2402.9 L718.7 2401.3 L720.6 2399.6 L722.5 2398.0 L724.4 2396.4 L726.3 2394.7 L728.1 2393.1 L730.0 2391.4 L731.8 2389.7 L733.7 2388.0 L735.5 2386.3 L737.3 2384.6 L739.1 2382.8 L740.9 2381.1 L742.7 2379.3 L744.4 2377.5 L746.2 2375.7 L747.9 2373.9 L749.6 2372.1 L751.3 2370.3 L753.0 2368.4 L754.7 2366.6 L756.3 2364.7 L758.0 2362.8 L759.6 2361.0 L761.3 2359.1 L762.9 2357.1 L764.5 2355.2 L766.1 2353.3 L767.6 2351.3 L769.2 2349.4 L770.7 2347.4 L772.3 2345.5 L773.8 2343.5 L775.3 2341.5 L776.8 2339.5 L778.3 2337.5 L779.8 2335.5 L781.2 2333.4 L782.7 2331.4 L784.1 2329.4 L785.6 2327.3 L787.0 2325.3 L788.4 2323.2 L789.8 2321.1 L791.2 2319.1 L792.6 2317.0 L794.0 2314.9 L795.3 2312.8 L796.7 2310.7 L798.0 2308.6 L799.3 2306.4 L800.6 2304.3 L801.9 2302.2 L803.2 2300.0 L804.5 2297.9 L805.8 2295.7 L807.0 2293.6 L808.3 2291.4 L809.5 2289.2 L810.8 2287.1 L812.0 2284.9 L813.2 2282.7 L814.4 2280.5 L815.6 2278.3 L816.8 2276.1 L818.0 2273.9 L819.2 2271.7 L820.4 2269.6 L821.6 2267.4 L822.8 2265.2 L824.0 2263.0 L825.2 2260.8 L826.4 2258.6 L827.7 2256.4 L828.9 2254.2 L830.1 2252.0 L831.3 2249.9 L832.5 2247.7 L833.8 2245.5 L835.0 2243.3 L836.3 2241.2 L837.5 2239.0 L838.7 2236.8 L840.0 2234.7 L841.2 2232.5 L842.5 2230.3 L843.7 2228.2 L845.0 2226.0 L846.2 2223.8 L847.5 2221.7 L848.7 2219.5 L850.0 2217.3 L851.2 2215.1 L852.4 2213.0 L853.6 2210.8 L854.8 2208.6 L856.0 2206.4 L857.2 2204.2 L858.4 2202.0 L859.6 2199.8 L860.8 2197.6 L861.9 2195.4 L863.1 2193.1 L864.2 2190.9 L865.3 2188.7 L866.4 2186.4 L867.5 2184.2 L868.6 2181.9 L869.6 2179.7 L870.7 2177.4 L871.7 2175.1 L872.7 2172.8 L873.7 2170.5 L874.7 2168.2 L875.7 2165.9 L876.7 2163.6 L877.6 2161.3 L878.6 2159.0 L879.5 2156.7 L880.5 2154.4 L881.4 2152.1 L882.3 2149.7 L883.2 2147.4 L884.1 2145.1 L885.0 2142.7 L885.9 2140.4 L886.8 2138.1 L887.7 2135.7 L888.6 2133.4 L889.4 2131.1 L890.3 2128.7 L891.2 2126.4 L892.1 2124.0 L892.9 2121.7 L893.8 2119.3 L894.7 2117.0 L895.5 2114.6 L896.4 2112.3 L897.2 2109.9 L898.1 2107.6 L898.9 2105.2 L899.8 2102.9 L900.6 2100.5 L901.5 2098.2 L902.3 2095.8 L903.2 2093.5 L904.0 2091.1 L904.8 2088.8 L905.7 2086.4 L906.5 2084.0 L907.3 2081.7 L908.1 2079.3 L909.0 2077.0 L909.8 2074.6 L910.6 2072.2 L911.4 2069.9 L912.3 2067.5 L913.1 2065.2 L913.9 2062.8 L914.7 2060.4 L915.5 2058.1 L916.3 2055.7 L917.2 2053.3 L918.0 2051.0 L918.8 2048.6 L919.6 2046.3 L920.4 2043.9 L921.3 2041.5 L922.1 2039.2 L922.9 2036.8 L923.7 2034.5 L924.6 2032.1 L925.4 2029.7 L926.2 2027.4 L927.1 2025.0 L927.9 2022.7 L928.8 2020.3 L929.6 2018.0 L930.5 2015.6 L931.3 2013.3 L932.2 2010.9 L933.1 2008.6 L934.0 2006.3 L934.9 2003.9 L935.8 2001.6 L936.7 1999.3 L937.6 1996.9 L938.5 1994.6 L939.4 1992.3 L940.3 1990.0 L941.3 1987.6 L942.2 1985.3 L943.2 1983.0 L944.1 1980.7 L945.1 1978.4 L946.0 1976.1 L947.0 1973.8 L948.0 1971.5 L948.9 1969.2 L949.9 1966.9 L950.9 1964.6 L951.8 1962.3 L952.8 1959.9 L953.8 1957.6 L954.8 1955.3 L955.7 1953.0 L956.7 1950.7 L957.7 1948.4 L958.6 1946.1 L959.6 1943.8 L960.5 1941.5 L961.5 1939.2 L962.4 1936.9 L963.4 1934.6 L964.3 1932.2 L965.2 1929.9 L966.2 1927.6 L967.1 1925.3 L968.0 1922.9 L968.9 1920.6 L969.8 1918.3 L970.7 1915.9 L971.6 1913.6 L972.5 1911.3 L973.4 1908.9 L974.3 1906.6 L975.1 1904.3 L976.0 1901.9 L976.9 1899.6 L977.7 1897.2 L978.6 1894.9 L979.4 1892.5 L980.3 1890.2 L981.1 1887.8 L982.0 1885.5 L982.8 1883.1 L983.6 1880.8 L984.5 1878.4 L985.3 1876.0 L986.1 1873.7 L987.0 1871.3 L987.8 1869.0 L988.6 1866.6 L989.4 1864.2 L990.2 1861.9 L991.0 1859.5 L991.8 1857.1 L992.7 1854.8 L993.5 1852.4 L994.3 1850.0 L995.1 1847.7 L995.9 1845.3 L996.7 1842.9 L997.5 1840.6 L998.3 1838.2 L999.2 1835.9 L1000.0 1833.5 L1000.8 1831.1 L1001.6 1828.8 L1002.4 1826.4 L1003.2 1824.0 L1004.0 1821.7 L1004.9 1819.3 L1005.7 1816.9 L1006.5 1814.6 L1007.3 1812.2 L1008.1 1809.8 L1008.9 1807.5 L1009.7 1805.1 L1010.5 1802.7 L1011.2 1800.4 L1012.0 1798.0 L1012.8 1795.6 L1013.6 1793.2 L1014.3 1790.8 L1015.1 1788.5 L1015.8 1786.1 L1016.6 1783.7 L1017.3 1781.3 L1018.1 1778.9 L1018.8 1776.5 L1019.5 1774.1 L1020.2 1771.7 L1021.0 1769.3 L1021.7 1766.9 L1022.4 1764.6 L1023.1 1762.2 L1023.8 1759.8 L1024.6 1757.4 L1025.3 1755.0 L1026.0 1752.6 L1026.8 1750.2 L1027.5 1747.8 L1028.3 1745.4 L1029.0 1743.1 L1029.8 1740.7 L1030.6 1738.3 L1031.4 1735.9 L1032.2 1733.6 L1033.0 1731.2 L1033.8 1728.8 L1034.6 1726.5 L1035.5 1724.1 L1036.3 1721.8 L1037.2 1719.4 L1038.0 1717.1 L1038.9 1714.7 L1039.8 1712.4 L1040.7 1710.0 L1041.6 1707.7 L1042.5 1705.4 L1043.4 1703.1 L1044.3 1700.7 L1045.2 1698.4 L1046.2 1696.1 L1047.1 1693.8 L1048.1 1691.5 L1049.1 1689.2 L1050.1 1686.9 L1051.1 1684.6 L1052.2 1682.3 L1053.2 1680.1 L1054.3 1677.8 L1055.5 1675.6 L1056.6 1673.4 L1057.8 1671.2 L1058.9 1669.0 L1060.2 1666.8 L1061.4 1664.6 L1062.7 1662.5 L1064.0 1660.3 L1065.4 1658.2 L1066.7 1656.2 L1068.1 1654.1 L1069.6 1652.0 L1071.1 1650.0 L1072.6 1648.0 L1074.1 1646.1 L1075.7 1644.1 L1077.3 1642.2 L1078.9 1640.3 L1080.5 1638.4 L1082.1 1636.5 L1083.8 1634.6 L1085.5 1632.8 L1087.2 1630.9 L1088.9 1629.1 L1090.6 1627.3 L1092.4 1625.5 L1094.1 1623.7 L1095.9 1621.9 L1097.6 1620.1 L1099.4 1618.4 L1101.1 1616.6 L1102.9 1614.8 L1104.6 1613.0 L1106.4 1611.3 L1108.2 1609.5 L1109.9 1607.7 L1111.7 1605.9 L1113.4 1604.1 L1115.2 1602.4 L1116.9 1600.6 L1118.7 1598.8 L1120.4 1597.0 L1122.2 1595.2 L1124.0 1593.5 L1125.7 1591.7 L1127.5 1589.9 L1129.3 1588.1 L1131.0 1586.4 L1132.8 1584.6 L1134.6 1582.9 L1136.4 1581.1 L1138.2 1579.4 L1140.0 1577.7 L1141.8 1575.9 L1143.6 1574.2 L1145.4 1572.5 L1147.2 1570.8 L1149.1 1569.1 L1151.1 1567.6 L1153.1 1566.1 L1155.2 1564.7 L1157.3 1563.4 L1159.6 1562.3 L1161.9 1561.4 L1164.3 1560.6 L1166.7 1560.1 L1169.2 1559.8 L1171.7 1559.7 L1174.2 1559.9 L1176.6 1560.4 L1179.0 1561.2 L1181.3 1562.2 L1183.4 1563.5 L1185.4 1565.0 L1187.3 1566.6 L1189.1 1568.4 L1190.7 1570.3 L1192.1 1572.3 L1193.5 1574.4 L1194.7 1576.6 L1195.9 1578.8 L1197.0 1581.1 L1198.0 1583.4 L1198.9 1585.7 L1199.9 1588.0 L1200.8 1590.3 L1201.7 1592.7 L1202.5 1595.0 L1203.4 1597.3 L1204.3 1599.7 L1205.1 1602.0 L1205.9 1604.4 L1206.7 1606.8 L1207.5 1609.1 L1208.3 1611.5 L1209.1 1613.9 L1209.8 1616.3 L1210.5 1618.7 L1211.3 1621.1 L1212.0 1623.5 L1212.7 1625.9 L1213.3 1628.3 L1214.0 1630.7 L1214.7 1633.1 L1215.4 1635.5 L1216.0 1637.9 L1216.7 1640.3 L1217.4 1642.7 L1218.0 1645.1 L1218.7 1647.6 L1219.3 1650.0 L1220.0 1652.4 L1220.6 1654.8 L1221.3 1657.2 L1221.9 1659.6 L1222.6 1662.0 L1223.2 1664.5 L1223.8 1666.9 L1224.5 1669.3 L1225.1 1671.7 L1225.7 1674.1 L1226.4 1676.5 L1227.0 1679.0 L1227.6 1681.4 L1228.3 1683.8 L1228.9 1686.2 L1229.5 1688.6 L1230.1 1691.1 L1230.7 1693.5 L1231.4 1695.9 L1232.0 1698.3 L1232.6 1700.8 L1233.2 1703.2 L1233.9 1705.6 L1234.5 1708.0 L1235.1 1710.4 L1235.7 1712.9 L1236.4 1715.3 L1237.0 1717.7 L1237.7 1720.1 L1238.3 1722.5 L1239.0 1724.9 L1239.6 1727.3 L1240.3 1729.7 L1241.0 1732.2 L1241.7 1734.6 L1242.4 1737.0 L1243.1 1739.3 L1243.9 1741.7 L1244.6 1744.1 L1245.3 1746.5 L1246.1 1748.9 L1246.9 1751.3 L1247.6 1753.7 L1248.4 1756.0 L1249.2 1758.4 L1250.0 1760.8 L1250.9 1763.1 L1251.7 1765.5 L1252.5 1767.8 L1253.4 1770.2 L1254.2 1772.5 L1255.1 1774.9 L1255.9 1777.2 L1256.8 1779.6 L1257.7 1781.9 L1258.6 1784.3 L1259.4 1786.6 L1260.3 1788.9 L1261.2 1791.3 L1262.1 1793.6 L1263.0 1795.9 L1263.9 1798.3 L1264.8 1800.6 L1265.7 1802.9 L1266.7 1805.3 L1267.6 1807.6 L1268.5 1809.9 L1269.4 1812.2 L1270.3 1814.6 L1271.3 1816.9 L1272.2 1819.2 L1273.1 1821.5 L1274.1 1823.8 L1275.0 1826.1 L1276.0 1828.5 L1276.9 1830.8 L1277.9 1833.1 L1278.8 1835.4 L1279.8 1837.7 L1280.8 1840.0 L1281.7 1842.3 L1282.7 1844.6 L1283.7 1846.9 L1284.6 1849.2 L1285.6 1851.5 L1286.6 1853.8 L1287.6 1856.1 L1288.6 1858.4 L1289.5 1860.7 L1290.5 1863.0 L1291.5 1865.3 L1292.5 1867.6 L1293.5 1869.9 L1294.5 1872.2 L1295.5 1874.5 L1296.4 1876.8 L1297.4 1879.1 L1298.4 1881.4 L1299.4 1883.7 L1300.4 1886.0 L1301.4 1888.3 L1302.4 1890.6 L1303.4 1892.9 L1304.3 1895.2 L1305.3 1897.5 L1306.3 1899.8 L1307.3 1902.1 L1308.3 1904.4 L1309.2 1906.7 L1310.2 1909.0 L1311.2 1911.3 L1312.2 1913.6 L1313.1 1915.9 L1314.1 1918.2 L1315.0 1920.5 L1316.0 1922.8 L1316.9 1925.1 L1317.9 1927.5 L1318.8 1929.8 L1319.7 1932.1 L1320.6 1934.4 L1321.5 1936.8 L1322.4 1939.1 L1323.3 1941.4 L1324.2 1943.8 L1325.1 1946.1 L1325.9 1948.5 L1326.8 1950.8 L1327.6 1953.2 L1328.4 1955.5 L1329.2 1957.9 L1330.0 1960.3 L1330.8 1962.6 L1331.6 1965.0 L1332.3 1967.4 L1333.1 1969.8 L1333.8 1972.2 L1334.6 1974.6 L1335.3 1977.0 L1336.0 1979.4 L1336.7 1981.8 L1337.3 1984.2 L1338.0 1986.6 L1338.7 1989.0 L1339.3 1991.4 L1339.9 1993.8 L1340.6 1996.3 L1341.2 1998.7 L1341.8 2001.1 L1342.4 2003.5 L1342.9 2006.0 L1343.5 2008.4 L1344.1 2010.8 L1344.6 2013.3 L1345.1 2015.7 L1345.7 2018.2 L1346.2 2020.6 L1346.7 2023.1 L1347.2 2025.5 L1347.6 2028.0 L1348.1 2030.4 L1348.6 2032.9 L1349.0 2035.3 L1349.5 2037.8 L1349.9 2040.3 L1350.3 2042.7 L1350.8 2045.2 L1351.2 2047.7 L1351.6 2050.1 L1352.0 2052.6 L1352.4 2055.1 L1352.8 2057.5 L1353.2 2060.0 L1353.6 2062.5 L1354.0 2064.9 L1354.4 2067.4 L1354.7 2069.9 L1355.1 2072.3 L1355.5 2074.8 L1355.9 2077.3 L1356.2 2079.8 L1356.6 2082.2 L1357.0 2084.7 L1357.3 2087.2 L1357.7 2089.7 L1358.1 2092.1 L1358.4 2094.6 L1358.8 2097.1 L1359.2 2099.5 L1359.5 2102.0 L1359.9 2104.5 L1360.2 2107.0 L1360.6 2109.4 L1361.0 2111.9 L1361.3 2114.4 L1361.7 2116.9 L1362.1 2119.3 L1362.4 2121.8 L1362.8 2124.3 L1363.1 2126.8 L1363.5 2129.2 L1363.9 2131.7 L1364.2 2134.2 L1364.6 2136.7 L1365.0 2139.1 L1365.3 2141.6 L1365.7 2144.1 L1366.1 2146.5 L1366.4 2149.0 L1366.8 2151.5 L1367.2 2154.0 L1367.5 2156.4 L1367.9 2158.9 L1368.3 2161.4 L1368.6 2163.9 L1369.0 2166.3 L1369.4 2168.8 L1369.8 2171.3 L1370.1 2173.7 L1370.5 2176.2 L1370.9 2178.7 L1371.2 2181.2 L1371.6 2183.6 L1372.0 2186.1 L1372.3 2188.6 L1372.7 2191.1 L1373.1 2193.5 L1373.4 2196.0 L1373.8 2198.5 L1374.2 2200.9 L1374.6 2203.4 L1374.9 2205.9 L1375.3 2208.4 L1375.7 2210.8 L1376.0 2213.3 L1376.4 2215.8 L1376.8 2218.3 L1377.1 2220.7 L1377.5 2223.2 L1377.9 2225.7 L1378.3 2228.1 L1378.6 2230.6 L1379.0 2233.1 L1379.4 2235.6 L1379.8 2238.0 L1380.2 2240.5 L1380.5 2243.0 L1380.9 2245.4 L1381.3 2247.9 L1381.7 2250.4 L1382.1 2252.8 L1382.5 2255.3 L1382.9 2257.8 L1383.3 2260.2 L1383.8 2262.7 L1384.2 2265.2 L1384.6 2267.6 L1385.0 2270.1 L1385.5 2272.6 L1385.9 2275.0 L1386.3 2277.5 L1386.8 2279.9 L1387.2 2282.4 L1387.7 2284.9 L1388.1 2287.3 L1388.6 2289.8 L1389.1 2292.2 L1389.6 2294.7 L1390.0 2297.1 L1390.5 2299.6 L1391.0 2302.0 L1391.5 2304.5 L1392.0 2306.9 L1392.5 2309.4 L1393.1 2311.8 L1393.6 2314.3 L1394.1 2316.7 L1394.7 2319.2 L1395.2 2321.6 L1395.8 2324.0 L1396.3 2326.5 L1396.9 2328.9 L1397.5 2331.3 L1398.0 2333.8 L1398.6 2336.2 L1399.2 2338.6 L1399.8 2341.1 L1400.5 2343.5 L1401.1 2345.9 L1401.7 2348.3 L1402.3 2350.7 L1403.0 2353.2 L1403.6 2355.6 L1404.3 2358.0 L1404.9 2360.4 L1405.6 2362.8 L1406.3 2365.2 L1406.9 2367.6 L1407.6 2370.0 L1408.3 2372.4 L1409.0 2374.8 L1409.7 2377.2 L1410.4 2379.6 L1411.1 2382.0 L1411.9 2384.4 L1412.6 2386.8 L1413.3 2389.2 L1414.1 2391.6 L1414.8 2394.0 L1415.6 2396.4 L1416.4 2398.7 L1417.1 2401.1 L1417.9 2403.5 L1418.7 2405.9 L1419.5 2408.2 L1420.3 2410.6 L1421.2 2412.9 L1422.0 2415.3 L1422.8 2417.6 L1423.7 2420.0 L1424.6 2422.3 L1425.5 2424.7 L1426.4 2427.0 L1427.3 2429.3 L1428.2 2431.7 L1429.1 2434.0 L1430.1 2436.3 L1431.1 2438.6 L1432.1 2440.9 L1433.1 2443.2 L1434.1 2445.4 L1435.2 2447.7 L1436.2 2450.0 L1437.3 2452.2 L1438.4 2454.5 L1439.6 2456.7 L1440.7 2458.9 L1441.9 2461.1 L1443.1 2463.3 L1444.4 2465.5 L1445.7 2467.6 L1447.0 2469.7 L1448.3 2471.8 L1449.7 2473.9 L1451.1 2476.0 L1452.5 2478.0 L1454.0 2480.1 L1455.5 2482.0 L1457.1 2484.0 L1458.7 2485.9 L1460.3 2487.8 L1462.0 2489.7 L1463.7 2491.5 L1465.5 2493.3 L1467.3 2495.0 L1469.1 2496.7 L1471.0 2498.4 L1472.9 2500.0 L1474.8 2501.5 L1476.8 2503.0 L1478.9 2504.5 L1481.0 2505.9 L1483.1 2507.2 L1485.2 2508.4 L1487.4 2509.6 L1489.7 2510.8 L1491.9 2511.8 L1494.2 2512.9 L1496.5 2513.8 L1498.9 2514.7 L1501.2 2515.5 L1503.6 2516.3 L1506.0 2517.0 L1508.4 2517.7 L1510.8 2518.3 L1513.2 2518.9 L1515.7 2519.5 L1518.1 2520.0 L1520.6 2520.5 L1523.0 2521.0 L1525.5 2521.4 L1527.9 2521.8 L1530.4 2522.2 L1532.9 2522.6 L1535.4 2522.9 L1537.9 2523.2 L1540.3 2523.5 L1542.8 2523.8 L1545.3 2524.0 L1547.8 2524.3 L1550.3 2524.5 L1552.8 2524.7 L1555.3 2524.9 L1557.8 2525.1 L1560.3 2525.3 L1562.8 2525.4 L1565.2 2525.6 L1567.7 2525.7 L1570.2 2525.8 L1572.7 2526.0 L1575.2 2526.1 L1577.7 2526.2 L1580.2 2526.3 L1582.7 2526.4 L1585.2 2526.5 L1587.7 2526.6 L1590.2 2526.7 L1592.7 2526.8 L1595.2 2526.9 L1597.7 2527.0 L1600.2 2527.0 L1602.7 2527.1 L1605.2 2527.2 L1607.7 2527.2 L1610.2 2527.3 L1612.7 2527.4 L1615.2 2527.4 L1617.7 2527.5 L1620.2 2527.5 L1622.7 2527.6 L1625.2 2527.6 L1627.7 2527.7 L1630.2 2527.7 L1632.7 2527.8 L1635.2 2527.8 L1637.7 2527.8 L1640.2 2527.9 L1642.7 2527.9 L1645.2 2527.9 L1647.7 2528.0 L1650.2 2528.0 L1652.7 2528.0 L1655.2 2528.0 L1657.7 2528.1 L1660.2 2528.1 L1662.7 2528.1 L1665.2 2528.1 L1667.7 2528.2 L1670.2 2528.2 L1672.7 2528.2 L1675.2 2528.2 L1677.7 2528.2 L1680.2 2528.3 L1682.7 2528.3 L1685.2 2528.3 L1687.7 2528.3 L1690.2 2528.3 L1692.7 2528.3 L1695.2 2528.4 L1697.7 2528.4 L1700.2 2528.4 L1702.7 2528.4 L1705.2 2528.5 L1707.7 2528.5 L1710.2 2528.5 L1712.7 2528.5 L1715.2 2528.5 L1717.7 2528.6 L1720.2 2528.6 L1722.7 2528.6 L1725.2 2528.6 L1727.7 2528.7 L1730.2 2528.7 L1732.7 2528.7 L1735.2 2528.7 L1737.7 2528.8 L1740.2 2528.8 L1742.7 2528.8 L1745.2 2528.8 L1747.7 2528.9 L1750.2 2528.9 L1752.7 2528.9 L1755.2 2529.0 L1757.7 2529.0 L1760.2 2529.0 L1762.7 2529.0 L1765.2 2529.1 L1767.7 2529.1 L1770.2 2529.1 L1772.7 2529.2 L1775.2 2529.2 L1777.7 2529.2 L1780.2 2529.3 L1782.7 2529.3 L1785.2 2529.3 L1787.7 2529.3 L1790.2 2529.4 L1792.7 2529.4 L1795.2 2529.4 L1797.7 2529.5 L1800.2 2529.5 L1802.7 2529.5 L1805.2 2529.6 L1807.7 2529.6" stroke="#00ff00"/>
<path d="M204.8 1917.3 L205.7 1915.0 L206.6 1912.7 L207.5 1910.3 L208.4 1908.0 L209.3 1905.7 L210.3 1903.3 L211.2 1901.0 L212.0 1898.7 L212.9 1896.3 L213.8 1894.0 L214.7 1891.7 L215.6 1889.3 L216.5 1887.0 L217.3 1884.6 L218.2 1882.3 L219.1 1879.9 L219.9 1877.6 L220.8 1875.2 L221.6 1872.9 L222.5 1870.5 L223.4 1868.2 L224.2 1865.8 L225.1 1863.5 L225.9 1861.1 L226.8 1858.8 L227.6 1856.4 L228.5 1854.1 L229.3 1851.7 L230.2 1849.4 L231.0 1847.0 L231.8 1844.7 L232.7 1842.3 L233.5 1839.9 L234.4 1837.6 L235.2 1835.2 L236.1 1832.9 L236.9 1830.5 L237.8 1828.2 L238.6 1825.8 L239.5 1823.5 L240.4 1821.1 L241.2 1818.8 L242.1 1816.4 L242.9 1814.1 L243.8 1811.7 L244.6 1809.4 L245.5 1807.0 L246.3 1804.7 L247.2 1802.3 L248.1 1800.0 L248.9 1797.6 L249.8 1795.3 L250.6 1792.9 L251.4 1790.6 L252.3 1788.2 L253.1 1785.8 L254.0 1783.5 L254.8 1781.1 L255.6 1778.8 L256.4 1776.4 L257.2 1774.0 L258.0 1771.7 L258.9 1769.3 L259.7 1766.9 L260.5 1764.6 L261.2 1762.2 L262.0 1759.8 L262.8 1757.4 L263.6 1755.1 L264.4 1752.7 L265.2 1750.3 L266.0 1747.9 L266.7 1745.6 L267.5 1743.2 L268.3 1740.8 L269.1 1738.4 L269.8 1736.0 L270.6 1733.7 L271.4 1731.3 L272.2 1728.9 L273.0 1726.5 L273.7 1724.2 L274.5 1721.8 L275.3 1719.4 L276.1 1717.0 L276.9 1714.7 L277.7 1712.3 L278.5 1709.9 L279.3 1707.5 L280.1 1705.2 L280.9 1702.8 L281.7 1700.4 L282.5 1698.1 L283.3 1695.7 L284.1 1693.3 L284.9 1691.0 L285.7 1688.6 L286.6 1686.2 L287.4 1683.9 L288.2 1681.5 L289.0 1679.2 L289.9 1676.8 L290.7 1674.4 L291.6 1672.1 L292.4 1669.7 L293.3 1667.4 L294.2 1665.0 L295.0 1662.7 L295.9 1660.4 L296.8 1658.0 L297.8 1655.7 L298.7 1653.4 L299.6 1651.1 L300.6 1648.8 L301.6 1646.5 L302.6 1644.2 L303.6 1641.9 L304.6 1639.6 L305.6 1637.3 L306.7 1635.0 L307.7 1632.8 L308.8 1630.5 L310.0 1628.3 L311.2 1626.1 L312.5 1624.0 L313.8 1621.9 L315.3 1619.8 L316.9 1617.9 L318.6 1616.1 L320.5 1614.4 L322.5 1612.9 L324.6 1611.7 L326.9 1610.7 L329.4 1610.1 L331.8 1609.8 L334.3 1610.1 L336.7 1610.8 L339.0 1611.9 L341.0 1613.3 L343.0 1614.9 L344.7 1616.6 L346.3 1618.6 L347.8 1620.6 L349.1 1622.7 L350.3 1624.9 L351.3 1627.2 L352.3 1629.5 L353.2 1631.8 L354.1 1634.2 L354.9 1636.6 L355.6 1638.9 L356.4 1641.3 L357.1 1643.7 L357.9 1646.1 L358.6 1648.5 L359.4 1650.9 L360.1 1653.3 L360.8 1655.7 L361.5 1658.1 L362.2 1660.5 L362.8 1662.9 L363.5 1665.3 L364.1 1667.7 L364.8 1670.1 L365.4 1672.6 L366.0 1675.0 L366.7 1677.4 L367.3 1679.8 L367.9 1682.3 L368.5 1684.7 L369.1 1687.1 L369.7 1689.5 L370.3 1692.0 L370.9 1694.4 L371.5 1696.8 L372.1 1699.3 L372.7 1701.7 L373.3 1704.1 L373.9 1706.5 L374.4 1709.0 L375.0 1711.4 L375.6 1713.9 L376.2 1716.3 L376.7 1718.7 L377.3 1721.2 L377.9 1723.6 L378.4 1726.0 L379.0 1728.5 L379.5 1730.9 L380.1 1733.4 L380.6 1735.8 L381.2 1738.2 L381.7 1740.7 L382.3 1743.1 L382.8 1745.6 L383.4 1748.0 L383.9 1750.4 L384.5 1752.9 L385.0 1755.3 L385.5 1757.8 L386.1 1760.2 L386.6 1762.7 L387.1 1765.1 L387.6 1767.5 L388.2 1770.0 L388.7 1772.4 L389.2 1774.9 L389.7 1777.3 L390.2 1779.8 L390.7 1782.2 L391.2 1784.7 L391.7 1787.2 L392.1 1789.6 L392.6 1792.1 L393.1 1794.5 L393.5 1797.0 L394.0 1799.4 L394.5 1801.9 L394.9 1804.4 L395.4 1806.8 L395.8 1809.3 L396.2 1811.7 L396.7 1814.2 L397.1 1816.7 L397.5 1819.1 L398.0 1821.6 L398.4 1824.1 L398.8 1826.5 L399.2 1829.0 L399.7 1831.5 L400.1 1833.9 L400.5 1836.4 L400.9 1838.9 L401.3 1841.3 L401.7 1843.8 L402.1 1846.3 L402.5 1848.7 L402.9 1851.2 L403.3 1853.7 L403.7 1856.2 L404.1 1858.6 L404.5 1861.1 L404.9 1863.6 L405.3 1866.0 L405.6 1868.5 L406.0 1871.0 L406.4 1873.5 L406.8 1875.9 L407.2 1878.4 L407.5 1880.9 L407.9 1883.3 L408.3 1885.8 L408.6 1888.3 L409.0 1890.8 L409.4 1893.2 L409.7 1895.7 L410.1 1898.2 L410.5 1900.7 L410.8 1903.1 L411.2 1905.6 L411.5 1908.1 L411.9 1910.6 L412.2 1913.1 L412.6 1915.5 L412.9 1918.0 L413.3 1920.5 L413.6 1923.0 L413.9 1925.4 L414.3 1927.9 L414.6 1930.4 L415.0 1932.9 L415.3 1935.4 L415.6 1937.8 L416.0 1940.3 L416.3 1942.8 L416.6 1945.3 L417.0 1947.8 L417.3 1950.2 L417.6 1952.7 L417.9 1955.2 L418.3 1957.7 L418.6 1960.2 L418.9 1962.6 L419.3 1965.1 L419.6 1967.6 L419.9 1970.1 L420.3 1972.6 L420.6 1975.0 L420.9 1977.5 L421.2 1980.0 L421.6 1982.5 L421.9 1985.0 L422.2 1987.4 L422.6 1989.9 L422.9 1992.4 L423.2 1994.9 L423.5 1997.4 L423.8 1999.8 L424.2 2002.3 L424.5 2004.8 L424.8 2007.3 L425.1 2009.8 L425.4 2012.2 L425.8 2014.7 L426.1 2017.2 L426.4 2019.7 L426.7 2022.2 L427.0 2024.7 L427.3 2027.1 L427.6 2029.6 L427.9 2032.1 L428.2 2034.6 L428.5 2037.1 L428.8 2039.6 L429.1 2042.0 L429.4 2044.5 L429.7 2047.0 L430.0 2049.5 L430.3 2052.0 L430.6 2054.5 L430.9 2056.9 L431.2 2059.4 L431.5 2061.9 L431.8 2064.4 L432.1 2066.9 L432.4 2069.4 L432.7 2071.8 L433.0 2074.3 L433.4 2076.8 L433.7 2079.3 L434.0 2081.8 L434.3 2084.2 L434.6 2086.7 L434.9 2089.2 L435.3 2091.7 L435.6 2094.2 L435.9 2096.6 L436.2 2099.1 L436.6 2101.6 L436.9 2104.1 L437.3 2106.6 L437.6 2109.0 L437.9 2111.5 L438.3 2114.0 L438.6 2116.5 L439.0 2119.0 L439.3 2121.4 L439.7 2123.9 L440.0 2126.4 L440.3 2128.9 L440.7 2131.3 L441.0 2133.8 L441.4 2136.3 L441.7 2138.8 L442.1 2141.3 L442.4 2143.7 L442.8 2146.2 L443.1 2148.7 L443.4 2151.2 L443.8 2153.6 L444.1 2156.1 L444.4 2158.6 L444.8 2161.1 L445.1 2163.6 L445.4 2166.0 L445.8 2168.5 L446.1 2171.0 L446.4 2173.5 L446.8 2176.0 L447.1 2178.4 L447.4 2180.9 L447.8 2183.4 L448.1 2185.9 L448.4 2188.4 L448.7 2190.8 L449.1 2193.3 L449.4 2195.8 L449.7 2198.3 L450.1 2200.8 L450.4 2203.2 L450.7 2205.7 L451.1 2208.2 L451.4 2210.7 L451.8 2213.2 L452.1 2215.6 L452.4 2218.1 L452.8 2220.6 L453.1 2223.1 L453.5 2225.5 L453.9 2228.0 L454.2 2230.5 L454.6 2233.0 L454.9 2235.4 L455.3 2237.9 L455.7 2240.4 L456.0 2242.9 L456.4 2245.3 L456.8 2247.8 L457.2 2250.3 L457.6 2252.8 L458.0 2255.2 L458.3 2257.7 L458.7 2260.2 L459.1 2262.6 L459.5 2265.1 L459.9 2267.6 L460.3 2270.0 L460.7 2272.5 L461.1 2275.0 L461.5 2277.5 L461.9 2279.9 L462.3 2282.4 L462.7 2284.9 L463.1 2287.3 L463.6 2289.8 L464.0 2292.3 L464.4 2294.7 L464.8 2297.2 L465.2 2299.7 L465.6 2302.1 L466.0 2304.6 L466.5 2307.1 L466.9 2309.5 L467.3 2312.0 L467.8 2314.5 L468.2 2316.9 L468.7 2319.4 L469.1 2321.8 L469.6 2324.3 L470.1 2326.7 L470.6 2329.2 L471.1 2331.6 L471.6 2334.1 L472.1 2336.5 L472.7 2339.0 L473.2 2341.4 L473.8 2343.9 L474.4 2346.3 L475.0 2348.7 L475.6 2351.1 L476.3 2353.6 L476.9 2356.0 L477.6 2358.4 L478.3 2360.8 L479.0 2363.2 L479.8 2365.6 L480.6 2367.9 L481.4 2370.3 L482.2 2372.7 L483.0 2375.0 L483.9 2377.4 L484.8 2379.7 L485.8 2382.0 L486.7 2384.3 L487.7 2386.6 L488.8 2388.9 L489.8 2391.2 L490.9 2393.4 L492.0 2395.6 L493.2 2397.9 L494.4 2400.0 L495.7 2402.2 L496.9 2404.4 L498.3 2406.5 L499.7 2408.6 L501.1 2410.6 L502.6 2412.6 L504.2 2414.6 L505.8 2416.5 L507.4 2418.3 L509.2 2420.1 L511.0 2421.9 L512.9 2423.5 L514.8 2425.1 L516.8 2426.6 L518.9 2427.9 L521.1 2429.2 L523.3 2430.3 L525.6 2431.4 L527.9 2432.3 L530.3 2433.0 L532.7 2433.7 L535.2 2434.2 L537.7 2434.5 L540.1 2434.7 L542.6 2434.8 L545.1 2434.7 L547.6 2434.6 L550.1 2434.3 L552.6 2433.9 L555.1 2433.5 L557.5 2433.0 L560.0 2432.5 L562.4 2432.0 L564.9 2431.6 L567.3 2431.1 L569.8 2430.6 L572.3 2430.2 L574.7 2429.7 L577.2 2429.3 L579.6 2428.8 L582.1 2428.4 L584.6 2427.9 L587.0 2427.5 L589.5 2427.0 L591.9 2426.5 L594.4 2426.1 L596.9 2425.6 L599.3 2425.1 L601.8 2424.6 L604.2 2424.2 L606.7 2423.7 L609.1 2423.1 L611.6 2422.6 L614.0 2422.1 L616.4 2421.5 L618.9 2420.9 L621.3 2420.3 L623.7 2419.6 L626.1 2418.9 L628.5 2418.1 L630.8 2417.3 L633.2 2416.4 L635.5 2415.5 L637.8 2414.5 L640.1 2413.5 L642.4 2412.5 L644.6 2411.4 L646.9 2410.3 L649.1 2409.1 L651.3 2407.9 L653.5 2406.7 L655.6 2405.4 L657.8 2404.1 L659.9 2402.8 L662.0 2401.4 L664.1 2400.1 L666.1 2398.6 L668.2 2397.2 L670.2 2395.8 L672.2 2394.3 L674.2 2392.8 L676.2 2391.2 L678.2 2389.7 L680.1 2388.1 L682.1 2386.5 L684.0 2384.9 L685.9 2383.3 L687.8 2381.7 L689.7 2380.0 L691.5 2378.4 L693.4 2376.7 L695.3 2375.0 L697.1 2373.3 L698.9 2371.6 L700.8 2369.9 L702.6 2368.2 L704.4 2366.5 L706.2 2364.7 L708.0 2363.0 L709.8 2361.2 L711.5 2359.5 L713.3 2357.7 L715.0 2355.9 L716.8 2354.1 L718.5 2352.3 L720.2 2350.5 L721.9 2348.6 L723.6 2346.7 L725.2 2344.9 L726.8 2343.0 L728.5 2341.1 L730.0 2339.1 L731.6 2337.2 L733.2 2335.2 L734.7 2333.2 L736.2 2331.2 L737.7 2329.2 L739.2 2327.2 L740.6 2325.2 L742.0 2323.1 L743.4 2321.0 L744.8 2319.0 L746.2 2316.9 L747.6 2314.8 L748.9 2312.7 L750.2 2310.5 L751.6 2308.4 L752.9 2306.3 L754.1 2304.1 L755.4 2302.0 L756.7 2299.8 L757.9 2297.6 L759.1 2295.5 L760.4 2293.3 L761.6 2291.1 L762.8 2288.9 L764.0 2286.7 L765.1 2284.5 L766.3 2282.3 L767.5 2280.1 L768.6 2277.8 L769.8 2275.6 L770.9 2273.4 L772.0 2271.2 L773.1 2268.9 L774.3 2266.7 L775.4 2264.4 L776.5 2262.2 L777.5 2259.9 L778.6 2257.7 L779.7 2255.4 L780.8 2253.2 L781.9 2250.9 L783.0 2248.7 L784.1 2246.4 L785.1 2244.2 L786.2 2241.9 L787.3 2239.6 L788.4 2237.4 L789.5 2235.1 L790.6 2232.9 L791.7 2230.7 L792.8 2228.4 L793.9 2226.2 L795.0 2223.9 L796.2 2221.7 L797.3 2219.5 L798.4 2217.2 L799.6 2215.0 L800.7 2212.8 L801.8 2210.5 L803.0 2208.3 L804.1 2206.1 L805.2 2203.9 L806.4 2201.6 L807.5 2199.4 L808.6 2197.2 L809.8 2194.9 L810.9 2192.7 L812.0 2190.5 L813.2 2188.2 L814.3 2186.0 L815.4 2183.8 L816.5 2181.5 L817.6 2179.3 L818.7 2177.0 L819.8 2174.8 L820.8 2172.5 L821.9 2170.2 L823.0 2168.0 L824.0 2165.7 L825.1 2163.4 L826.1 2161.2 L827.1 2158.9 L828.2 2156.6 L829.2 2154.3 L830.2 2152.0 L831.2 2149.7 L832.2 2147.4 L833.1 2145.1 L834.1 2142.8 L835.1 2140.5 L836.0 2138.2 L837.0 2135.9 L837.9 2133.6 L838.8 2131.2 L839.7 2128.9 L840.7 2126.6 L841.6 2124.2 L842.5 2121.9 L843.4 2119.6 L844.3 2117.2 L845.1 2114.9 L846.0 2112.6 L846.9 2110.2 L847.8 2107.9 L848.6 2105.5 L849.5 2103.2 L850.4 2100.8 L851.2 2098.5 L852.1 2096.1 L852.9 2093.8 L853.7 2091.4 L854.6 2089.1 L855.4 2086.7 L856.3 2084.3 L857.1 2082.0 L857.9 2079.6 L858.7 2077.3 L859.6 2074.9 L860.4 2072.5 L861.2 2070.2 L862.0 2067.8 L862.9 2065.4 L863.7 2063.1 L864.5 2060.7 L865.3 2058.4 L866.1 2056.0 L867.0 2053.6 L867.8 2051.3 L868.6 2048.9 L869.5 2046.6 L870.3 2044.2 L871.1 2041.8 L872.0 2039.5 L872.8 2037.1 L873.6 2034.8 L874.5 2032.4 L875.3 2030.1 L876.2 2027.7 L877.0 2025.4 L877.9 2023.0 L878.8 2020.7 L879.6 2018.3 L880.5 2016.0 L881.4 2013.6 L882.3 2011.3 L883.2 2009.0 L884.1 2006.6 L885.0 2004.3 L885.9 2001.9 L886.8 1999.6 L887.7 1997.3 L888.6 1995.0 L889.5 1992.6 L890.4 1990.3 L891.3 1988.0 L892.3 1985.6 L893.2 1983.3 L894.1 1981.0 L895.0 1978.7 L895.9 1976.3 L896.9 1974.0 L897.8 1971.7 L898.7 1969.4 L899.6 1967.0 L900.5 1964.7 L901.5 1962.4 L902.4 1960.1 L903.3 1957.7 L904.2 1955.4 L905.1 1953.1 L906.0 1950.7 L906.9 1948.4 L907.8 1946.1 L908.7 1943.7 L909.6 1941.4 L910.5 1939.1 L911.4 1936.7 L912.3 1934.4 L913.2 1932.0 L914.0 1929.7 L914.9 1927.4 L915.8 1925.0 L916.6 1922.7 L917.5 1920.3 L918.4 1918.0 L919.2 1915.6 L920.1 1913.3 L920.9 1910.9 L921.8 1908.5 L922.6 1906.2 L923.4 1903.8 L924.3 1901.5 L925.1 1899.1 L925.9 1896.8 L926.7 1894.4 L927.6 1892.0 L928.4 1889.7 L929.2 1887.3 L930.0 1884.9 L930.8 1882.6 L931.6 1880.2 L932.5 1877.8 L933.3 1875.5 L934.1 1873.1 L934.9 1870.7 L935.7 1868.4 L936.6 1866.0 L937.4 1863.7 L938.2 1861.3 L939.0 1858.9 L939.9 1856.6 L940.7 1854.2 L941.5 1851.9 L942.3 1849.5 L943.2 1847.1 L944.0 1844.8 L944.8 1842.4 L945.6 1840.0 L946.4 1837.7 L947.2 1835.3 L948.1 1832.9 L948.9 1830.6 L949.7 1828.2 L950.5 1825.8 L951.3 1823.5 L952.1 1821.1 L952.9 1818.7 L953.7 1816.4 L954.5 1814.0 L955.3 1811.6 L956.1 1809.2 L956.9 1806.9 L957.7 1804.5 L958.5 1802.1 L959.3 1799.8 L960.0 1797.4 L960.8 1795.0 L961.6 1792.6 L962.4 1790.3 L963.2 1787.9 L964.0 1785.5 L964.8 1783.1 L965.5 1780.8 L966.3 1778.4 L967.1 1776.0 L967.9 1773.6 L968.6 1771.2 L969.4 1768.9 L970.1 1766.5 L970.9 1764.1 L971.7 1761.7 L972.4 1759.3 L973.2 1756.9 L973.9 1754.5 L974.7 1752.2 L975.4 1749.8 L976.2 1747.4 L977.0 1745.0 L977.8 1742.6 L978.5 1740.3 L979.3 1737.9 L980.1 1735.5 L980.9 1733.1 L981.7 1730.8 L982.5 1728.4 L983.4 1726.1 L984.2 1723.7 L985.0 1721.3 L985.9 1719.0 L986.7 1716.6 L987.6 1714.3 L988.5 1711.9 L989.4 1709.6 L990.3 1707.3 L991.1 1704.9 L992.1 1702.6 L993.0 1700.3 L993.9 1697.9 L994.8 1695.6 L995.7 1693.3 L996.7 1691.0 L997.6 1688.7 L998.6 1686.3 L999.6 1684.0 L1000.5 1681.7 L1001.5 1679.4 L1002.5 1677.1 L1003.5 1674.9 L1004.5 1672.6 L1005.5 1670.3 L1006.6 1668.0 L1007.6 1665.7 L1008.7 1663.5 L1009.8 1661.2 L1010.8 1658.9 L1011.9 1656.7 L1013.0 1654.5 L1014.2 1652.2 L1015.3 1650.0 L1016.4 1647.8 L1017.6 1645.5 L1018.8 1643.3 L1020.0 1641.1 L1021.2 1638.9 L1022.4 1636.8 L1023.6 1634.6 L1024.9 1632.4 L1026.1 1630.2 L1027.4 1628.1 L1028.7 1626.0 L1030.0 1623.8 L1031.3 1621.7 L1032.7 1619.6 L1034.0 1617.5 L1035.4 1615.4 L1036.8 1613.3 L1038.2 1611.3 L1039.7 1609.2 L1041.1 1607.2 L1042.6 1605.2 L1044.1 1603.2 L1045.6 1601.2 L1047.1 1599.2 L1048.7 1597.2 L1050.2 1595.3 L1051.8 1593.3 L1053.4 1591.4 L1055.0 1589.5 L1056.7 1587.6 L1058.3 1585.7 L1060.0 1583.9 L1061.7 1582.0 L1063.3 1580.2 L1065.0 1578.3 L1066.8 1576.5 L1068.5 1574.7 L1070.3 1572.9 L1072.1 1571.2 L1074.0 1569.5 L1075.9 1567.9 L1077.9 1566.4 L1079.9 1565.0 L1082.1 1563.8 L1084.3 1562.7 L1086.7 1561.7 L1089.0 1561.0 L1091.5 1560.4 L1094.0 1560.1 L1096.5 1560.1 L1099.0 1560.4 L1101.4 1560.9 L1103.8 1561.7 L1106.1 1562.6 L1108.3 1563.8 L1110.5 1565.1 L1112.5 1566.5 L1114.5 1568.1 L1116.3 1569.7 L1118.1 1571.5 L1119.8 1573.3 L1121.4 1575.2 L1123.0 1577.2 L1124.5 1579.2 L1125.9 1581.3 L1127.3 1583.4 L1128.6 1585.5 L1129.9 1587.6 L1131.2 1589.7 L1132.5 1591.9 L1133.8 1594.0 L1135.0 1596.2 L1136.2 1598.4 L1137.4 1600.6 L1138.6 1602.8 L1139.8 1605.0 L1140.9 1607.2 L1142.1 1609.4 L1143.2 1611.7 L1144.3 1613.9 L1145.3 1616.2 L1146.4 1618.5 L1147.4 1620.8 L1148.4 1623.0 L1149.4 1625.3 L1150.4 1627.6 L1151.4 1630.0 L1152.3 1632.3 L1153.2 1634.6 L1154.2 1636.9 L1155.1 1639.2 L1156.0 1641.6 L1156.9 1643.9 L1157.7 1646.3 L1158.6 1648.6 L1159.5 1651.0 L1160.3 1653.3 L1161.1 1655.7 L1162.0 1658.0 L1162.8 1660.4 L1163.6 1662.8 L1164.4 1665.1 L1165.2 1667.5 L1166.0 1669.9 L1166.8 1672.2 L1167.6 1674.6 L1168.4 1677.0 L1169.1 1679.4 L1169.9 1681.8 L1170.7 1684.1 L1171.4 1686.5 L1172.2 1688.9 L1172.9 1691.3 L1173.7 1693.7 L1174.4 1696.1 L1175.1 1698.5 L1175.9 1700.9 L1176.6 1703.2 L1177.3 1705.6 L1178.1 1708.0 L1178.8 1710.4 L1179.5 1712.8 L1180.2 1715.2 L1181.0 1717.6 L1181.7 1720.0 L1182.4 1722.4 L1183.1 1724.8 L1183.8 1727.2 L1184.6 1729.6 L1185.3 1732.0 L1186.0 1734.4 L1186.7 1736.8 L1187.5 1739.2 L1188.2 1741.6 L1188.9 1743.9 L1189.7 1746.3 L1190.4 1748.7 L1191.2 1751.1 L1191.9 1753.5 L1192.7 1755.9 L1193.4 1758.3 L1194.2 1760.6 L1195.0 1763.0 L1195.7 1765.4 L1196.5 1767.8 L1197.3 1770.2 L1198.1 1772.5 L1198.9 1774.9 L1199.6 1777.3 L1200.4 1779.7 L1201.2 1782.0 L1202.0 1784.4 L1202.8 1786.8 L1203.5 1789.2 L1204.3 1791.6 L1205.1 1793.9 L1205.9 1796.3 L1206.6 1798.7 L1207.4 1801.1 L1208.2 1803.5 L1208.9 1805.8 L1209.7 1808.2 L1210.4 1810.6 L1211.1 1813.0 L1211.9 1815.4 L1212.6 1817.8 L1213.3 1820.2 L1214.0 1822.6 L1214.8 1825.0 L1215.5 1827.4 L1216.2 1829.8 L1216.8 1832.2 L1217.5 1834.6 L1218.2 1837.0 L1218.9 1839.4 L1219.6 1841.8 L1220.2 1844.2 L1220.9 1846.6 L1221.5 1849.1 L1222.2 1851.5 L1222.8 1853.9 L1223.5 1856.3 L1224.1 1858.7 L1224.7 1861.2 L1225.4 1863.6 L1226.0 1866.0 L1226.6 1868.4 L1227.2 1870.8 L1227.9 1873.3 L1228.5 1875.7 L1229.1 1878.1 L1229.7 1880.5 L1230.3 1883.0 L1230.9 1885.4 L1231.5 1887.8 L1232.2 1890.2 L1232.8 1892.7 L1233.4 1895.1 L1234.0 1897.5 L1234.6 1900.0 L1235.2 1902.4 L1235.8 1904.8 L1236.4 1907.2 L1237.0 1909.7 L1237.6 1912.1 L1238.2 1914.5 L1238.8 1917.0 L1239.4 1919.4 L1240.0 1921.8 L1240.6 1924.2 L1241.1 1926.7 L1241.7 1929.1 L1242.3 1931.5 L1242.9 1934.0 L1243.5 1936.4 L1244.0 1938.8 L1244.6 1941.3 L1245.2 1943.7 L1245.7 1946.2 L1246.3 1948.6 L1246.8 1951.0 L1247.4 1953.5 L1247.9 1955.9 L1248.4 1958.4 L1249.0 1960.8 L1249.5 1963.3 L1250.0 1965.7 L1250.6 1968.1 L1251.1 1970.6 L1251.6 1973.0 L1252.1 1975.5 L1252.6 1977.9 L1253.1 1980.4 L1253.7 1982.8 L1254.2 1985.3 L1254.7 1987.7 L1255.2 1990.2 L1255.7 1992.6 L1256.2 1995.1 L1256.7 1997.5 L1257.2 2000.0 L1257.7 2002.4 L1258.3 2004.9 L1258.8 2007.3 L1259.3 2009.8 L1259.8 2012.2 L1260.3 2014.7 L1260.9 2017.1 L1261.4 2019.5 L1261.9 2022.0 L1262.5 2024.4 L1263.0 2026.9 L1263.6 2029.3 L1264.1 2031.8 L1264.7 2034.2 L1265.2 2036.6 L1265.8 2039.1 L1266.3 2041.5 L1266.9 2044.0 L1267.5 2046.4 L1268.0 2048.8 L1268.6 2051.3 L1269.1 2053.7 L1269.7 2056.1 L1270.3 2058.6 L1270.8 2061.0 L1271.4 2063.5 L1271.9 2065.9 L1272.5 2068.3 L1273.0 2070.8 L1273.6 2073.2 L1274.1 2075.7 L1274.7 2078.1 L1275.2 2080.5 L1275.7 2083.0 L1276.2 2085.4 L1276.8 2087.9 L1277.3 2090.3 L1277.8 2092.8 L1278.3 2095.2 L1278.8 2097.7 L1279.3 2100.1 L1279.8 2102.6 L1280.3 2105.0 L1280.7 2107.5 L1281.2 2110.0 L1281.7 2112.4 L1282.2 2114.9 L1282.6 2117.3 L1283.1 2119.8 L1283.5 2122.2 L1284.0 2124.7 L1284.4 2127.2 L1284.9 2129.6 L1285.3 2132.1 L1285.8 2134.6 L1286.2 2137.0 L1286.7 2139.5 L1287.1 2141.9 L1287.5 2144.4 L1288.0 2146.9 L1288.4 2149.3 L1288.8 2151.8 L1289.3 2154.3 L1289.7 2156.7 L1290.1 2159.2 L1290.5 2161.7 L1291.0 2164.1 L1291.4 2166.6 L1291.8 2169.0 L1292.2 2171.5 L1292.7 2174.0 L1293.1 2176.4 L1293.5 2178.9 L1294.0 2181.4 L1294.4 2183.8 L1294.8 2186.3 L1295.2 2188.8 L1295.7 2191.2 L1296.1 2193.7 L1296.5 2196.2 L1297.0 2198.6 L1297.4 2201.1 L1297.8 2203.6 L1298.2 2206.0 L1298.7 2208.5 L1299.1 2211.0 L1299.5 2213.4 L1300.0 2215.9 L1300.4 2218.3 L1300.8 2220.8 L1301.2 2223.3 L1301.7 2225.7 L1302.1 2228.2 L1302.5 2230.7 L1303.0 2233.1 L1303.4 2235.6 L1303.9 2238.1 L1304.3 2240.5 L1304.8 2243.0 L1305.2 2245.4 L1305.7 2247.9 L1306.1 2250.4 L1306.6 2252.8 L1307.0 2255.3 L1307.5 2257.7 L1308.0 2260.2 L1308.4 2262.6 L1308.9 2265.1 L1309.4 2267.6 L1309.9 2270.0 L1310.4 2272.5 L1310.9 2274.9 L1311.4 2277.4 L1311.9 2279.8 L1312.4 2282.3 L1312.9 2284.7 L1313.5 2287.1 L1314.0 2289.6 L1314.5 2292.0 L1315.1 2294.5 L1315.7 2296.9 L1316.2 2299.3 L1316.8 2301.8 L1317.4 2304.2 L1318.0 2306.6 L1318.6 2309.1 L1319.2 2311.5 L1319.8 2313.9 L1320.5 2316.3 L1321.1 2318.8 L1321.7 2321.2 L1322.4 2323.6 L1323.1 2326.0 L1323.8 2328.4 L1324.4 2330.8 L1325.1 2333.2 L1325.9 2335.6 L1326.6 2338.0 L1327.3 2340.4 L1328.0 2342.8 L1328.8 2345.2 L1329.5 2347.6 L1330.2 2350.0 L1331.0 2352.4 L1331.8 2354.7 L1332.5 2357.1 L1333.3 2359.5 L1334.1 2361.9 L1334.8 2364.3 L1335.6 2366.6 L1336.4 2369.0 L1337.2 2371.4 L1338.0 2373.8 L1338.8 2376.1 L1339.6 2378.5 L1340.4 2380.9 L1341.2 2383.2 L1342.0 2385.6 L1342.8 2388.0 L1343.7 2390.3 L1344.5 2392.7 L1345.4 2395.0 L1346.2 2397.4 L1347.1 2399.7 L1348.0 2402.1 L1348.9 2404.4 L1349.8 2406.7 L1350.7 2409.0 L1351.7 2411.4 L1352.6 2413.7 L1353.6 2416.0 L1354.6 2418.3 L1355.6 2420.5 L1356.7 2422.8 L1357.8 2425.1 L1358.8 2427.3 L1360.0 2429.6 L1361.1 2431.8 L1362.3 2434.0 L1363.4 2436.2 L1364.7 2438.4 L1365.9 2440.6 L1367.2 2442.7 L1368.5 2444.8 L1369.8 2447.0 L1371.2 2449.1 L1372.6 2451.1 L1374.1 2453.2 L1375.5 2455.2 L1377.0 2457.2 L1378.6 2459.2 L1380.2 2461.1 L1381.8 2463.0 L1383.4 2464.9 L1385.1 2466.7 L1386.9 2468.5 L1388.6 2470.3 L1390.4 2472.0 L1392.3 2473.7 L1394.2 2475.4 L1396.1 2477.0 L1398.1 2478.5 L1400.1 2480.0 L1402.1 2481.5 L1404.2 2482.9 L1406.3 2484.2 L1408.4 2485.5 L1410.6 2486.8 L1412.8 2488.0 L1415.0 2489.1 L1417.2 2490.2 L1419.5 2491.3 L1421.8 2492.3 L1424.1 2493.2 L1426.5 2494.1 L1428.8 2494.9 L1431.2 2495.7 L1433.6 2496.5 L1436.0 2497.2 L1438.4 2497.9 L1440.8 2498.6 L1443.2 2499.2 L1445.6 2499.8 L1448.1 2500.4 L1450.5 2500.9 L1453.0 2501.4 L1455.4 2501.9 L1457.9 2502.3 L1460.3 2502.8 L1462.8 2503.2 L1465.3 2503.5 L1467.8 2503.9 L1470.2 2504.2 L1472.7 2504.6 L1475.2 2504.9 L1477.7 2505.2 L1480.2 2505.4 L1482.7 2505.7 L1485.1 2505.9 L1487.6 2506.2 L1490.1 2506.4 L1492.6 2506.6 L1495.1 2506.8 L1497.6 2507.0 L1500.1 2507.1 L1502.6 2507.3 L1505.1 2507.4 L1507.6 2507.6 L1510.1 2507.7 L1512.6 2507.9 L1515.1 2508.0 L1517.6 2508.1 L1520.1 2508.2 L1522.6 2508.3 L1525.1 2508.4 L1527.6 2508.5 L1530.1 2508.6 L1532.6 2508.7 L1535.1 2508.8 L1537.6 2508.9 L1540.1 2509.0 L1542.6 2509.0 L1545.1 2509.1 L1547.6 2509.2 L1550.1 2509.3 L1552.6 2509.3 L1555.1 2509.4 L1557.6 2509.5 L1560.1 2509.5 L1562.6 2509.6 L1565.1 2509.7 L1567.6 2509.8 L1570.1 2509.8 L1572.6 2509.9 L1575.1 2510.0 L1577.6 2510.1 L1580.1 2510.2 L1582.6 2510.3 L1585.1 2510.3 L1587.6 2510.4 L1590.1 2510.5 L1592.6 2510.6 L1595.1 2510.7 L1597.6 2510.8 L1600.1 2510.9 L1602.6 2511.0 L1605.1 2511.1 L1607.6 2511.2 L1610.1 2511.3 L1612.6 2511.4 L1615.1 2511.5 L1617.6 2511.6 L1620.1 2511.6 L1622.6 2511.7 L1625.1 2511.8 L1627.6 2511.9 L1630.1 2512.0 L1632.6 2512.1 L1635.1 2512.2 L1637.6 2512.3 L1640.1 2512.4 L1642.6 2512.4 L1645.1 2512.5 L1647.6 2512.6 L1650.1 2512.7 L1652.6 2512.8 L1655.1 2512.9 L1657.6 2512.9 L1660.1 2513.0 L1662.6 2513.1 L1665.1 2513.2 L1667.6 2513.2 L1670.1 2513.3 L1672.6 2513.4 L1675.1 2513.5 L1677.6 2513.5 L1680.1 2513.6 L1682.6 2513.7 L1685.1 2513.8 L1687.6 2513.8 L1690.1 2513.9 L1692.6 2514.0 L1695.1 2514.1 L1697.6 2514.1 L1700.1 2514.2 L1702.6 2514.3 L1705.1 2514.4 L1707.6 2514.4 L1710.1 2514.5 L1712.6 2514.6 L1715.1 2514.7 L1717.6 2514.7 L1720.1 2514.8 L1722.6 2514.9 L1725.1 2515.0 L1727.6 2515.0 L1730.1 2515.1 L1732.6 2515.2 L1735.1 2515.2 L1737.6 2515.3 L1740.1 2515.4 L1742.6 2515.5 L1745.1 2515.5 L1747.6 2515.6 L1750.1 2515.7 L1752.6 2515.7 L1755.1 2515.8 L1757.6 2515.9 L1760.1 2516.0 L1762.6 2516.0 L1765.1 2516.1 L1767.6 2516.2 L1770.1 2516.2 L1772.6 2516.3 L1775.1 2516.4 L1777.6 2516.4 L1780.1 2516.5 L1782.6 2516.5 L1785.1 2516.6 L1787.6 2516.7 L1790.1 2516.7 L1792.6 2516.8 L1795.1 2516.9 L1797.6 2516.9 L1800.1 2517.0 L1802.6 2517.0 L1805.1 2517.1 L1807.6 2517.2" stroke="#ff00ff"/>
<path d="M204.8 1932.6 L205.8 1930.4 L206.9 1928.1 L207.9 1925.8 L208.9 1923.5 L210.0 1921.2 L211.0 1919.0 L212.0 1916.7 L213.0 1914.4 L214.0 1912.1 L215.1 1909.8 L216.1 1907.5 L217.1 1905.2 L218.1 1902.9 L219.1 1900.7 L220.0 1898.4 L221.0 1896.1 L222.0 1893.8 L223.0 1891.5 L224.0 1889.2 L224.9 1886.8 L225.9 1884.5 L226.9 1882.2 L227.8 1879.9 L228.8 1877.6 L229.7 1875.3 L230.7 1873.0 L231.6 1870.7 L232.6 1868.4 L233.5 1866.0 L234.4 1863.7 L235.4 1861.4 L236.3 1859.1 L237.3 1856.8 L238.2 1854.4 L239.1 1852.1 L240.0 1849.8 L241.0 1847.5 L241.9 1845.1 L242.8 1842.8 L243.8 1840.5 L244.7 1838.2 L245.6 1835.9 L246.6 1833.5 L247.5 1831.2 L248.4 1828.9 L249.4 1826.6 L250.3 1824.3 L251.2 1821.9 L252.2 1819.6 L253.1 1817.3 L254.0 1815.0 L255.0 1812.7 L255.9 1810.4 L256.9 1808.0 L257.8 1805.7 L258.8 1803.4 L259.7 1801.1 L260.7 1798.8 L261.6 1796.5 L262.6 1794.2 L263.6 1791.9 L264.6 1789.6 L265.5 1787.3 L266.5 1785.0 L267.5 1782.7 L268.5 1780.4 L269.6 1778.1 L270.6 1775.8 L271.7 1773.6 L272.7 1771.3 L273.8 1769.1 L274.9 1766.8 L276.1 1764.6 L277.2 1762.4 L278.4 1760.1 L279.5 1757.9 L280.7 1755.7 L281.9 1753.5 L283.2 1751.4 L284.4 1749.2 L285.7 1747.0 L287.0 1744.9 L288.3 1742.8 L289.7 1740.7 L291.2 1738.7 L292.7 1736.7 L294.4 1734.9 L296.3 1733.2 L298.2 1731.6 L300.3 1730.2 L302.5 1729.1 L304.9 1728.3 L307.3 1727.8 L309.8 1727.7 L312.3 1728.1 L314.7 1728.8 L316.9 1729.9 L319.0 1731.3 L320.9 1732.9 L322.6 1734.7 L324.2 1736.7 L325.6 1738.7 L326.9 1740.9 L328.1 1743.1 L329.2 1745.3 L330.2 1747.6 L331.1 1749.9 L332.0 1752.3 L332.9 1754.6 L333.8 1756.9 L334.7 1759.3 L335.5 1761.6 L336.3 1764.0 L337.1 1766.4 L337.9 1768.8 L338.7 1771.1 L339.4 1773.5 L340.2 1775.9 L340.9 1778.3 L341.6 1780.7 L342.2 1783.1 L342.9 1785.5 L343.5 1788.0 L344.2 1790.4 L344.8 1792.8 L345.4 1795.2 L346.0 1797.6 L346.6 1800.1 L347.2 1802.5 L347.8 1804.9 L348.4 1807.4 L349.0 1809.8 L349.5 1812.2 L350.1 1814.7 L350.7 1817.1 L351.2 1819.5 L351.8 1822.0 L352.4 1824.4 L353.0 1826.8 L353.5 1829.3 L354.1 1831.7 L354.7 1834.2 L355.2 1836.6 L355.8 1839.0 L356.4 1841.5 L356.9 1843.9 L357.5 1846.3 L358.1 1848.8 L358.6 1851.2 L359.2 1853.6 L359.8 1856.1 L360.3 1858.5 L360.9 1860.9 L361.4 1863.4 L362.0 1865.8 L362.6 1868.3 L363.1 1870.7 L363.7 1873.1 L364.2 1875.6 L364.8 1878.0 L365.3 1880.5 L365.8 1882.9 L366.4 1885.4 L366.9 1887.8 L367.4 1890.2 L367.9 1892.7 L368.5 1895.1 L369.0 1897.6 L369.5 1900.0 L370.0 1902.5 L370.5 1904.9 L371.0 1907.4 L371.5 1909.8 L372.0 1912.3 L372.5 1914.7 L373.0 1917.2 L373.4 1919.6 L373.9 1922.1 L374.4 1924.6 L374.9 1927.0 L375.3 1929.5 L375.8 1931.9 L376.3 1934.4 L376.7 1936.8 L377.2 1939.3 L377.6 1941.8 L378.1 1944.2 L378.5 1946.7 L379.0 1949.1 L379.4 1951.6 L379.8 1954.1 L380.3 1956.5 L380.7 1959.0 L381.1 1961.5 L381.5 1963.9 L382.0 1966.4 L382.4 1968.9 L382.8 1971.3 L383.2 1973.8 L383.6 1976.3 L384.0 1978.7 L384.5 1981.2 L384.9 1983.7 L385.3 1986.1 L385.7 1988.6 L386.1 1991.1 L386.5 1993.5 L386.9 1996.0 L387.3 1998.5 L387.7 2000.9 L388.2 2003.4 L388.6 2005.9 L389.0 2008.3 L389.4 2010.8 L389.8 2013.3 L390.2 2015.7 L390.6 2018.2 L391.0 2020.7 L391.5 2023.1 L391.9 2025.6 L392.3 2028.1 L392.7 2030.5 L393.1 2033.0 L393.5 2035.5 L393.9 2037.9 L394.4 2040.4 L394.8 2042.9 L395.2 2045.3 L395.6 2047.8 L396.0 2050.3 L396.4 2052.7 L396.8 2055.2 L397.3 2057.7 L397.7 2060.1 L398.1 2062.6 L398.5 2065.1 L398.9 2067.5 L399.3 2070.0 L399.7 2072.5 L400.1 2074.9 L400.5 2077.4 L400.9 2079.9 L401.3 2082.3 L401.7 2084.8 L402.1 2087.3 L402.5 2089.7 L402.9 2092.2 L403.3 2094.7 L403.7 2097.1 L404.1 2099.6 L404.5 2102.1 L404.9 2104.6 L405.3 2107.0 L405.7 2109.5 L406.1 2112.0 L406.4 2114.4 L406.8 2116.9 L407.2 2119.4 L407.6 2121.9 L408.0 2124.3 L408.3 2126.8 L408.7 2129.3 L409.1 2131.8 L409.4 2134.2 L409.8 2136.7 L410.2 2139.2 L410.6 2141.6 L410.9 2144.1 L411.3 2146.6 L411.7 2149.1 L412.0 2151.5 L412.4 2154.0 L412.7 2156.5 L413.1 2159.0 L413.5 2161.4 L413.8 2163.9 L414.2 2166.4 L414.5 2168.9 L414.9 2171.3 L415.2 2173.8 L415.6 2176.3 L416.0 2178.8 L416.3 2181.2 L416.7 2183.7 L417.0 2186.2 L417.4 2188.7 L417.7 2191.2 L418.1 2193.6 L418.4 2196.1 L418.8 2198.6 L419.2 2201.1 L419.5 2203.5 L419.9 2206.0 L420.2 2208.5 L420.6 2211.0 L421.0 2213.4 L421.3 2215.9 L421.7 2218.4 L422.1 2220.8 L422.4 2223.3 L422.8 2225.8 L423.2 2228.3 L423.6 2230.7 L423.9 2233.2 L424.3 2235.7 L424.7 2238.2 L425.1 2240.6 L425.4 2243.1 L425.8 2245.6 L426.2 2248.0 L426.6 2250.5 L427.0 2253.0 L427.4 2255.5 L427.8 2257.9 L428.1 2260.4 L428.5 2262.9 L428.9 2265.3 L429.3 2267.8 L429.7 2270.3 L430.1 2272.8 L430.5 2275.2 L430.9 2277.7 L431.3 2280.2 L431.7 2282.6 L432.1 2285.1 L432.5 2287.6 L432.9 2290.0 L433.3 2292.5 L433.7 2295.0 L434.1 2297.4 L434.5 2299.9 L434.9 2302.4 L435.3 2304.8 L435.8 2307.3 L436.2 2309.8 L436.6 2312.2 L437.1 2314.7 L437.5 2317.2 L437.9 2319.6 L438.4 2322.1 L438.9 2324.5 L439.3 2327.0 L439.8 2329.5 L440.3 2331.9 L440.8 2334.4 L441.3 2336.8 L441.8 2339.3 L442.3 2341.7 L442.8 2344.2 L443.3 2346.6 L443.8 2349.0 L444.4 2351.5 L445.0 2353.9 L445.5 2356.4 L446.1 2358.8 L446.7 2361.2 L447.3 2363.7 L447.9 2366.1 L448.5 2368.5 L449.1 2370.9 L449.8 2373.3 L450.4 2375.8 L451.1 2378.2 L451.8 2380.6 L452.5 2383.0 L453.2 2385.4 L454.0 2387.7 L454.8 2390.1 L455.5 2392.5 L456.3 2394.9 L457.2 2397.2 L458.0 2399.6 L458.9 2401.9 L459.8 2404.3 L460.7 2406.6 L461.7 2408.9 L462.7 2411.2 L463.7 2413.5 L464.7 2415.7 L465.8 2418.0 L466.9 2420.3 L468.0 2422.5 L469.2 2424.7 L470.4 2426.9 L471.6 2429.1 L472.9 2431.2 L474.2 2433.3 L475.6 2435.4 L477.0 2437.5 L478.4 2439.5 L479.9 2441.5 L481.5 2443.5 L483.1 2445.4 L484.8 2447.3 L486.5 2449.1 L488.3 2450.8 L490.1 2452.5 L492.1 2454.1 L494.1 2455.6 L496.1 2457.0 L498.3 2458.4 L500.4 2459.5 L502.7 2460.6 L505.0 2461.6 L507.4 2462.4 L509.8 2463.1 L512.2 2463.6 L514.7 2464.0 L517.2 2464.3 L519.7 2464.4 L522.2 2464.4 L524.7 2464.3 L527.2 2464.1 L529.6 2463.7 L532.1 2463.2 L534.5 2462.6 L536.9 2462.0 L539.3 2461.2 L541.7 2460.5 L544.1 2459.6 L546.4 2458.8 L548.8 2457.9 L551.1 2457.0 L553.4 2456.1 L555.8 2455.2 L558.1 2454.3 L560.4 2453.4 L562.8 2452.5 L565.1 2451.6 L567.4 2450.7 L569.7 2449.7 L572.1 2448.8 L574.4 2447.8 L576.7 2446.9 L579.0 2446.0 L581.3 2445.0 L583.6 2444.1 L585.9 2443.1 L588.3 2442.2 L590.6 2441.2 L592.9 2440.2 L595.2 2439.2 L597.5 2438.3 L599.8 2437.2 L602.0 2436.2 L604.3 2435.2 L606.6 2434.1 L608.8 2433.0 L611.1 2431.9 L613.3 2430.8 L615.5 2429.6 L617.7 2428.4 L619.9 2427.2 L622.0 2425.9 L624.2 2424.6 L626.3 2423.3 L628.4 2422.0 L630.5 2420.6 L632.6 2419.2 L634.6 2417.7 L636.6 2416.3 L638.7 2414.8 L640.6 2413.3 L642.6 2411.7 L644.6 2410.2 L646.5 2408.6 L648.4 2407.0 L650.3 2405.4 L652.2 2403.8 L654.1 2402.1 L656.0 2400.4 L657.8 2398.7 L659.6 2397.0 L661.5 2395.3 L663.3 2393.6 L665.0 2391.8 L666.8 2390.1 L668.6 2388.3 L670.3 2386.5 L672.1 2384.7 L673.8 2382.9 L675.5 2381.0 L677.2 2379.2 L678.9 2377.3 L680.5 2375.5 L682.2 2373.6 L683.8 2371.7 L685.5 2369.8 L687.1 2367.9 L688.7 2366.0 L690.3 2364.1 L691.9 2362.2 L693.4 2360.2 L695.0 2358.3 L696.6 2356.3 L698.1 2354.3 L699.6 2352.4 L701.2 2350.4 L702.7 2348.4 L704.2 2346.4 L705.6 2344.3 L707.1 2342.3 L708.6 2340.3 L710.0 2338.3 L711.4 2336.2 L712.9 2334.1 L714.3 2332.1 L715.6 2330.0 L717.0 2327.9 L718.4 2325.8 L719.7 2323.7 L721.1 2321.6 L722.4 2319.4 L723.7 2317.3 L725.0 2315.2 L726.2 2313.0 L727.5 2310.9 L728.8 2308.7 L730.0 2306.5 L731.2 2304.3 L732.4 2302.1 L733.6 2299.9 L734.8 2297.7 L735.9 2295.5 L737.1 2293.3 L738.2 2291.1 L739.4 2288.8 L740.5 2286.6 L741.6 2284.4 L742.7 2282.1 L743.8 2279.9 L744.9 2277.6 L746.0 2275.4 L747.1 2273.1 L748.2 2270.9 L749.2 2268.6 L750.3 2266.4 L751.4 2264.1 L752.5 2261.8 L753.5 2259.6 L754.6 2257.3 L755.7 2255.1 L756.7 2252.8 L757.8 2250.5 L758.9 2248.3 L760.0 2246.0 L761.0 2243.8 L762.1 2241.5 L763.2 2239.2 L764.2 2237.0 L765.3 2234.7 L766.4 2232.4 L767.4 2230.2 L768.5 2227.9 L769.5 2225.6 L770.6 2223.4 L771.6 2221.1 L772.6 2218.8 L773.7 2216.5 L774.7 2214.2 L775.7 2212.0 L776.7 2209.7 L777.7 2207.4 L778.7 2205.1 L779.7 2202.8 L780.7 2200.5 L781.7 2198.2 L782.6 2195.9 L783.6 2193.6 L784.6 2191.3 L785.5 2189.0 L786.5 2186.7 L787.4 2184.3 L788.4 2182.0 L789.4 2179.7 L790.3 2177.4 L791.2 2175.1 L792.2 2172.8 L793.1 2170.5 L794.1 2168.1 L795.0 2165.8 L795.9 2163.5 L796.9 2161.2 L797.8 2158.9 L798.7 2156.5 L799.7 2154.2 L800.6 2151.9 L801.5 2149.6 L802.5 2147.3 L803.4 2144.9 L804.3 2142.6 L805.2 2140.3 L806.1 2137.9 L807.0 2135.6 L808.0 2133.3 L808.9 2131.0 L809.8 2128.6 L810.7 2126.3 L811.6 2124.0 L812.4 2121.6 L813.3 2119.3 L814.2 2116.9 L815.1 2114.6 L816.0 2112.3 L816.8 2109.9 L817.7 2107.6 L818.6 2105.2 L819.4 2102.9 L820.3 2100.5 L821.1 2098.2 L822.0 2095.8 L822.8 2093.5 L823.6 2091.1 L824.5 2088.7 L825.3 2086.4 L826.1 2084.0 L826.9 2081.7 L827.8 2079.3 L828.6 2076.9 L829.4 2074.6 L830.2 2072.2 L831.0 2069.8 L831.8 2067.5 L832.6 2065.1 L833.4 2062.7 L834.2 2060.3 L835.0 2058.0 L835.8 2055.6 L836.6 2053.2 L837.4 2050.9 L838.2 2048.5 L839.0 2046.1 L839.9 2043.8 L840.7 2041.4 L841.5 2039.0 L842.3 2036.7 L843.2 2034.3 L844.0 2032.0 L844.8 2029.6 L845.7 2027.3 L846.6 2024.9 L847.4 2022.6 L848.3 2020.2 L849.2 2017.9 L850.1 2015.6 L851.0 2013.2 L851.9 2010.9 L852.9 2008.6 L853.8 2006.3 L854.8 2004.0 L855.7 2001.7 L856.7 1999.4 L857.7 1997.0 L858.7 1994.7 L859.7 1992.5 L860.6 1990.2 L861.6 1987.9 L862.7 1985.6 L863.7 1983.3 L864.7 1981.0 L865.7 1978.7 L866.7 1976.4 L867.7 1974.1 L868.7 1971.8 L869.6 1969.5 L870.6 1967.2 L871.6 1964.9 L872.6 1962.6 L873.5 1960.3 L874.5 1958.0 L875.4 1955.7 L876.4 1953.4 L877.3 1951.0 L878.2 1948.7 L879.1 1946.4 L880.0 1944.0 L880.9 1941.7 L881.8 1939.4 L882.6 1937.0 L883.5 1934.7 L884.3 1932.3 L885.2 1930.0 L886.0 1927.6 L886.8 1925.2 L887.6 1922.9 L888.4 1920.5 L889.2 1918.1 L890.0 1915.8 L890.8 1913.4 L891.6 1911.0 L892.3 1908.6 L893.1 1906.2 L893.9 1903.8 L894.6 1901.5 L895.3 1899.1 L896.1 1896.7 L896.8 1894.3 L897.6 1891.9 L898.3 1889.5 L899.0 1887.1 L899.7 1884.7 L900.4 1882.3 L901.1 1879.9 L901.8 1877.5 L902.6 1875.1 L903.3 1872.7 L904.0 1870.3 L904.6 1867.9 L905.3 1865.5 L906.0 1863.1 L906.7 1860.7 L907.4 1858.3 L908.1 1855.9 L908.8 1853.5 L909.5 1851.1 L910.2 1848.7 L910.9 1846.3 L911.6 1843.9 L912.3 1841.5 L913.0 1839.1 L913.7 1836.7 L914.4 1834.3 L915.1 1831.9 L915.8 1829.5 L916.5 1827.1 L917.2 1824.7 L917.9 1822.3 L918.6 1819.9 L919.3 1817.5 L920.1 1815.1 L920.8 1812.7 L921.5 1810.3 L922.2 1807.9 L922.9 1805.5 L923.7 1803.1 L924.4 1800.7 L925.1 1798.3 L925.9 1796.0 L926.6 1793.6 L927.3 1791.2 L928.1 1788.8 L928.8 1786.4 L929.5 1784.0 L930.3 1781.6 L931.0 1779.2 L931.8 1776.8 L932.5 1774.4 L933.3 1772.1 L934.0 1769.7 L934.8 1767.3 L935.5 1764.9 L936.3 1762.5 L937.1 1760.1 L937.8 1757.8 L938.6 1755.4 L939.4 1753.0 L940.2 1750.6 L941.0 1748.3 L941.7 1745.9 L942.5 1743.5 L943.3 1741.1 L944.2 1738.8 L945.0 1736.4 L945.8 1734.1 L946.6 1731.7 L947.4 1729.3 L948.3 1727.0 L949.1 1724.6 L950.0 1722.3 L950.8 1719.9 L951.7 1717.6 L952.6 1715.2 L953.5 1712.9 L954.4 1710.6 L955.3 1708.2 L956.2 1705.9 L957.1 1703.6 L958.0 1701.3 L959.0 1698.9 L959.9 1696.6 L960.9 1694.3 L961.8 1692.0 L962.8 1689.7 L963.8 1687.4 L964.8 1685.1 L965.8 1682.8 L966.8 1680.5 L967.8 1678.2 L968.8 1675.9 L969.8 1673.6 L970.8 1671.4 L971.8 1669.1 L972.9 1666.8 L973.9 1664.5 L975.0 1662.3 L976.0 1660.0 L977.1 1657.7 L978.2 1655.5 L979.2 1653.2 L980.3 1651.0 L981.4 1648.7 L982.5 1646.5 L983.6 1644.2 L984.7 1642.0 L985.9 1639.8 L987.0 1637.5 L988.2 1635.3 L989.4 1633.1 L990.5 1630.9 L991.7 1628.7 L993.0 1626.5 L994.2 1624.3 L995.4 1622.2 L996.7 1620.0 L998.0 1617.9 L999.3 1615.7 L1000.6 1613.6 L1001.9 1611.5 L1003.2 1609.3 L1004.6 1607.2 L1005.9 1605.2 L1007.3 1603.1 L1008.7 1601.0 L1010.2 1599.0 L1011.6 1596.9 L1013.1 1594.9 L1014.6 1592.9 L1016.1 1590.9 L1017.6 1588.9 L1019.1 1586.9 L1020.7 1584.9 L1022.2 1583.0 L1023.8 1581.0 L1025.4 1579.1 L1027.0 1577.2 L1028.6 1575.3 L1030.3 1573.4 L1032.0 1571.6 L1033.7 1569.8 L1035.6 1568.1 L1037.5 1566.5 L1039.5 1565.1 L1041.7 1563.7 L1043.9 1562.6 L1046.2 1561.6 L1048.6 1560.9 L1051.0 1560.3 L1053.5 1560.1 L1056.0 1560.1 L1058.5 1560.3 L1060.9 1560.9 L1063.3 1561.7 L1065.6 1562.7 L1067.7 1564.0 L1069.8 1565.4 L1071.7 1567.0 L1073.5 1568.7 L1075.2 1570.6 L1076.8 1572.5 L1078.3 1574.5 L1079.6 1576.6 L1080.9 1578.8 L1082.2 1580.9 L1083.4 1583.1 L1084.5 1585.3 L1085.7 1587.6 L1086.8 1589.8 L1087.9 1592.0 L1089.0 1594.3 L1090.1 1596.5 L1091.2 1598.8 L1092.3 1601.0 L1093.4 1603.3 L1094.4 1605.6 L1095.4 1607.8 L1096.5 1610.1 L1097.5 1612.4 L1098.4 1614.7 L1099.4 1617.0 L1100.4 1619.3 L1101.3 1621.6 L1102.3 1624.0 L1103.2 1626.3 L1104.1 1628.6 L1105.0 1630.9 L1105.9 1633.3 L1106.8 1635.6 L1107.7 1637.9 L1108.6 1640.3 L1109.4 1642.6 L1110.3 1645.0 L1111.1 1647.3 L1111.9 1649.7 L1112.8 1652.1 L1113.6 1654.4 L1114.4 1656.8 L1115.2 1659.2 L1116.0 1661.6 L1116.7 1663.9 L1117.5 1666.3 L1118.3 1668.7 L1119.0 1671.1 L1119.8 1673.5 L1120.5 1675.8 L1121.3 1678.2 L1122.0 1680.6 L1122.7 1683.0 L1123.5 1685.4 L1124.2 1687.8 L1124.9 1690.2 L1125.6 1692.6 L1126.4 1695.0 L1127.1 1697.4 L1127.8 1699.8 L1128.5 1702.2 L1129.2 1704.6 L1129.9 1707.0 L1130.7 1709.4 L1131.4 1711.8 L1132.1 1714.2 L1132.8 1716.6 L1133.5 1718.9 L1134.2 1721.3 L1135.0 1723.7 L1135.7 1726.1 L1136.4 1728.5 L1137.1 1730.9 L1137.9 1733.3 L1138.6 1735.7 L1139.3 1738.1 L1140.1 1740.5 L1140.8 1742.9 L1141.6 1745.3 L1142.3 1747.6 L1143.1 1750.0 L1143.8 1752.4 L1144.6 1754.8 L1145.4 1757.2 L1146.2 1759.5 L1146.9 1761.9 L1147.7 1764.3 L1148.5 1766.7 L1149.3 1769.0 L1150.1 1771.4 L1151.0 1773.8 L1151.8 1776.1 L1152.6 1778.5 L1153.4 1780.9 L1154.2 1783.2 L1155.0 1785.6 L1155.8 1788.0 L1156.6 1790.3 L1157.4 1792.7 L1158.2 1795.1 L1159.0 1797.5 L1159.7 1799.8 L1160.5 1802.2 L1161.2 1804.6 L1162.0 1807.0 L1162.7 1809.4 L1163.4 1811.8 L1164.1 1814.2 L1164.8 1816.6 L1165.5 1819.0 L1166.2 1821.4 L1166.8 1823.8 L1167.5 1826.2 L1168.1 1828.6 L1168.8 1831.1 L1169.4 1833.5 L1170.0 1835.9 L1170.6 1838.3 L1171.2 1840.8 L1171.8 1843.2 L1172.4 1845.6 L1172.9 1848.1 L1173.5 1850.5 L1174.1 1852.9 L1174.7 1855.4 L1175.2 1857.8 L1175.8 1860.2 L1176.3 1862.7 L1176.9 1865.1 L1177.4 1867.6 L1178.0 1870.0 L1178.5 1872.4 L1179.0 1874.9 L1179.6 1877.3 L1180.1 1879.8 L1180.7 1882.2 L1181.2 1884.7 L1181.7 1887.1 L1182.2 1889.6 L1182.8 1892.0 L1183.3 1894.4 L1183.8 1896.9 L1184.3 1899.3 L1184.8 1901.8 L1185.3 1904.2 L1185.8 1906.7 L1186.3 1909.1 L1186.8 1911.6 L1187.3 1914.0 L1187.8 1916.5 L1188.3 1918.9 L1188.8 1921.4 L1189.3 1923.8 L1189.8 1926.3 L1190.3 1928.8 L1190.8 1931.2 L1191.3 1933.7 L1191.8 1936.1 L1192.3 1938.6 L1192.7 1941.0 L1193.2 1943.5 L1193.7 1945.9 L1194.2 1948.4 L1194.7 1950.8 L1195.2 1953.3 L1195.7 1955.7 L1196.2 1958.2 L1196.7 1960.6 L1197.1 1963.1 L1197.6 1965.5 L1198.1 1968.0 L1198.6 1970.4 L1199.1 1972.9 L1199.6 1975.4 L1200.1 1977.8 L1200.6 1980.3 L1201.1 1982.7 L1201.6 1985.2 L1202.0 1987.6 L1202.5 1990.1 L1203.0 1992.5 L1203.5 1995.0 L1204.0 1997.4 L1204.5 1999.9 L1205.0 2002.3 L1205.5 2004.8 L1206.0 2007.2 L1206.4 2009.7 L1206.9 2012.1 L1207.4 2014.6 L1207.9 2017.1 L1208.4 2019.5 L1208.9 2022.0 L1209.3 2024.4 L1209.8 2026.9 L1210.3 2029.3 L1210.8 2031.8 L1211.3 2034.2 L1211.8 2036.7 L1212.2 2039.1 L1212.7 2041.6 L1213.2 2044.0 L1213.7 2046.5 L1214.2 2049.0 L1214.7 2051.4 L1215.2 2053.9 L1215.6 2056.3 L1216.1 2058.8 L1216.6 2061.2 L1217.1 2063.7 L1217.6 2066.1 L1218.1 2068.6 L1218.6 2071.0 L1219.1 2073.5 L1219.6 2075.9 L1220.1 2078.4 L1220.6 2080.8 L1221.1 2083.3 L1221.6 2085.7 L1222.1 2088.2 L1222.7 2090.6 L1223.2 2093.1 L1223.7 2095.5 L1224.2 2098.0 L1224.7 2100.4 L1225.2 2102.9 L1225.7 2105.3 L1226.2 2107.8 L1226.8 2110.2 L1227.3 2112.7 L1227.8 2115.1 L1228.2 2117.6 L1228.7 2120.0 L1229.2 2122.5 L1229.7 2124.9 L1230.2 2127.4 L1230.6 2129.8 L1231.1 2132.3 L1231.6 2134.7 L1232.0 2137.2 L1232.5 2139.7 L1232.9 2142.1 L1233.3 2144.6 L1233.8 2147.1 L1234.2 2149.5 L1234.6 2152.0 L1235.0 2154.5 L1235.4 2156.9 L1235.8 2159.4 L1236.2 2161.9 L1236.6 2164.3 L1237.0 2166.8 L1237.4 2169.3 L1237.8 2171.7 L1238.2 2174.2 L1238.5 2176.7 L1238.9 2179.2 L1239.3 2181.6 L1239.7 2184.1 L1240.0 2186.6 L1240.4 2189.0 L1240.8 2191.5 L1241.2 2194.0 L1241.5 2196.5 L1241.9 2198.9 L1242.3 2201.4 L1242.7 2203.9 L1243.0 2206.4 L1243.4 2208.8 L1243.8 2211.3 L1244.2 2213.8 L1244.6 2216.2 L1244.9 2218.7 L1245.3 2221.2 L1245.7 2223.7 L1246.1 2226.1 L1246.5 2228.6 L1246.9 2231.1 L1247.3 2233.5 L1247.6 2236.0 L1248.0 2238.5 L1248.4 2241.0 L1248.8 2243.4 L1249.2 2245.9 L1249.6 2248.4 L1250.0 2250.8 L1250.4 2253.3 L1250.8 2255.8 L1251.2 2258.2 L1251.6 2260.7 L1252.0 2263.2 L1252.4 2265.6 L1252.9 2268.1 L1253.3 2270.6 L1253.7 2273.0 L1254.1 2275.5 L1254.6 2278.0 L1255.0 2280.4 L1255.4 2282.9 L1255.9 2285.4 L1256.3 2287.8 L1256.8 2290.3 L1257.3 2292.7 L1257.8 2295.2 L1258.3 2297.6 L1258.7 2300.1 L1259.3 2302.5 L1259.8 2305.0 L1260.3 2307.4 L1260.8 2309.9 L1261.4 2312.3 L1261.9 2314.7 L1262.5 2317.2 L1263.1 2319.6 L1263.6 2322.1 L1264.2 2324.5 L1264.8 2326.9 L1265.4 2329.3 L1266.1 2331.8 L1266.7 2334.2 L1267.3 2336.6 L1268.0 2339.0 L1268.6 2341.4 L1269.3 2343.9 L1269.9 2346.3 L1270.6 2348.7 L1271.2 2351.1 L1271.9 2353.5 L1272.6 2355.9 L1273.3 2358.3 L1273.9 2360.7 L1274.6 2363.1 L1275.3 2365.5 L1276.0 2367.9 L1276.7 2370.3 L1277.4 2372.7 L1278.1 2375.1 L1278.8 2377.6 L1279.5 2380.0 L1280.2 2382.4 L1280.9 2384.8 L1281.6 2387.1 L1282.3 2389.5 L1283.0 2391.9 L1283.7 2394.3 L1284.5 2396.7 L1285.2 2399.1 L1286.0 2401.5 L1286.7 2403.9 L1287.5 2406.3 L1288.3 2408.6 L1289.1 2411.0 L1289.9 2413.4 L1290.7 2415.7 L1291.6 2418.1 L1292.4 2420.4 L1293.3 2422.8 L1294.2 2425.1 L1295.1 2427.5 L1296.0 2429.8 L1296.9 2432.1 L1297.9 2434.4 L1298.9 2436.7 L1299.9 2439.0 L1300.9 2441.3 L1302.0 2443.5 L1303.1 2445.8 L1304.2 2448.0 L1305.3 2450.3 L1306.5 2452.5 L1307.6 2454.7 L1308.8 2456.9 L1310.1 2459.1 L1311.4 2461.2 L1312.7 2463.3 L1314.0 2465.5 L1315.3 2467.6 L1316.7 2469.6 L1318.2 2471.7 L1319.6 2473.7 L1321.1 2475.7 L1322.6 2477.7 L1324.2 2479.7 L1325.8 2481.6 L1327.5 2483.5 L1329.2 2485.3 L1330.9 2487.1 L1332.7 2488.9 L1334.5 2490.6 L1336.3 2492.3 L1338.2 2493.9 L1340.2 2495.5 L1342.2 2497.0 L1344.2 2498.4 L1346.3 2499.8 L1348.4 2501.2 L1350.5 2502.4 L1352.7 2503.7 L1354.9 2504.8 L1357.2 2506.0 L1359.4 2507.0 L1361.7 2508.0 L1364.1 2508.9 L1366.4 2509.8 L1368.8 2510.7 L1371.1 2511.4 L1373.5 2512.2 L1375.9 2512.9 L1378.3 2513.5 L1380.8 2514.1 L1383.2 2514.7 L1385.6 2515.2 L1388.1 2515.7 L1390.5 2516.2 L1393.0 2516.6 L1395.5 2517.0 L1398.0 2517.4 L1400.4 2517.8 L1402.9 2518.1 L1405.4 2518.4 L1407.9 2518.7 L1410.4 2518.9 L1412.9 2519.2 L1415.3 2519.4 L1417.8 2519.6 L1420.3 2519.7 L1422.8 2519.9 L1425.3 2520.1 L1427.8 2520.2 L1430.3 2520.3 L1432.8 2520.4 L1435.3 2520.5 L1437.8 2520.6 L1440.3 2520.7 L1442.8 2520.8 L1445.3 2520.9 L1447.8 2520.9 L1450.3 2521.0 L1452.8 2521.0 L1455.3 2521.1 L1457.8 2521.1 L1460.3 2521.2 L1462.8 2521.2 L1465.3 2521.3 L1467.8 2521.3 L1470.3 2521.3 L1472.8 2521.4 L1475.3 2521.4 L1477.8 2521.4 L1480.3 2521.4 L1482.8 2521.5 L1485.3 2521.5 L1487.8 2521.5 L1490.3 2521.6 L1492.8 2521.6 L1495.3 2521.6 L1497.8 2521.7 L1500.3 2521.7 L1502.8 2521.7 L1505.3 2521.7 L1507.8 2521.8 L1510.3 2521.8 L1512.8 2521.9 L1515.3 2521.9 L1517.8 2521.9 L1520.3 2522.0 L1522.8 2522.0 L1525.3 2522.1 L1527.8 2522.1 L1530.3 2522.2 L1532.8 2522.2 L1535.3 2522.3 L1537.8 2522.3 L1540.3 2522.4 L1542.8 2522.4 L1545.3 2522.5 L1547.8 2522.5 L1550.3 2522.6 L1552.8 2522.6 L1555.3 2522.7 L1557.8 2522.7 L1560.4 2522.8 L1562.9 2522.9 L1565.4 2522.9 L1567.9 2523.0 L1570.4 2523.0 L1572.9 2523.1 L1575.4 2523.1 L1577.9 2523.2 L1580.4 2523.2 L1582.9 2523.3 L1585.4 2523.3 L1587.9 2523.4 L1590.4 2523.4 L1592.9 2523.5 L1595.4 2523.5 L1597.9 2523.6 L1600.4 2523.6 L1602.9 2523.7 L1605.4 2523.7 L1607.9 2523.8 L1610.4 2523.8 L1612.9 2523.9 L1615.4 2523.9 L1617.9 2524.0 L1620.4 2524.0 L1622.9 2524.1 L1625.4 2524.1 L1627.9 2524.2 L1630.4 2524.2 L1632.9 2524.3 L1635.4 2524.3 L1637.9 2524.3 L1640.4 2524.4 L1642.9 2524.4 L1645.4 2524.5 L1647.9 2524.5 L1650.4 2524.6 L1652.9 2524.6 L1655.4 2524.7 L1657.9 2524.7 L1660.4 2524.8 L1662.9 2524.8 L1665.4 2524.9 L1667.9 2524.9 L1670.4 2525.0 L1672.9 2525.0 L1675.4 2525.1 L1677.9 2525.1 L1680.4 2525.2 L1682.9 2525.3 L1685.4 2525.3 L1687.9 2525.4 L1690.4 2525.4 L1692.9 2525.5 L1695.4 2525.5 L1697.9 2525.6 L1700.4 2525.7 L1702.9 2525.7 L1705.4 2525.8 L1707.9 2525.8 L1710.4 2525.9 L1712.9 2526.0 L1715.4 2526.0 L1717.9 2526.1 L1720.4 2526.1 L1722.9 2526.2 L1725.4 2526.3 L1727.9 2526.3 L1730.4 2526.4 L1732.9 2526.5 L1735.4 2526.5 L1737.9 2526.6 L1740.4 2526.6 L1742.9 2526.7 L1745.4 2526.7 L1747.9 2526.8 L1750.4 2526.9 L1752.9 2526.9 L1755.4 2527.0 L1757.9 2527.0 L1760.4 2527.1 L1762.9 2527.1 L1765.4 2527.2 L1767.9 2527.2 L1770.4 2527.3 L1772.9 2527.4 L1775.4 2527.4 L1777.9 2527.5 L1780.4 2527.5 L1782.9 2527.6 L1785.4 2527.6 L1787.9 2527.6 L1790.4 2527.7 L1792.9 2527.7 L1795.4 2527.8 L1797.9 2527.8 L1800.4 2527.9 L1802.9 2527.9 L1805.4 2528.0 L1807.9 2528.0" stroke="#0000ff"/>
</g>
<line x1="1309.0" y1="1522.9" x2="1412.3" y2="1522.9" stroke="#000000" stroke-width="7" shape-rendering="crispEdges"/>
<text transform="translate(1436.2 1538.9) scale(0.980 1.000)" text-anchor="start" font-size="46.0">n-hexane</text>
<line x1="1309.0" y1="1582.3" x2="1412.3" y2="1582.3" stroke="#ff0000" stroke-width="7" shape-rendering="crispEdges"/>
<text transform="translate(1436.2 1598.3) scale(0.980 1.000)" text-anchor="start" font-size="46.0">1-chloro-n-butane</text>
<line x1="1309.0" y1="1641.3" x2="1412.3" y2="1641.3" stroke="#00ff00" stroke-width="7" shape-rendering="crispEdges"/>
<text transform="translate(1436.2 1657.3) scale(0.980 1.000)" text-anchor="start" font-size="46.0">acetonitile</text>
<line x1="1309.0" y1="1700.7" x2="1412.3" y2="1700.7" stroke="#ff00ff" stroke-width="7" shape-rendering="crispEdges"/>
<text transform="translate(1436.2 1716.7) scale(0.980 1.000)" text-anchor="start" font-size="46.0">methanol</text>
<line x1="1309.0" y1="1760.1" x2="1412.3" y2="1760.1" stroke="#0000ff" stroke-width="7" shape-rendering="crispEdges"/>
<text transform="translate(1436.2 1776.1) scale(0.980 1.000)" text-anchor="start" font-size="46.0">water</text>
<text transform="translate(692.5 1631.0) scale(0.925 1.000)" text-anchor="middle" font-size="59.0" font-weight="bold">B</text>
<text transform="translate(67.0 2052.9) rotate(-90) scale(1.000 0.980)" text-anchor="middle" font-size="56.0">Normalized absorbance</text>
<text transform="translate(931.8 2817.0) scale(0.980 1)" font-size="55.2"><tspan font-family="'Liberation Serif', 'DejaVu Serif', serif">λ</tspan><tspan x="30.1"> [nm]</tspan></text>
</g>
</svg>
</body></html>
